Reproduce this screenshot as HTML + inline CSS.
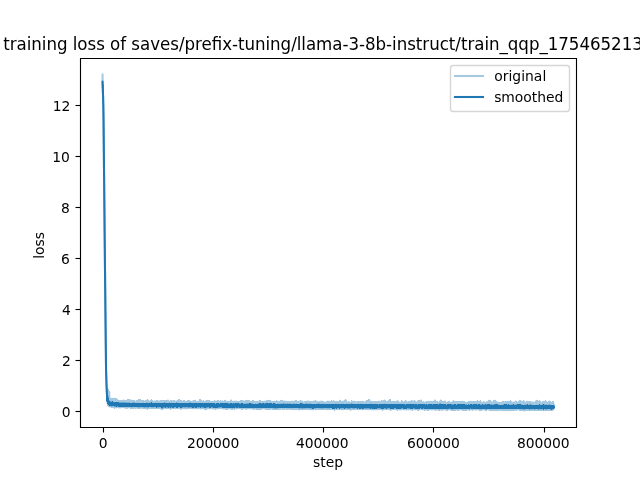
<!DOCTYPE html>
<html lang="en">
<head>
<meta charset="utf-8">
<title>training loss</title>
<style>
html,body{margin:0;padding:0;background:#fff;overflow:hidden}
svg{display:block;will-change:transform}
text{font-family:"DejaVu Sans", "Liberation Sans", sans-serif;fill:#000}
.t{font-size:13.889px}
.h{font-size:16.667px}
.sp{stroke:#000;stroke-width:1.111;fill:none;stroke-linecap:square}
.ln{fill:none;stroke:#1f77b4;stroke-width:2.083;stroke-linejoin:round;stroke-linecap:square}
.cr{shape-rendering:crispEdges;stroke-width:2.200}
</style>
</head>
<body>
<svg width="640" height="480" viewBox="0 0 640 480">
<rect width="640" height="480" fill="#fff"/>
<defs><clipPath id="ax"><rect x="80" y="58" width="496" height="369.5"/></clipPath></defs>
<g class="sp" style="stroke-linecap:butt">
<path d="M103.5 427.5v5"/><path d="M213.5 427.5v5"/><path d="M323.5 427.5v5"/><path d="M433.5 427.5v5"/><path d="M544.5 427.5v5"/><path d="M80.5 411.5h-5"/><path d="M80.5 360.5h-5"/><path d="M80.5 309.5h-5"/><path d="M80.5 258.5h-5"/><path d="M80.5 207.5h-5"/><path d="M80.5 156.5h-5"/><path d="M80.5 105.5h-5"/>
</g>
<g class="t" text-anchor="middle">
<text x="103.17" y="448.48">0</text><text x="213.17" textLength="52.50" lengthAdjust="spacing" y="448.48">200000</text><text x="322.29" textLength="52.50" lengthAdjust="spacing" y="448.48">400000</text><text x="433.41" textLength="52.62" lengthAdjust="spacing" y="448.48">600000</text><text x="543.28" textLength="52.62" lengthAdjust="spacing" y="448.48">800000</text>
<text x="328.00" textLength="30.00" lengthAdjust="spacing" y="467.47">step</text>
<text transform="translate(44.16 245.40) rotate(-90)" textLength="26.62" lengthAdjust="spacing">loss</text>
</g>
<g class="t" text-anchor="end">
<text x="70.66" y="416.78">0</text><text x="70.78" y="365.77">2</text><text x="70.78" y="314.77">4</text><text x="69.78" y="263.77">6</text><text x="69.78" y="212.77">8</text><text x="69.78" textLength="17.62" lengthAdjust="spacing" y="161.77">10</text><text x="70.28" textLength="17.62" lengthAdjust="spacing" y="110.77">12</text>
</g>
<defs><path id="po" d="M107.29 397.07L107.29 394.69L107.53 400.88L107.54 400.27L107.54 399.11L107.65 403.43L107.73 389.6L107.79 400.25L107.79 401.83L107.87 392.11L108.03 404.76L108.04 402.43L108.04 401.34L108.06 396.07L108.27 404.83L108.29 401.4L108.29 401.75L108.34 391.95L108.49 405.55L108.54 403.38L108.54 402.93L108.75 392.54L108.76 405.66L108.79 404.25L108.79 405.12L108.92 393.29L108.93 405.74L109.04 398.36L109.04 402.97L109.09 393.63L109.18 405.78L109.29 404.98L109.29 403.38L109.32 392.47L109.35 406.03L109.54 403.64L109.54 403.54L109.61 406.39L109.65 399.3L109.79 403.6L109.79 403.74L109.95 405.63L109.96 399.27L110.04 403.15L110.04 401.95L110.23 406.21L110.26 399.06L110.29 403.83L110.29 403.54L110.31 398.77L110.45 406.12L110.54 404.15L110.54 403.74L110.63 406.3L110.75 399.46L110.79 402.62L110.79 401.92L110.86 401.02L111.01 406.21L111.04 405.12L111.04 404.25L111.19 406.19L111.25 400.63L111.29 402.78L111.29 402.91L111.34 398.74L111.53 405.6L111.53 403.59L111.54 403.5L111.55 400.4L111.61 406.76L111.79 402.98L111.79 402.56L111.97 406.1L112.03 398.79L112.04 404.57L112.04 404.16L112.07 399.68L112.26 406.77L112.29 404.28L112.29 405.59L112.32 406.13L112.52 399.21L112.54 401.69L112.54 405.84L112.59 406.23L112.78 400.59L112.79 403.65L112.79 405.17L112.93 399.43L112.96 406.69L113.04 403.64L113.04 404.39L113.1 406.53L113.17 399.71L113.29 404.2L113.29 402.88L113.38 406.35L113.52 400.06L113.54 404.23L113.54 402.75L113.63 399.92L113.75 406.22L113.79 402.94L113.79 403.87L113.82 406.19L113.97 400.92L114.04 404.5L114.04 404.08L114.06 406.47L114.16 399.41L114.29 403.53L114.29 403.17L114.35 398.68L114.37 406.86L114.54 403.79L114.54 403.56L114.58 407.52L114.76 399.98L114.79 400.99L114.79 403.6L114.95 401.71L114.98 406.9L115.04 405.24L115.04 405.32L115.06 399.77L115.14 406.75L115.29 406.29L115.29 405.17L115.39 406.77L115.45 399.24L115.54 403.6L115.54 403.59L115.61 398.93L115.78 406.78L115.78 404.82L115.79 405.43L115.86 406.54L115.99 401.7L116.04 405.25L116.04 403.64L116.18 400.27L116.26 406.82L116.29 404.54L116.29 404.34L116.31 407.29L116.39 399.58L116.54 403.7L116.54 404.7L116.56 401.91L116.69 407.27L116.79 404.09L116.79 403.91L116.87 400.09L117.02 406.55L117.04 404.75L117.04 405.18L117.05 406.52L117.15 400.87L117.29 404.43L117.29 404.77L117.33 406.51L117.4 400.69L117.54 402.32L117.54 404.78L117.62 401.96L117.69 406.8L117.79 404.59L117.79 403.42L117.9 407.05L118.03 401.97L118.04 402.99L118.04 403.07L118.23 406.74L118.26 401.12L118.29 404.43L118.29 401.19L118.4 406.48L118.54 404.2L118.54 405.44L118.75 406.97L118.77 402.73L118.79 404.87L118.79 405.91L118.91 406.36L118.94 401.44L119.04 403.5L119.04 403.61L119.22 402.33L119.22 407.44L119.29 403.38L119.29 404.83L119.44 406.18L119.52 401.27L119.54 403.77L119.54 404.36L119.77 406.92L119.77 401.56L119.79 406.08L119.79 405.28L119.84 401.77L120.02 407.13L120.03 404.28L120.04 406.12L120.05 406.92L120.26 401.26L120.29 405.33L120.29 404.19L120.36 401.97L120.42 406.94L120.54 402.46L120.54 404.76L120.63 406.96L120.68 401.44L120.79 403.92L120.79 405.12L120.9 401.3L120.99 406.92L121.04 403.71L121.04 404.21L121.05 401.4L121.23 407.24L121.29 405.17L121.29 404.24L121.3 401.98L121.3 406.63L121.54 404.72L121.54 406.1L121.62 402.32L121.7 407.12L121.79 403.52L121.79 405.4L121.87 401.89L121.98 406.97L122.04 405.67L122.04 403.65L122.14 407.13L122.24 401.12L122.29 404.97L122.29 403.94L122.47 401.91L122.53 406.96L122.54 405.48L122.54 405.66L122.64 406.48L122.71 400.78L122.79 404.57L122.79 403.24L122.86 401.73L122.89 406.97L123.04 404.01L123.04 403.78L123.04 406.84L123.17 401.82L123.29 404.76L123.29 403.62L123.31 406.52L123.36 401.74L123.54 404.73L123.54 403.6L123.64 401.26L123.77 406.49L123.79 405.9L123.79 405.09L123.99 406.54L124.01 400.45L124.04 405.94L124.04 406.06L124.13 406.49L124.14 402.31L124.29 405.06L124.29 406.12L124.31 407.22L124.41 401.3L124.54 404.26L124.54 404.68L124.7 406.86L124.75 401.85L124.79 404.19L124.79 406.41L124.81 406.94L124.9 402.44L125.04 406.14L125.04 404.83L125.09 402.35L125.18 406.84L125.29 405.03L125.29 404.44L125.37 406.5L125.53 401.57L125.54 405.24L125.54 404.26L125.57 407.68L125.73 401.71L125.79 405.08L125.79 406.36L125.91 407.17L125.98 402.32L126.04 403.92L126.04 405.55L126.12 406.74L126.17 401.14L126.29 405.65L126.29 404.83L126.3 406.67L126.41 402.22L126.54 404.71L126.54 404.29L126.67 401.53L126.67 406.87L126.79 403.09L126.79 402.14L126.81 407.43L127.01 401.8L127.04 403.09L127.04 404.56L127.1 402.48L127.16 406.89L127.29 405.25L127.29 405.19L127.44 402.14L127.47 407.24L127.54 404.57L127.54 404.55L127.54 400.9L127.57 407.72L127.79 406.25L127.79 406.1L127.87 400.06L128.03 407.36L128.04 405.56L128.04 404.73L128.1 407.15L128.23 402.39L128.29 404.89L128.29 404.59L128.45 399.96L128.5 406.37L128.54 404.34L128.54 404.27L128.6 406.71L128.64 401.76L128.79 404.24L128.79 403.83L128.83 401.47L128.93 406.95L129.04 404.95L129.04 405.22L129.08 407.29L129.21 401.59L129.29 405.48L129.29 405.42L129.35 406.86L129.4 400.58L129.54 405.4L129.54 405L129.59 401.52L129.76 407.33L129.79 404.17L129.79 404.33L129.85 402.28L129.98 406.88L130.04 404.91L130.04 404.58L130.15 406.55L130.2 402L130.29 404.28L130.29 404.9L130.42 407.2L130.5 402.02L130.54 406.42L130.54 404.64L130.57 407.54L130.74 402.88L130.79 404.42L130.79 404.61L130.93 407.77L131 400.66L131.04 403.63L131.04 405.4L131.08 407.52L131.22 401.57L131.29 405.55L131.29 406.17L131.35 407.34L131.51 402.16L131.54 403.58L131.54 404.61L131.62 407.19L131.63 402.28L131.79 404.49L131.79 404.26L131.79 401.46L131.86 407.85L132.04 404.95L132.04 404.65L132.08 407.49L132.1 403.03L132.29 404.88L132.29 407.35L132.4 401.4L132.54 406.81L132.54 406L132.59 401.69L132.69 407.22L132.79 404.89L132.79 406.03L132.88 401.2L133 406.89L133.04 403.1L133.04 404.73L133.04 407.3L133.26 402.04L133.29 405.14L133.29 402.36L133.38 406.82L133.54 403.23L133.54 404.97L133.58 402.47L133.69 407.65L133.78 405.41L133.79 405.58L133.94 406.7L133.99 400.89L134.04 404.93L134.04 403.99L134.1 401.17L134.2 407.44L134.29 405L134.29 404.18L134.44 402.15L134.53 407.04L134.54 404.76L134.54 404.5L134.77 407.07L134.78 401.6L134.79 405.01L134.79 404.64L134.84 401.73L134.91 406.74L135.04 405.97L135.04 404.35L135.23 407.61L135.25 402.4L135.29 405.05L135.29 404.88L135.3 402L135.48 407.43L135.54 404.82L135.54 405.75L135.74 407.09L135.77 401.78L135.79 404.85L135.79 405.08L135.87 407.24L135.96 401.93L136.04 405.41L136.04 404.23L136.05 406.88L136.07 402.16L136.29 404.64L136.29 405.38L136.43 407.22L136.46 402.18L136.54 404.96L136.54 405.37L136.54 407.36L136.73 402.51L136.79 404.78L136.79 404.5L136.89 403.15L136.95 407.48L137.04 405.54L137.04 403.68L137.05 401.29L137.17 407.43L137.29 403.63L137.29 404.11L137.34 407.33L137.36 401.86L137.54 404.46L137.54 404.69L137.59 407.75L137.65 402.63L137.79 403.22L137.79 405.49L137.84 407.3L138 401.94L138.03 405.9L138.04 404.37L138.19 407.14L138.2 402.68L138.29 404.38L138.29 404.26L138.51 407.51L138.52 402.36L138.54 405.65L138.54 404.75L138.59 400.44L138.65 406.63L138.79 404.82L138.79 404.92L138.81 402.42L138.91 407.55L139.04 404.77L139.04 405.12L139.05 402.22L139.25 407.42L139.29 404.7L139.29 405.57L139.46 402.66L139.53 407.42L139.54 404.94L139.54 404.79L139.62 407.39L139.71 400.2L139.79 403.43L139.79 404.98L139.92 402.26L140 408.08L140.04 404.08L140.04 405.09L140.16 402.3L140.2 407.55L140.29 404.2L140.29 405.31L140.3 407.47L140.41 400.83L140.54 405.89L140.54 405.21L140.58 407.33L140.78 402.19L140.79 404.94L140.79 403.67L140.84 402.43L140.98 406.81L141.04 406.59L141.04 405.76L141.13 407.52L141.25 402.44L141.29 404.68L141.29 404.86L141.44 402.26L141.49 407.01L141.54 404.01L141.54 405.62L141.66 402.71L141.73 407.18L141.79 406.52L141.79 405.41L141.79 407.11L141.93 401.57L142.04 404.49L142.04 405.04L142.1 401.38L142.18 407.05L142.28 404.42L142.29 406.47L142.39 407.78L142.42 401.95L142.54 407.41L142.54 405.94L142.66 407.53L142.68 402.37L142.79 404.54L142.79 403.25L142.96 407.03L143.02 401.89L143.04 406.15L143.04 404.67L143.16 401.97L143.2 407.53L143.29 404.11L143.29 403.75L143.4 402.51L143.5 407.2L143.54 405.75L143.54 404.63L143.69 407.29L143.74 401.53L143.79 406.49L143.79 403.16L143.81 407.74L143.89 402.18L144.04 405.25L144.04 406.34L144.06 402.35L144.11 407.18L144.29 405.75L144.29 405.2L144.33 401.57L144.36 407.49L144.54 402.87L144.54 404.41L144.58 401.78L144.69 407.53L144.79 405.6L144.79 405.25L144.81 407.28L144.88 402.02L145.04 405.56L145.04 406.09L145.12 408.2L145.13 402.24L145.29 405.2L145.29 406.12L145.42 402.35L145.44 407.23L145.54 404.81L145.54 405.63L145.72 401.77L145.79 407.05L145.79 405.64L145.91 407.55L146.02 401.01L146.04 404.26L146.04 403.93L146.18 407.63L146.26 401.58L146.29 404.42L146.29 406.78L146.33 407.75L146.48 403.11L146.53 403.29L146.54 405.73L146.57 401.83L146.7 407.88L146.79 404.61L146.79 406.38L146.8 402.28L147.03 407.39L147.04 406.05L147.04 405.33L147.11 408.55L147.19 401.2L147.29 405.65L147.29 404.54L147.32 406.52L147.45 400.86L147.54 402.83L147.54 404.76L147.57 400.33L147.78 407.36L147.79 405.41L147.79 405.3L147.85 402.12L147.94 407.68L148.04 405.02L148.04 405.5L148.12 402.4L148.29 407.76L148.29 406.16L148.46 407.3L148.52 402.14L148.54 405.74L148.54 405.32L148.56 401.14L148.77 406.83L148.79 404.76L148.79 403.46L148.8 407.32L148.87 401.79L149.04 405.49L149.04 406.57L149.16 407.5L149.29 402.6L149.29 402.94L149.35 401.7L149.41 407.08L149.54 404.76L149.54 406.44L149.62 407.44L149.73 402.61L149.79 405.68L149.79 403.83L149.83 407.15L149.99 401.8L150.04 404.49L150.04 404.76L150.19 402.03L150.27 407.6L150.29 406.43L150.29 406.01L150.31 406.98L150.43 401.87L150.54 406.36L150.54 407.07L150.66 402.5L150.78 407.32L150.79 403.53L150.79 405.12L150.96 407.3L150.97 401.08L151.04 405.41L151.04 405.54L151.2 401.28L151.27 407.21L151.29 405.49L151.29 406.63L151.42 407.7L151.52 400.47L151.54 402.62L151.54 405.18L151.62 402.31L151.78 407.48L151.79 406.15L151.79 406.07L151.95 407.26L151.99 402.77L152.04 404.64L152.04 403.15L152.08 407.52L152.21 402.23L152.29 406.62L152.29 402.8L152.39 407.6L152.44 402.01L152.54 404.5L152.54 403.77L152.65 401.85L152.75 407.76L152.79 405.41L152.79 406.05L152.94 403.06L153.01 408.02L153.04 405.88L153.04 404.06L153.06 402.65L153.12 407.4L153.29 404.69L153.29 406.2L153.32 407.7L153.47 402.01L153.54 405.54L153.54 405.47L153.57 402.36L153.64 407.34L153.79 404.81L153.79 404.43L153.97 402.61L154 407.5L154.04 405.62L154.04 406.05L154.12 407.07L154.26 401.64L154.29 406.6L154.29 405.53L154.31 407.81L154.34 401.97L154.54 404.06L154.54 403.49L154.62 407.43L154.67 402.52L154.79 405.06L154.79 405.74L154.96 402.19L154.98 407.08L155.04 406.16L155.04 406.26L155.04 407.45L155.17 402.35L155.29 406.35L155.29 404.53L155.44 402.35L155.52 407.48L155.54 405.84L155.54 405L155.58 401.62L155.74 407.47L155.79 404.39L155.79 404.23L155.93 407.49L155.97 402.15L156.04 404.17L156.04 405.98L156.05 402L156.23 407.39L156.29 405.73L156.29 405.6L156.34 402.35L156.39 407.32L156.54 404.68L156.54 403.98L156.66 407.54L156.72 401.44L156.79 405.16L156.79 405.75L156.82 408.33L157.02 401.83L157.04 404.45L157.04 405.23L157.19 401.76L157.25 407.31L157.29 404.13L157.29 405.08L157.38 406.96L157.49 401.53L157.54 404.26L157.54 404.37L157.59 401.29L157.62 406.98L157.79 405.53L157.79 404.71L157.95 407.16L157.99 402.47L158.04 404.4L158.04 405L158.16 407.5L158.23 402.51L158.29 404.03L158.29 405.51L158.38 401.66L158.47 407.53L158.54 403.19L158.54 404.18L158.56 402.14L158.78 407.68L158.79 403L158.79 406.44L158.8 407.41L158.99 402.28L159.04 405.36L159.04 405.02L159.19 407.69L159.22 401.81L159.29 403.59L159.29 406.27L159.35 401.83L159.48 407.75L159.54 405.47L159.54 405.13L159.55 407.68L159.55 402.06L159.79 406.77L159.79 405.03L159.84 407.87L159.96 402.73L160.04 405.47L160.04 406.41L160.1 407.74L160.28 402.05L160.28 404.55L160.29 403.52L160.36 407.51L160.48 401.53L160.54 406.55L160.54 404.68L160.67 402.64L160.73 407.35L160.79 405.25L160.79 406.38L160.81 407.55L160.94 402.95L161.04 405.62L161.04 405.23L161.14 407.47L161.19 402.59L161.29 407.08L161.29 404.76L161.45 402.05L161.53 408.88L161.54 404.45L161.54 406.03L161.54 407.82L161.78 402.46L161.79 404.79L161.79 403.7L161.89 407.68L161.95 402.4L162.04 405.82L162.04 404.97L162.18 407.06L162.27 401.32L162.29 405.49L162.29 405.41L162.35 409.07L162.44 401.98L162.54 407.36L162.54 406.21L162.66 407.79L162.74 402.19L162.79 404.97L162.79 405.23L162.82 401.72L162.94 407.5L163.04 404.68L163.04 405.27L163.14 407.32L163.14 402.52L163.29 404.84L163.29 405.16L163.31 407.37L163.37 401.09L163.54 404.53L163.54 404.63L163.69 407.75L163.76 402.3L163.79 404.95L163.79 405.67L163.96 402L164.01 407.55L164.04 406.45L164.04 404.19L164.04 402.62L164.15 407.87L164.29 404.31L164.29 404.07L164.29 402.38L164.4 407.96L164.53 405.65L164.54 404.95L164.65 401.44L164.75 407.26L164.79 406.77L164.79 406.76L164.94 407.39L165.02 402.89L165.04 405.1L165.04 404.34L165.25 402.75L165.29 407.67L165.29 405.2L165.46 407.59L165.53 401.23L165.54 405L165.54 404.8L165.7 401.67L165.71 407.39L165.79 404.7L165.79 403.77L165.89 401.77L166.01 407L166.04 406.38L166.04 403.03L166.15 407.87L166.19 402.55L166.29 404.42L166.29 407.1L166.3 407.28L166.32 402.4L166.54 405.97L166.54 406.97L166.57 401.08L166.76 407.61L166.79 406.08L166.79 406.35L166.86 402.65L166.94 408.18L167.04 405.87L167.04 405.83L167.17 402.8L167.2 408L167.29 406.5L167.29 405.17L167.43 401.88L167.48 407.35L167.54 406.22L167.54 406.72L167.54 402.18L167.64 407.78L167.79 404.69L167.79 405.24L167.93 407.31L167.93 400.53L168.04 405.78L168.04 403.66L168.04 407.8L168.11 401.97L168.29 406.33L168.29 405.19L168.36 402.74L168.44 407.57L168.54 403.65L168.54 405.1L168.69 402.28L168.71 407.01L168.78 405.82L168.79 404.8L168.93 407.69L169.03 402.67L169.04 405.66L169.04 405.56L169.06 402.48L169.1 407.83L169.29 404.59L169.29 404.29L169.36 408.04L169.52 402.54L169.54 404.99L169.54 403.75L169.56 407.64L169.76 401.91L169.79 404.81L169.79 405.84L169.81 402.37L170.03 407.62L170.04 405.31L170.04 404.91L170.09 402.02L170.18 407.89L170.29 404.66L170.29 406.46L170.42 407.42L170.51 402.13L170.54 404.9L170.54 404.28L170.6 401.16L170.73 408.48L170.79 404.72L170.79 406.58L170.83 402.6L171.01 407.75L171.04 405.98L171.04 405.61L171.13 408.09L171.19 401.57L171.29 405.29L171.29 405.93L171.38 406.94L171.48 401.1L171.54 402.24L171.54 404.49L171.54 401.65L171.66 407.32L171.79 405.04L171.79 405.78L171.84 407.48L171.87 401.55L172.04 404.81L172.04 404L172.1 403.15L172.17 407.39L172.29 405.58L172.29 404.88L172.37 407.64L172.43 401.87L172.54 405.35L172.54 404.57L172.57 407.2L172.68 402.22L172.79 405.44L172.79 406.19L172.97 402.45L172.99 407.88L173.04 406.31L173.04 405.34L173.08 408.03L173.27 402.6L173.29 404.93L173.29 402.79L173.32 401.38L173.42 407.77L173.54 403.83L173.54 407.1L173.66 401.75L173.79 405.2L173.79 404.75L173.95 402.5L173.96 407.87L174.04 407.34L174.04 405.67L174.07 403.16L174.11 407.12L174.29 406.36L174.29 404.68L174.38 401.35L174.46 407.78L174.54 407.46L174.54 407.24L174.76 402.78L174.77 407.54L174.79 406.05L174.79 405.06L174.86 402.83L174.9 407.86L175.04 407.18L175.04 406.01L175.15 401.94L175.25 407.69L175.29 404.5L175.29 404.39L175.31 407.77L175.46 402.27L175.54 405.25L175.54 405.67L175.63 407.79L175.78 402.41L175.79 406.3L175.79 405.91L175.9 401.78L175.94 407.21L176.04 404.45L176.04 406.03L176.12 402.49L176.22 407.62L176.29 404.59L176.29 405.01L176.29 407.64L176.48 402.57L176.54 404.56L176.54 405.52L176.72 406.83L176.75 401.88L176.79 405.2L176.79 403.74L176.8 401.56L177 408.04L177.04 404.62L177.04 404.54L177.08 407.42L177.22 402.35L177.29 404.33L177.29 404.82L177.29 402.91L177.48 408.2L177.54 405.71L177.54 406.21L177.59 402.33L177.73 407.84L177.79 406.5L177.79 406.31L177.79 406.6L177.95 401.01L178.04 404.02L178.04 403.05L178.21 402.33L178.28 407.72L178.29 405.57L178.29 406.38L178.37 407.76L178.38 402.78L178.54 404.73L178.54 406.4L178.68 407.83L178.77 402.21L178.79 405.97L178.79 406.54L178.88 400.29L178.99 407.49L179.04 405.72L179.04 405.69L179.11 407.65L179.13 401.73L179.29 403.48L179.29 405.77L179.44 402.45L179.51 407.59L179.54 404.78L179.54 403.99L179.6 407.53L179.65 402.05L179.79 404.95L179.79 404.37L179.9 407.7L179.97 402.22L180.04 406.93L180.04 404.98L180.05 407.85L180.23 402.45L180.29 406.2L180.29 405.9L180.39 408.09L180.43 402.81L180.54 405.05L180.54 405.92L180.57 402.26L180.61 408.6L180.79 406.47L180.79 404.83L180.79 407.44L180.93 401.81L181.04 403.25L181.04 405.58L181.18 401.39L181.27 406.83L181.29 404.1L181.29 405.26L181.31 403.14L181.46 408.21L181.54 404.72L181.54 405.23L181.65 407.76L181.7 402.35L181.79 405.68L181.79 405.82L181.85 407.62L181.91 402.6L182.04 405.02L182.04 403.48L182.13 407.78L182.21 401.79L182.29 405L182.29 403.15L182.35 402.57L182.48 407.59L182.53 405.38L182.54 405.72L182.6 407.33L182.74 402.62L182.79 405.89L182.79 403.76L182.86 402.49L182.97 408.27L183.04 404.95L183.04 405.02L183.16 402.68L183.23 407.3L183.29 404.14L183.29 403.72L183.33 401.93L183.49 407.53L183.54 406.23L183.54 405.86L183.63 407.98L183.76 401.89L183.79 406.34L183.79 405.55L183.8 401.32L183.96 407.7L184.04 405.39L184.04 406.95L184.07 407.43L184.17 402.57L184.29 405.23L184.29 406.74L184.31 407.9L184.52 402.42L184.54 406L184.54 403.58L184.6 402.39L184.75 407.19L184.79 405.43L184.79 404.98L184.85 402.85L184.94 408.04L185.04 404.63L185.04 405.54L185.17 407.71L185.23 401.95L185.29 406.51L185.29 404.44L185.36 407.91L185.51 402.63L185.54 403.9L185.54 404.53L185.67 408.41L185.72 402.05L185.79 405.1L185.79 405.95L185.8 401.79L185.82 407.55L186.04 406.26L186.04 405.78L186.15 407.89L186.25 402.76L186.29 404.9L186.29 402.9L186.3 407.47L186.33 402.11L186.54 405.67L186.54 404.54L186.72 402.27L186.73 407.66L186.78 406.66L186.79 407.01L186.8 402.8L186.88 407.55L187.04 404.9L187.04 405.27L187.07 407.41L187.27 401.94L187.29 405.59L187.29 403.11L187.42 402.02L187.53 408.14L187.54 407.43L187.54 407.03L187.67 408.07L187.76 402.56L187.79 404.53L187.79 404.76L187.98 402.83L188.02 407.27L188.04 405.83L188.04 404.9L188.07 407.71L188.16 401.39L188.29 405.72L188.29 407.07L188.3 402.09L188.53 407.84L188.54 405.55L188.54 404.33L188.55 407.8L188.7 401.88L188.79 404.91L188.79 403.66L188.85 407.17L188.96 402.81L189.04 403.97L189.04 404.85L189.14 407.61L189.27 402.06L189.29 405.07L189.29 404.6L189.34 402.34L189.45 407.74L189.54 405.62L189.54 404.98L189.71 401.38L189.74 407.53L189.79 406.5L189.79 406.89L189.95 407.55L189.97 402.31L190.04 404.97L190.04 405.42L190.09 401.73L190.18 407.25L190.29 405.99L190.29 404.65L190.31 407.4L190.42 402.14L190.54 404.55L190.54 405.64L190.61 402.02L190.75 407.35L190.79 404.89L190.79 403.32L190.82 402.26L190.86 407.51L191.03 404.66L191.04 406.62L191.1 407.69L191.14 402.68L191.29 405.19L191.29 405.61L191.3 407.63L191.42 402.33L191.54 404.2L191.54 405.7L191.64 402.96L191.75 407.84L191.79 407.79L191.79 407.09L191.92 402.69L191.97 407.91L192.04 404.99L192.04 405.4L192.11 408.04L192.25 401.78L192.29 405.35L192.29 405.18L192.39 402.45L192.46 407.91L192.54 404.25L192.54 405.83L192.57 402.51L192.6 408.27L192.79 405.16L192.79 403.98L193.01 402.77L193.02 407.33L193.04 406.38L193.04 407.07L193.11 401.61L193.19 408.24L193.29 406.56L193.29 406.63L193.37 408.21L193.43 401.78L193.54 406.33L193.54 406.19L193.58 408.11L193.59 402.99L193.79 404.67L193.79 405.83L193.84 407.85L193.94 402.82L194.04 406.61L194.04 406.24L194.11 407.57L194.28 401L194.29 404.81L194.29 404.85L194.29 402.62L194.42 407.96L194.54 405.2L194.54 404.62L194.68 402L194.76 407.73L194.79 405.29L194.79 405.92L194.82 407.04L194.91 402.47L195.04 404.39L195.04 405.66L195.11 400.68L195.17 407.41L195.28 405.89L195.29 406.1L195.36 407.66L195.43 402.69L195.54 404.9L195.54 406.08L195.62 408.04L195.76 402.51L195.79 406.14L195.79 405.46L195.91 402.23L195.95 407.98L196.04 407.21L196.04 405.99L196.07 402.93L196.24 407.74L196.29 404.85L196.29 404.32L196.33 402.45L196.48 408.33L196.54 405.59L196.54 406.34L196.61 402.94L196.63 407.87L196.79 404.64L196.79 405.04L196.91 402.37L196.99 407.52L197.04 406.47L197.04 407.13L197.04 407.98L197.21 402.29L197.29 404.76L197.29 404.95L197.29 407.41L197.31 401.91L197.54 404.77L197.54 404.95L197.6 402.73L197.63 407.7L197.79 404.27L197.79 405.38L197.82 407.86L198.03 402.75L198.04 402.79L198.04 404.48L198.25 408.08L198.28 403.03L198.29 403.88L198.29 406.26L198.37 408.26L198.53 402.56L198.54 404.2L198.54 404.44L198.58 402.99L198.72 407.41L198.79 406.54L198.79 404.62L198.87 407.76L199.03 402.36L199.04 405.76L199.04 404.5L199.1 407.25L199.12 401.43L199.29 405.14L199.29 404.94L199.5 407.71L199.53 402.99L199.54 404.13L199.54 401.98L199.57 401.85L199.68 407.8L199.79 405.55L199.79 405.96L199.82 402.39L199.98 407.52L200.04 402.52L200.04 404.66L200.14 400.34L200.21 407.23L200.29 404.91L200.29 404.26L200.31 402.3L200.36 407.53L200.54 405.16L200.54 405.96L200.7 402.45L200.78 407.56L200.79 406.35L200.79 403.84L200.84 402.9L200.89 408.47L201.04 405.15L201.04 403.62L201.11 401.94L201.2 407.61L201.29 404.92L201.29 404.33L201.39 401.33L201.51 407.68L201.54 406.18L201.54 403.9L201.66 408.06L201.71 401.83L201.79 404.01L201.79 406.54L201.81 407.41L202.03 401.52L202.04 406.76L202.04 405.75L202.18 407.35L202.18 401.86L202.29 405.68L202.29 405.15L202.34 407.53L202.38 402.17L202.54 405.26L202.54 407.3L202.6 402.54L202.75 407.76L202.79 406.72L202.79 405.76L202.98 403.4L203.02 408.02L203.04 404.46L203.04 404.82L203.15 407.44L203.22 402.4L203.29 404.51L203.29 404.59L203.39 401.54L203.53 407.18L203.54 406.39L203.54 404.35L203.66 403.24L203.73 407.89L203.79 406.14L203.79 406.18L203.83 402.08L203.94 407.46L204.04 406.38L204.04 405.06L204.17 408.07L204.22 402.29L204.29 405.18L204.29 406.46L204.33 402.17L204.4 408.35L204.54 404.44L204.54 405.61L204.71 408.48L204.71 402.97L204.79 406.51L204.79 407.27L204.85 407.87L204.95 401.93L205.04 404.4L205.04 403.2L205.08 402.84L205.24 407.85L205.29 406.07L205.29 405.94L205.32 402.2L205.53 407.26L205.54 406.76L205.54 404.87L205.57 403.09L205.74 408.05L205.79 406.92L205.79 405.2L205.89 401.78L205.98 408.59L206.04 405.98L206.04 405.98L206.14 407.62L206.25 401.37L206.29 404.91L206.29 401.94L206.47 407.16L206.54 404.94L206.54 404.52L206.67 407.75L206.7 402.11L206.79 405.55L206.79 405.16L206.92 401.87L207.02 407.44L207.04 404.25L207.04 406.89L207.05 407.68L207.1 402.26L207.29 405.39L207.29 406.72L207.4 402.84L207.42 408.13L207.54 404.23L207.54 402.58L207.76 407.45L207.76 401.33L207.79 404.11L207.79 405.6L207.98 407.22L208.03 402.83L208.04 404.94L208.04 405.39L208.1 407.51L208.26 402.41L208.29 406.12L208.29 402.85L208.29 402.72L208.47 407.79L208.54 405.88L208.54 405.72L208.64 402.33L208.75 407.6L208.79 405.11L208.79 405.24L208.82 402.33L208.87 408.01L209.03 403.92L209.04 406.09L209.06 407.99L209.26 400.97L209.29 402.18L209.29 405.07L209.29 403.04L209.4 407.84L209.54 405.56L209.54 407.04L209.56 402.05L209.57 407.97L209.79 407.65L209.79 405.92L209.79 408.42L209.94 402.4L210.04 405.74L210.04 405.66L210.05 408.02L210.19 402.23L210.29 407.09L210.29 406.37L210.37 408.22L210.45 402.61L210.54 407.14L210.54 406.46L210.54 407.66L210.64 402.59L210.79 406.52L210.79 405.69L210.83 407.19L210.89 402.28L211.04 406.92L211.04 405.05L211.04 407.61L211.15 402.11L211.29 404.87L211.29 405.87L211.33 402.42L211.51 407.8L211.54 406.5L211.54 406.3L211.59 407.67L211.66 402.24L211.79 406.12L211.79 404.52L211.88 407.94L212 402.44L212.04 405.46L212.04 403.28L212.21 407.85L212.23 402.69L212.29 404.57L212.29 405.12L212.36 407.48L212.46 402.36L212.54 405.91L212.54 405.69L212.71 402.24L212.78 407.45L212.79 406.06L212.79 405.66L212.93 408.41L212.94 402.91L213.04 403.56L213.04 405.66L213.04 402.95L213.15 407.51L213.28 403.59L213.29 405.24L213.31 402.39L213.45 408.19L213.54 406.24L213.54 405.86L213.66 408.15L213.78 401.93L213.79 404.96L213.79 405.49L213.87 402.92L213.99 407.77L214.04 407.15L214.04 406.39L214.15 408.34L214.23 403.39L214.29 404.8L214.29 404.31L214.29 402.56L214.47 407.97L214.54 404.97L214.54 405.53L214.55 407.03L214.7 401.49L214.79 405.69L214.79 404.28L214.8 402.49L215.02 408.32L215.04 407.68L215.04 405.73L215.24 402.99L215.28 408.04L215.29 407.96L215.29 406.23L215.42 402.54L215.5 408.05L215.54 405.13L215.54 404.93L215.61 403.01L215.72 408.38L215.79 405.99L215.79 406.5L215.81 408.52L216.03 401.48L216.04 407.19L216.04 404.07L216.04 402.68L216.06 407.64L216.29 405.41L216.29 404.64L216.36 403.41L216.41 407.67L216.54 406.02L216.54 404.65L216.72 402.9L216.73 407.15L216.79 405.4L216.79 403.74L216.88 402.06L216.94 408.05L217.04 407.17L217.04 406.78L217.18 408.33L217.28 402.02L217.29 406.13L217.29 404.44L217.45 407.75L217.53 401.92L217.53 405.14L217.54 404.03L217.6 402.5L217.71 407.92L217.79 406.45L217.79 404.83L217.8 407.6L217.98 401.1L218.04 404.63L218.04 404.68L218.08 402.87L218.24 407.89L218.29 405.56L218.29 405.81L218.36 407.68L218.41 402.2L218.54 405.6L218.54 406.26L218.64 408.22L218.73 402.89L218.79 405.69L218.79 404.78L218.81 407.92L218.89 402.35L219.04 405.31L219.04 404.91L219.09 402.72L219.18 408.25L219.29 405.79L219.29 404.45L219.3 407.92L219.36 402.66L219.54 406.24L219.54 405.3L219.66 401.71L219.73 408L219.79 405.13L219.79 406.07L219.87 402.89L219.97 408.01L220.04 405.79L220.04 405.13L220.12 401.92L220.24 407.81L220.29 406.18L220.29 403.46L220.3 401.55L220.47 407.77L220.54 405.66L220.54 403.77L220.6 401.52L220.73 407.91L220.79 404.35L220.79 404.11L220.93 402.71L221.02 407.83L221.04 405.33L221.04 405.4L221.19 407.8L221.23 401.94L221.29 405.53L221.29 404.66L221.38 402.77L221.49 407.59L221.54 407.09L221.54 405.85L221.55 402.56L221.77 407.55L221.79 404.66L221.79 406.91L221.93 402.74L222.02 407L222.04 404.89L222.04 403.93L222.18 407.79L222.23 401.65L222.29 403.46L222.29 405.38L222.33 402.56L222.44 407.66L222.54 405.08L222.54 403.59L222.63 407.61L222.72 402.63L222.79 405.17L222.79 405.9L222.94 402.44L223.03 408.11L223.04 406.21L223.04 405.7L223.09 401.71L223.28 407.76L223.29 406.35L223.29 404L223.48 408.39L223.5 403.06L223.54 406.31L223.54 407.68L223.58 408.22L223.64 402.83L223.79 407.01L223.79 405.99L223.81 403.13L223.96 408.14L224.04 405.89L224.04 404.06L224.04 407.59L224.13 401.79L224.29 404.3L224.29 406.64L224.33 402.72L224.4 408.24L224.54 406.07L224.54 405.92L224.66 407.98L224.73 402.92L224.79 405.31L224.79 405.96L224.83 407.8L224.89 401.88L225.04 405.33L225.04 405.83L225.23 400.74L225.27 407.59L225.29 405.24L225.29 406.52L225.32 402.42L225.33 408.48L225.54 404.94L225.54 406.07L225.71 401.47L225.76 407.38L225.79 404.15L225.79 406.31L225.8 407.57L226 402.21L226.04 406.1L226.04 405.35L226.2 403.06L226.25 407.67L226.29 406.23L226.29 404.87L226.31 407.68L226.39 402L226.54 405.88L226.54 405.33L226.57 402.86L226.76 408.52L226.79 405.82L226.79 406.46L226.81 403.04L226.88 407.29L227.04 405.57L227.04 405.17L227.23 402.19L227.29 407.27L227.29 404.21L227.32 408.57L227.5 401.94L227.54 404.15L227.54 404.91L227.66 402.23L227.69 408.03L227.79 404.13L227.79 407.56L227.82 408.43L227.98 402.6L228.04 406.8L228.04 404.82L228.14 402.99L228.2 407.86L228.29 406.12L228.29 405.08L228.38 402.69L228.43 408.34L228.54 406.32L228.54 406.07L228.59 401.92L228.78 407.57L228.79 407.3L228.79 406.08L228.89 402.82L228.94 408.19L229.04 406.5L229.04 404.2L229.09 407.95L229.14 403.15L229.29 406.26L229.29 406.22L229.29 407.17L229.38 402.26L229.54 403.46L229.54 403.81L229.54 401.8L229.7 408.24L229.79 405.55L229.79 407.05L229.96 402.65L230 407.75L230.04 406.12L230.04 403.54L230.1 407.74L230.17 402.26L230.29 404.73L230.29 406.67L230.34 402.27L230.47 407.76L230.54 405.99L230.54 404.53L230.56 401.88L230.74 407.78L230.79 405.99L230.79 405.7L230.94 408.09L231 403.09L231.04 405.29L231.04 403.53L231.08 407.45L231.18 400.63L231.28 405.93L231.29 404.27L231.31 402.09L231.44 407.73L231.54 405.61L231.54 406L231.67 408.84L231.78 402.81L231.79 406.56L231.79 405.36L231.85 408.33L231.87 403.23L232.04 406.8L232.04 405.07L232.06 402.56L232.09 408.49L232.29 406.69L232.29 405.77L232.5 402.17L232.5 408.04L232.54 404.87L232.54 406.06L232.62 407.92L232.78 402.76L232.79 405.33L232.79 405.15L232.9 402.35L232.98 408.17L233.04 406.55L233.04 405.58L233.05 408.07L233.26 402.4L233.29 406.44L233.29 404.94L233.5 402.28L233.54 407.35L233.54 404.83L233.71 408.2L233.77 402.27L233.79 405.12L233.79 405.26L233.87 402.61L233.88 408.42L234.04 404.99L234.04 404.5L234.09 401.72L234.25 408.55L234.29 406.95L234.29 406.03L234.36 401.7L234.49 407.75L234.54 405.78L234.54 405.89L234.56 408.27L234.78 402.61L234.79 404.86L234.79 406.47L234.79 407.61L235.01 402.42L235.04 406.42L235.04 405.95L235.1 407.78L235.16 403.26L235.29 406.01L235.29 406.02L235.44 401.69L235.44 408L235.53 406.29L235.54 404.53L235.58 402.78L235.73 408.03L235.79 404.88L235.79 404.82L235.89 402.36L235.96 408.1L236.04 405.84L236.04 404.21L236.04 407.42L236.08 401.56L236.29 406.74L236.29 405.32L236.45 402.8L236.5 407.87L236.54 406.29L236.54 405.96L236.71 408.21L236.77 402.04L236.79 406.64L236.79 405.63L236.87 408.47L236.92 402.2L237.04 403.86L237.04 403.81L237.07 402.72L237.23 407.91L237.29 405.4L237.29 405.58L237.36 403.06L237.43 408.19L237.54 405.47L237.54 407.47L237.57 402.96L237.66 407.71L237.79 405.15L237.79 404.36L237.96 402.5L238.01 407.95L238.04 405.44L238.04 404.44L238.19 402.26L238.26 407.48L238.29 405.04L238.29 405.34L238.32 402.26L238.33 407.7L238.54 405.31L238.54 405.95L238.59 402.49L238.72 407.8L238.79 405.52L238.79 405.69L238.98 407.83L239.02 403.06L239.04 405.27L239.04 404.81L239.2 407.82L239.23 402.18L239.29 405.58L239.29 405.34L239.34 403.02L239.42 408.18L239.54 405.51L239.54 404.48L239.55 402.83L239.65 408.05L239.78 405.98L239.79 403.85L239.85 402.12L239.98 407.61L240.04 405.68L240.04 405.83L240.07 407.95L240.18 402.89L240.29 405.17L240.29 403.47L240.33 401.56L240.38 407.79L240.54 405.89L240.54 405.07L240.6 408.14L240.68 401.73L240.79 403.91L240.79 404.88L240.9 401.41L241.01 407.33L241.04 406.53L241.04 406.31L241.15 407.83L241.23 403.07L241.29 405.42L241.29 404.69L241.3 407.33L241.51 402.05L241.54 405.68L241.54 405.32L241.76 403.01L241.78 407.79L241.79 405.11L241.79 406.26L241.8 408L242.02 401.12L242.04 406.86L242.04 403.09L242.05 401.82L242.16 408.73L242.29 405.08L242.29 404.98L242.41 408.53L242.47 400.96L242.54 405.88L242.54 406.29L242.55 407.82L242.69 403.04L242.79 405.76L242.79 406.04L242.85 408.36L242.9 401.75L243.04 406.73L243.04 407.42L243.07 403.06L243.16 408.31L243.29 406.65L243.29 404.62L243.43 407.96L243.49 403.24L243.54 406.02L243.54 407.58L243.67 402.91L243.75 408.14L243.79 406.54L243.79 405.32L243.89 402.19L244.03 407.89L244.03 405.77L244.04 405.97L244.07 401.47L244.19 407.72L244.29 405.16L244.29 406.39L244.33 402.9L244.33 407.4L244.54 405.91L244.54 406.99L244.55 408.15L244.55 403.12L244.79 406.48L244.79 404.57L244.82 402.03L244.95 408.19L245.04 406.92L245.04 405.47L245.08 402.3L245.17 407.78L245.29 405.26L245.29 406.09L245.35 407.51L245.53 402.13L245.54 406.51L245.54 405.97L245.65 407.8L245.66 401.54L245.79 404.28L245.79 404.12L245.88 402.34L245.95 407.23L246.04 406.3L246.04 404.93L246.1 403.07L246.15 407.52L246.29 406.94L246.29 406.07L246.29 402.21L246.37 408.36L246.54 407.73L246.54 407.68L246.59 408.45L246.71 402.9L246.79 404.79L246.79 406.26L246.85 402.02L246.97 407.81L247.04 404.76L247.04 405.84L247.04 400.69L247.07 407.56L247.29 405.77L247.29 403.97L247.38 402.47L247.49 407.55L247.54 405.33L247.54 405.84L247.57 408.22L247.65 402.45L247.79 405.94L247.79 405.7L247.97 408.12L247.98 402.4L248.04 405.43L248.04 407.93L248.22 403.02L248.29 406.59L248.29 405.31L248.39 402.48L248.5 408.1L248.54 405.36L248.54 406.57L248.69 401.22L248.74 408.28L248.79 403.62L248.79 405.19L248.86 408.29L248.92 402.2L249.04 406.38L249.04 403.69L249.2 402.75L249.27 407.96L249.29 406.75L249.29 403.85L249.29 402.7L249.44 407.57L249.54 406.41L249.54 405.97L249.68 402.23L249.78 408.12L249.79 406.12L249.79 407.25L249.86 407.86L249.86 402.81L250.04 404.55L250.04 404.64L250.07 402.59L250.17 407.63L250.29 405.47L250.29 407.05L250.39 408.24L250.52 402.01L250.54 405.3L250.54 405.1L250.64 408.02L250.75 403.05L250.79 405.98L250.79 405.96L250.84 408L251.02 402.29L251.04 407.21L251.04 406.69L251.11 408.25L251.27 402.81L251.29 406.03L251.29 407.21L251.39 407.88L251.44 402.57L251.54 405.83L251.54 404.02L251.55 402.01L251.65 408.34L251.79 404.66L251.79 402.6L251.93 408.39L252.04 405.38L252.04 405.82L252.05 408.54L252.24 402.52L252.29 404.24L252.29 404.94L252.36 402.34L252.52 408.34L252.54 406.18L252.54 407.08L252.58 408.14L252.63 401.01L252.79 406.5L252.79 404.66L252.89 408.03L252.93 402.12L253.04 406.77L253.04 405.93L253.22 407.82L253.24 402.23L253.29 405.12L253.29 406.07L253.4 408.47L253.46 403L253.54 405.1L253.54 406.44L253.67 402.4L253.72 407.99L253.79 406.03L253.79 405.09L253.95 408.02L254.01 402.53L254.04 405.51L254.04 405.88L254.1 408.54L254.2 403.3L254.29 406.16L254.29 404.53L254.3 408.09L254.53 403.22L254.54 406.86L254.54 405.59L254.7 402.44L254.76 407.87L254.79 407.43L254.79 405.3L254.8 407.67L255.02 403.1L255.04 404.84L255.04 404.92L255.07 402.24L255.2 408.48L255.29 406.84L255.29 406.86L255.46 407.98L255.49 402.38L255.54 404.94L255.54 406.64L255.59 402.9L255.68 408.16L255.79 404.42L255.79 405.83L255.8 403.32L255.97 408.22L256.04 405.94L256.04 405.2L256.04 403.4L256.15 408.14L256.29 405.85L256.29 406.5L256.43 408L256.49 402.02L256.54 404.7L256.54 405.72L256.64 407.98L256.72 402.2L256.79 406.08L256.79 405.68L256.79 402.46L256.82 408.93L257.04 405.56L257.04 406.26L257.04 407.69L257.2 402.81L257.29 407.37L257.29 405.64L257.32 402.8L257.46 407.8L257.54 405.99L257.54 406.53L257.66 408L257.78 402.95L257.78 405.82L257.79 405.68L257.8 402.66L258.01 407.47L258.04 407.07L258.04 405.8L258.05 402.28L258.16 407.87L258.29 405.17L258.29 404.89L258.47 408.05L258.51 402.39L258.54 405.54L258.54 405.52L258.55 408.11L258.78 402.46L258.79 405.2L258.79 404.42L258.83 402.04L258.98 408.11L259.04 405.23L259.04 407.69L259.06 401.63L259.2 408.08L259.29 406.32L259.29 407.06L259.35 409.11L259.51 402.12L259.54 404.31L259.54 404.17L259.66 408.33L259.76 401.35L259.79 405.3L259.79 404.85L259.83 402.16L259.99 407.4L260.04 405.23L260.04 403.5L260.09 402.97L260.16 408.16L260.29 406.01L260.29 404.66L260.45 402.52L260.52 408.5L260.54 405.87L260.54 406.63L260.62 401.9L260.75 407.91L260.79 403.98L260.79 405.64L260.84 402.57L261.03 408.38L261.04 405.33L261.04 406.64L261.08 408.86L261.14 402.93L261.29 406.88L261.29 406.25L261.36 407.81L261.46 402.89L261.54 405.08L261.54 404.15L261.63 402.57L261.78 408.43L261.79 407.09L261.79 405.85L261.9 408.32L261.93 403.31L262.03 405.43L262.04 406.48L262.08 403.12L262.24 407.75L262.29 404.74L262.29 403.77L262.44 402.83L262.51 407.51L262.54 405.33L262.54 405.9L262.6 407.62L262.62 402.47L262.79 406.33L262.79 403.78L262.94 402.96L262.95 408.2L263.04 406.85L263.04 405.66L263.05 407.66L263.23 402.68L263.29 405.64L263.29 406.26L263.38 407.59L263.45 402.37L263.54 406.34L263.54 406.33L263.59 403.02L263.76 408.04L263.79 406.98L263.79 407.46L263.85 402.05L264.03 407.87L264.04 406.03L264.04 406.87L264.04 407.79L264.19 401.73L264.29 405.62L264.29 405.62L264.33 407.68L264.45 403.07L264.54 405.94L264.54 406.05L264.66 408.3L264.78 402.66L264.79 404.62L264.79 406.64L264.81 407.49L264.96 401.9L265.04 405.66L265.04 405.96L265.05 402.31L265.07 407.99L265.29 405.39L265.29 405.08L265.3 402.6L265.43 408.37L265.54 404.51L265.54 407.1L265.57 402.11L265.57 407.87L265.79 405.35L265.79 404.7L265.84 408.26L265.98 402.04L266.04 405.2L266.04 405.24L266.04 408.71L266.07 402.73L266.28 406.6L266.29 406.59L266.36 408.36L266.46 403.56L266.54 404.5L266.54 405.59L266.71 401.28L266.75 407.94L266.79 405.97L266.79 405.78L266.85 408.37L266.98 403.35L267.04 406.68L267.04 407.3L267.09 408.04L267.13 401.95L267.29 406.66L267.29 406.59L267.32 402.93L267.37 408.59L267.54 404.71L267.54 405.78L267.6 402.39L267.65 407.87L267.79 404.76L267.79 404.79L268 403.36L268.03 408.41L268.04 407.98L268.04 406.4L268.05 407.57L268.09 402.72L268.29 405.07L268.29 405.88L268.4 408.29L268.52 401.92L268.54 406.23L268.54 407.41L268.75 402.96L268.79 405.2L268.79 406.02L268.85 408.55L268.88 400.76L269.04 405.06L269.04 405.27L269.05 407.88L269.21 403.32L269.29 404.9L269.29 404.94L269.29 408.09L269.43 401.99L269.54 406.38L269.54 406.4L269.62 403.24L269.71 408.7L269.79 406.12L269.79 405.96L270 408.13L270 402.1L270.04 406.05L270.04 403.85L270.08 407.74L270.18 401.21L270.29 405.56L270.29 406.99L270.32 407.76L270.38 401.33L270.53 404.83L270.54 404.1L270.55 401.88L270.63 408.09L270.79 404.74L270.79 404.78L270.82 402.76L270.92 408L271.04 406.96L271.04 406.44L271.07 408.48L271.14 402.36L271.29 405.3L271.29 406.28L271.39 402.33L271.49 408.3L271.54 404.44L271.54 405.1L271.59 402.62L271.78 407.88L271.79 405.32L271.79 405.63L271.81 403.18L271.87 408.49L272.04 406.33L272.04 405.52L272.08 402.53L272.26 407.81L272.29 405.65L272.29 406.11L272.34 402.24L272.37 408.11L272.54 406.06L272.54 405.59L272.72 408.41L272.76 402.22L272.79 405.48L272.79 405.66L272.9 407.85L273.01 402.4L273.04 406.13L273.04 404.61L273.1 407.81L273.13 402.06L273.29 405.28L273.29 405.8L273.3 408.8L273.38 403.31L273.54 406.4L273.54 407.23L273.58 408.69L273.71 403.23L273.79 405.59L273.79 405.36L273.9 402.23L273.96 407.89L274.04 406.34L274.04 405.01L274.05 401.77L274.14 407.85L274.29 406.79L274.29 405.15L274.35 402.29L274.54 408.54L274.54 408L274.77 403.31L274.79 406.25L274.79 406.7L274.87 402.71L275 408.81L275.04 406.27L275.04 407.3L275.17 402.87L275.24 408.77L275.29 406.79L275.29 405.31L275.39 402.18L275.46 407.99L275.54 405.19L275.54 405.39L275.61 408.88L275.66 402.46L275.79 406.37L275.79 405.35L275.89 402.9L275.92 408.36L276.04 405.23L276.04 405.28L276.08 403.31L276.24 408.12L276.29 406.88L276.29 407.32L276.37 408.18L276.42 402.63L276.54 406.27L276.54 405.11L276.54 402.4L276.68 408.19L276.79 404.93L276.79 406.1L276.8 401.52L276.93 408.44L277.04 407.14L277.04 406.36L277.07 408.78L277.16 403.45L277.29 406.64L277.29 407.17L277.29 408.77L277.52 402.23L277.54 406.01L277.54 405.45L277.57 403.04L277.71 408.14L277.79 406.92L277.79 407.14L277.82 402.96L277.9 408.11L278.04 404.36L278.04 405.8L278.05 401.93L278.26 408.55L278.29 405.31L278.29 404.88L278.29 408.08L278.49 403.29L278.54 405.44L278.54 405.76L278.58 403.39L278.76 408.46L278.79 405.54L278.79 407.29L278.86 408.7L278.99 402.74L279.04 405.89L279.04 406.14L279.11 401.94L279.26 408.12L279.29 404.77L279.29 404.65L279.36 403.09L279.49 408.24L279.54 405.9L279.54 406.96L279.7 408.04L279.71 402.27L279.79 406.71L279.79 406.14L279.8 403.07L279.99 408.2L280.04 404.42L280.04 405.43L280.17 408.58L280.24 402.52L280.29 405.61L280.29 406.41L280.36 408.38L280.45 403.38L280.54 407.14L280.54 405.26L280.57 402.84L280.62 407.71L280.79 405.54L280.79 404.19L280.89 407.86L281.01 403.05L281.04 406.25L281.04 406.12L281.12 408.54L281.23 401.27L281.29 407.15L281.29 405.02L281.41 400.89L281.48 408.17L281.54 405.93L281.54 405.07L281.57 408.33L281.68 402.28L281.79 404.68L281.79 406.96L281.87 408.2L282.03 401.15L282.04 406.25L282.04 404.77L282.12 403.22L282.18 408.23L282.29 406.55L282.29 406.66L282.4 408.33L282.44 402.35L282.54 408.06L282.54 407.21L282.7 408.31L282.72 403.44L282.79 406.08L282.79 403.21L282.98 408.73L283.04 406.33L283.04 406.07L283.16 408.01L283.24 402.36L283.29 406.6L283.29 405.27L283.34 402.88L283.52 408.14L283.54 407.06L283.54 406.6L283.65 401.78L283.69 408.44L283.79 405.96L283.79 406.78L283.87 402.64L284 408.02L284.04 404.26L284.04 406.74L284.08 401.86L284.26 407.87L284.28 405.24L284.29 403.39L284.45 403.12L284.48 408.93L284.54 407.82L284.54 405.8L284.63 401.87L284.71 408.2L284.79 404.44L284.79 405.66L284.86 408.09L284.87 401.64L285.04 405.03L285.04 403.65L285.12 408.28L285.29 404.88L285.29 404.26L285.34 403.35L285.41 408.04L285.54 405.7L285.54 405.49L285.54 403L285.56 408.31L285.79 405.31L285.79 405.33L285.8 402.66L285.94 407.68L286.04 405.44L286.04 403.76L286.16 403.26L286.19 408.09L286.29 406.81L286.29 404.57L286.45 408.34L286.53 402.75L286.54 406.09L286.54 405.96L286.54 402.04L286.66 408.5L286.79 405.64L286.79 406.35L286.85 403.3L286.91 408.13L287.04 404.89L287.04 406.38L287.16 403.07L287.26 408.86L287.29 405.45L287.29 407.55L287.31 408.43L287.35 402.56L287.54 405.75L287.54 404.92L287.54 408.32L287.61 403.52L287.79 405.08L287.79 406.54L287.9 403.02L287.96 408.18L288.04 406.13L288.04 405.16L288.17 402.1L288.17 408.18L288.29 405.77L288.29 404.89L288.35 402.36L288.37 407.79L288.53 405.99L288.54 405.89L288.57 403.13L288.64 408.37L288.79 406L288.79 406.01L288.86 402.81L288.94 408.16L289.04 406.02L289.04 403.3L289.18 408.53L289.29 407.06L289.29 405.41L289.31 403.15L289.32 408.2L289.54 406.11L289.54 404.85L289.55 403.26L289.67 407.99L289.79 405.96L289.79 405.51L289.95 402.03L290.02 407.95L290.04 406.43L290.04 405.87L290.12 408.33L290.17 403.14L290.29 405.39L290.29 406.87L290.3 408.09L290.41 403.33L290.54 405.84L290.54 406.2L290.58 408.56L290.6 403.25L290.79 407.25L290.79 406.77L290.79 403.09L290.98 408.45L291.04 406.54L291.04 405.41L291.05 408.19L291.26 402.37L291.29 407.91L291.29 405.79L291.29 408.65L291.29 403.38L291.54 406.78L291.54 405.2L291.6 403.25L291.64 407.97L291.79 406.85L291.79 406.4L291.83 403.14L292.03 408.31L292.04 407.24L292.04 406.27L292.15 408.59L292.22 401.62L292.29 405.67L292.29 404.16L292.29 402.6L292.38 408.2L292.54 405.81L292.54 405.16L292.55 403.05L292.75 408.43L292.78 403.47L292.79 406.75L292.88 408.21L292.96 402.98L293.04 406.98L293.04 404.99L293.18 402.63L293.22 407.78L293.29 405.13L293.29 405.51L293.46 403.18L293.5 407.98L293.54 407.3L293.54 405.82L293.55 407.49L293.7 402.82L293.79 405.85L293.79 404.96L293.87 407.67L293.9 402.14L294.04 405.88L294.04 407.21L294.12 408.7L294.27 403.13L294.29 407.23L294.29 406.44L294.36 408.26L294.52 402.97L294.54 408.04L294.54 407.54L294.69 401.86L294.75 408.29L294.79 404.05L294.79 405.06L294.91 401.64L294.98 408.23L295.04 406.82L295.04 405.68L295.09 402.93L295.24 408.19L295.29 405.61L295.29 407.61L295.35 407.76L295.36 402.59L295.54 407.27L295.54 405.29L295.55 403.26L295.61 408.73L295.79 405.07L295.79 405L295.87 408.88L296.03 401.44L296.04 405.58L296.04 404.67L296.05 408.52L296.11 403.12L296.29 406.86L296.29 405.05L296.31 407.86L296.46 403.25L296.54 404.95L296.54 405.49L296.59 402.49L296.69 408.34L296.79 405.65L296.79 406.28L296.97 403.07L297.02 408.14L297.04 406.47L297.04 406.44L297.04 408.31L297.19 403L297.29 405.99L297.29 405.97L297.35 403.18L297.51 408L297.54 406.91L297.54 406.1L297.6 402.6L297.75 408.18L297.79 404.69L297.79 406.47L297.89 403.59L297.93 408.6L298.04 405.76L298.04 406.91L298.08 402.43L298.25 408.44L298.29 405.68L298.29 404.57L298.29 402.29L298.4 408.38L298.54 404.63L298.54 405.89L298.61 402.76L298.77 408.26L298.79 403.85L298.79 407L298.86 403.73L299.01 408.23L299.04 407.38L299.04 405.16L299.06 403.05L299.2 409.39L299.29 407.06L299.29 406.83L299.46 401.91L299.49 408.32L299.54 406.92L299.54 406.12L299.56 407.85L299.75 402.63L299.79 406.92L299.79 406.66L299.84 403.25L299.88 408.65L300.04 405.79L300.04 405.34L300.04 408.11L300.14 402.45L300.29 406.44L300.29 405.02L300.42 408.03L300.53 402.99L300.54 404.14L300.54 404.48L300.55 401.27L300.74 408.73L300.79 406.55L300.79 407.36L300.83 408.53L300.91 402.28L301.04 406.71L301.04 406.24L301.12 401.96L301.25 408.12L301.29 406.55L301.29 406.17L301.32 403.44L301.37 408.89L301.54 405.46L301.54 406.46L301.55 408.21L301.56 402.13L301.79 405.51L301.79 405.87L301.84 408.09L301.96 401.63L302.04 406.46L302.04 406.71L302.14 402.85L302.25 408.28L302.29 404.88L302.29 405.34L302.45 409.21L302.53 403.9L302.54 405.75L302.54 407.16L302.63 403.16L302.71 408.19L302.79 405.1L302.79 404.27L302.87 408.95L302.97 402.81L303.04 406.9L303.04 407.63L303.13 408.24L303.21 402.57L303.29 406.33L303.29 406.04L303.32 408.17L303.4 403.14L303.54 405.51L303.54 406.61L303.59 403.62L303.67 408.47L303.79 405.5L303.79 406.49L303.88 408.68L303.92 403.02L304.04 406.11L304.04 406.88L304.15 408.89L304.22 403.06L304.29 405.94L304.29 406.15L304.39 408.46L304.41 403.43L304.54 406.58L304.54 406.09L304.55 408.6L304.66 403.13L304.79 405.68L304.79 405.95L304.79 408.69L304.97 403.33L305.04 405.74L305.04 405.8L305.09 402.16L305.26 408.3L305.29 405.89L305.29 405.71L305.35 402.08L305.5 408.85L305.54 405.72L305.54 406.52L305.61 403.37L305.78 408.31L305.79 404.67L305.79 406.65L305.8 403.68L305.96 408.77L306.04 407.15L306.04 405.79L306.06 407.73L306.24 402.19L306.29 405.96L306.29 405.66L306.38 401.72L306.51 407.98L306.53 407.28L306.54 407.05L306.56 408.45L306.75 403.51L306.79 407.38L306.79 405.9L306.89 401.84L307.01 408.13L307.04 406.02L307.04 405.75L307.22 408.68L307.24 403.61L307.29 405.25L307.29 406.53L307.42 402.37L307.49 407.93L307.54 405.58L307.54 405.13L307.59 408.71L307.71 403.33L307.79 405.77L307.79 405.71L307.94 401.56L308.02 408.67L308.04 405.35L308.04 407.22L308.12 409.18L308.23 404.12L308.29 405.82L308.29 406.46L308.36 402.66L308.48 408.63L308.54 407.13L308.54 407.12L308.67 407.88L308.69 403L308.79 406.18L308.79 405.38L308.98 408.49L308.99 403.11L309.04 406.42L309.04 405.66L309.14 408.69L309.22 402.43L309.29 404.23L309.29 404.58L309.39 401.69L309.44 408.28L309.54 406.46L309.54 405.07L309.58 402.51L309.75 408.42L309.79 407.13L309.79 406.87L309.82 408.57L310 402.65L310.04 406.5L310.04 405.34L310.15 402.7L310.28 408.91L310.29 405.88L310.29 403.97L310.31 408.18L310.44 401.99L310.54 404.88L310.54 406.42L310.6 408.45L310.62 403.43L310.78 404.44L310.79 407.49L310.81 408.35L310.89 402.56L311.04 404.72L311.04 403.5L311.04 402.85L311.19 409.12L311.29 405.66L311.29 406.88L311.41 402.56L311.51 408.33L311.54 406.98L311.54 406.18L311.54 408.84L311.57 403.37L311.79 406.3L311.79 404.04L311.83 408.42L311.83 403.24L312.04 405.3L312.04 406.33L312.17 403.42L312.21 408.36L312.29 405.46L312.29 406.42L312.3 402.43L312.45 408.18L312.54 406.22L312.54 405.78L312.58 409.23L312.72 403.83L312.79 406.53L312.79 404.33L312.85 402.77L312.9 408.08L313.04 404.06L313.04 406.25L313.13 402.83L313.26 408.65L313.29 406.34L313.29 405.89L313.32 409.15L313.5 402.84L313.54 408.15L313.54 407.99L313.6 409.01L313.76 403.85L313.79 405.03L313.79 405.72L313.92 401.51L314.02 407.64L314.04 406.75L314.04 406.39L314.11 408.63L314.25 401.77L314.29 404.61L314.29 405.49L314.34 403.51L314.43 408.67L314.54 406.89L314.54 405.7L314.77 401.76L314.78 407.98L314.79 406.82L314.79 405.8L314.82 402.94L315.03 408.42L315.03 405.79L315.04 407.78L315.08 402.83L315.25 408.55L315.29 407.15L315.29 406.58L315.29 407.96L315.41 401.26L315.54 405.51L315.54 406.13L315.7 402.42L315.78 409.13L315.79 406.3L315.79 407.08L315.83 403.47L315.96 408.86L316.04 407.31L316.04 402.78L316.07 402.69L316.2 408.43L316.29 405.99L316.29 407.37L316.36 408.3L316.46 403.11L316.54 405.34L316.54 407.04L316.58 408.38L316.73 402.79L316.79 407.44L316.79 406.8L316.8 402.54L316.92 408.47L317.04 405.69L317.04 405.14L317.09 402.2L317.16 408.68L317.29 404.18L317.29 405.83L317.3 408.26L317.48 402.26L317.54 405.89L317.54 407.37L317.6 408.87L317.65 402.74L317.79 405.45L317.79 407.66L317.79 402.88L317.84 408.51L318.04 406.11L318.04 407.31L318.2 403.23L318.24 408.45L318.29 404.16L318.29 404.13L318.41 408.56L318.52 402.68L318.54 406.11L318.54 404.56L318.64 408.78L318.73 402.67L318.79 406.08L318.79 407.33L318.9 408.71L318.93 403.28L319.04 405.11L319.04 405.38L319.14 408.27L319.16 402.73L319.28 407.12L319.29 405.84L319.29 403.07L319.52 408.84L319.54 406.2L319.54 406.3L319.63 409.06L319.71 402.82L319.79 408.26L319.79 407.03L319.96 408.55L319.96 402.41L320.04 405.34L320.04 406.36L320.07 402.61L320.15 408.29L320.29 405.53L320.29 406.09L320.32 408.44L320.45 403.49L320.54 407.7L320.54 407.21L320.68 403.4L320.77 408.83L320.79 408.01L320.79 405.17L320.9 408.42L320.99 403.53L321.04 406.67L321.04 406.48L321.14 403.62L321.25 408.71L321.29 406.43L321.29 406.14L321.3 401.61L321.38 407.76L321.54 407.35L321.54 405.84L321.68 408.88L321.78 402.48L321.79 404.8L321.79 404.6L321.95 407.85L321.98 402.22L322.04 405.68L322.04 406.41L322.04 403.34L322.19 408.32L322.29 405.31L322.29 406.77L322.41 402.69L322.46 408.55L322.54 405.24L322.54 405.12L322.54 403.38L322.68 408.78L322.79 406.78L322.79 406.64L322.85 402.05L323.03 408.76L323.04 407.34L323.04 406.22L323.19 402.22L323.26 408.54L323.29 406.17L323.29 405.96L323.37 408.22L323.46 402.73L323.54 407.61L323.54 407.11L323.67 408.36L323.69 402.98L323.79 405.49L323.79 407.44L323.81 408.82L323.88 403.13L324.04 404.03L324.04 404.79L324.13 402.79L324.18 408.28L324.29 404.89L324.29 405.82L324.34 403.15L324.53 408.54L324.54 406.43L324.54 406.8L324.59 408.09L324.73 402.84L324.79 406.48L324.79 406.43L324.99 408.52L325.02 403.2L325.04 407.7L325.04 406.58L325.17 408.38L325.29 403.37L325.29 406.6L325.32 403.13L325.47 408.51L325.54 407.77L325.54 407.76L325.65 408.18L325.69 403.08L325.79 405.79L325.79 405.23L325.95 403.08L325.99 408.32L326.04 406.31L326.04 404.12L326.12 403.42L326.27 408.31L326.29 407.26L326.29 405.1L326.41 402.86L326.49 408.71L326.54 405.73L326.54 406.8L326.56 402.52L326.69 408.25L326.79 405.68L326.79 406.35L326.93 408.67L327.02 402.18L327.04 404.89L327.04 405.23L327.23 408.32L327.27 402.97L327.29 405.14L327.29 405L327.42 409.25L327.52 403.41L327.54 406.78L327.54 406.63L327.61 403.13L327.71 408.62L327.79 406.93L327.79 404.58L327.82 408.5L328.03 401.65L328.04 405.26L328.04 406.03L328.04 402.83L328.27 408.56L328.29 406.76L328.29 408.13L328.33 408.37L328.47 402.01L328.54 404.16L328.54 406.87L328.65 401.88L328.72 407.98L328.79 405.94L328.79 404.85L328.84 402.53L328.86 408.64L329.04 406.95L329.04 407.06L329.1 407.94L329.2 402.42L329.29 403.65L329.29 406.39L329.37 408.68L329.49 403.47L329.54 406.84L329.54 406.98L329.72 403.8L329.75 408.98L329.79 405.67L329.79 405.51L329.85 403.2L329.97 408.87L330.04 404.5L330.04 407.43L330.11 408.9L330.22 402.19L330.29 405.75L330.29 405.72L330.34 402.64L330.49 408.52L330.54 404.97L330.54 405.96L330.56 402.43L330.6 408.37L330.79 406.9L330.79 407.05L330.94 402.45L331 408.68L331.04 408.07L331.04 405.98L331.12 408.79L331.21 402.25L331.29 406.06L331.29 404.06L331.44 408.51L331.45 401.47L331.54 406.82L331.54 405.55L331.69 408.34L331.73 402.53L331.79 407.04L331.79 405.65L331.88 408.78L331.92 401.79L332.04 406.16L332.04 405.42L332.08 401.94L332.27 407.86L332.29 404.64L332.29 404.57L332.32 403.63L332.52 408.94L332.54 406.69L332.54 406.63L332.55 408.67L332.67 402.24L332.79 405.89L332.79 406.36L332.99 402.68L333.02 408.42L333.03 405.64L333.04 406.13L333.08 408.41L333.17 402.69L333.29 406.03L333.29 406.38L333.51 408.36L333.53 403.35L333.54 407.43L333.54 406.89L333.6 401.56L333.73 408.51L333.79 405.12L333.79 406.87L333.81 402.88L334 409.3L334.04 405.45L334.04 406.94L334.08 403.57L334.2 408.66L334.29 405.42L334.29 406.77L334.36 409.5L334.51 402.19L334.54 405.96L334.54 405.5L334.68 408.51L334.72 402.84L334.79 407.02L334.79 405.78L334.94 408.86L335.01 402.12L335.04 402.23L335.04 405.38L335.04 402.28L335.26 408.88L335.29 407.53L335.29 405.19L335.34 402.36L335.45 408.71L335.54 407.65L335.54 406.44L335.65 402.4L335.78 408.76L335.79 407.46L335.79 406.97L335.81 403.39L336.01 408.6L336.04 406.23L336.04 405.92L336.14 408.86L336.2 401.84L336.29 405.53L336.29 405.79L336.45 403.86L336.47 408.91L336.54 406.13L336.54 406.83L336.66 403.51L336.69 408.48L336.79 404.12L336.79 405.52L336.81 402.94L337.03 408.53L337.04 407.44L337.04 407.57L337.15 402.09L337.17 408.37L337.28 405.59L337.29 407.53L337.31 408.65L337.35 402.01L337.54 404.69L337.54 407.5L337.63 408.26L337.72 401.95L337.79 404.48L337.79 405.57L337.91 402.79L337.99 408.65L338.04 405.35L338.04 404.27L338.05 402.3L338.26 408L338.29 405.9L338.29 405.55L338.37 408.61L338.47 402.45L338.54 406L338.54 406.09L338.58 407.91L338.63 402.49L338.79 406.11L338.79 406.36L338.81 402.91L339.02 408.26L339.04 406.77L339.04 406.43L339.23 403.14L339.26 408.68L339.29 407.77L339.29 407.05L339.29 409.28L339.47 403.05L339.54 406.03L339.54 405L339.75 408.78L339.78 403.15L339.79 406.01L339.79 405.91L339.79 408.42L339.98 400.83L340.04 405.87L340.04 407.09L340.11 403.29L340.28 408.02L340.29 406.86L340.29 405.33L340.3 408.31L340.39 402.66L340.54 406.73L340.54 407.5L340.57 403.49L340.75 409.05L340.79 405.06L340.79 407.85L340.79 402.14L340.9 408.64L341.04 406.93L341.04 407.7L341.22 402.19L341.24 408.32L341.29 404.25L341.29 405.49L341.3 408.47L341.48 402.87L341.53 407.4L341.54 405.15L341.61 403.4L341.67 408.85L341.79 407.88L341.79 407.95L341.99 409.28L342.03 403.25L342.04 406.8L342.04 405.38L342.21 408.44L342.22 402.86L342.29 406.31L342.29 407.05L342.38 408.87L342.43 402.42L342.54 406.9L342.54 406.3L342.71 401.9L342.78 408.21L342.79 407.44L342.79 406.91L342.95 408.63L343 402.2L343.04 406.41L343.04 406.54L343.04 409.14L343.18 401.54L343.29 408.05L343.29 405.05L343.29 408.64L343.38 403.32L343.54 406.92L343.54 405.39L343.56 402.73L343.62 408.28L343.79 405.59L343.79 405.86L343.88 401.82L343.94 408.85L344.04 406.96L344.04 407.1L344.06 402.23L344.24 408.53L344.29 405.84L344.29 407.1L344.51 403.11L344.52 408.75L344.54 407.73L344.54 406.84L344.55 408.88L344.69 403.04L344.79 406.35L344.79 405.29L344.84 402.93L344.86 408.15L345.04 405.1L345.04 405.81L345.08 408.76L345.22 402.47L345.29 407.27L345.29 406.63L345.34 408.97L345.52 400.36L345.54 406.29L345.54 405.46L345.61 403.48L345.67 408.47L345.79 406.38L345.79 408.05L345.82 408.82L345.91 402.82L346.04 405.69L346.04 406.9L346.07 403.43L346.24 408.52L346.29 406.57L346.29 405.06L346.36 408.5L346.51 402.53L346.54 407.17L346.54 406.07L346.62 408.44L346.69 402.77L346.79 404.7L346.79 405.51L346.89 408.4L347 402.78L347.04 406.5L347.04 408.69L347.24 403L347.28 408.76L347.29 406.15L347.29 406.07L347.3 408.92L347.3 402.76L347.54 404.97L347.54 405.45L347.55 403.57L347.74 409.01L347.79 407.35L347.79 406.72L347.82 408.13L347.83 402.71L348.04 406.24L348.04 404.28L348.19 408.69L348.28 402.51L348.29 408.49L348.29 407.89L348.46 408.51L348.46 403.67L348.54 404.61L348.54 407.15L348.57 408.24L348.67 402.54L348.79 407.09L348.79 407.67L348.87 403.17L349.03 408.37L349.04 406.64L349.04 407.55L349.13 403.2L349.29 408.24L349.29 406.81L349.51 408.68L349.52 403.24L349.54 406.22L349.54 403.05L349.54 402.61L349.67 408.92L349.79 405.87L349.79 404.77L349.88 403.2L349.95 408.97L350.04 406.42L350.04 405.78L350.13 409.38L350.27 403.67L350.29 406.04L350.29 406.22L350.33 403.15L350.43 408.35L350.54 405.65L350.54 406.07L350.57 403.46L350.69 408.57L350.79 405.23L350.79 404.43L350.84 408.84L350.96 402.89L351.04 407.04L351.04 405.99L351.05 408.27L351.23 403.44L351.29 405.46L351.29 407.39L351.31 402.59L351.39 408.57L351.54 406.22L351.54 405.43L351.64 409.43L351.72 402.69L351.79 406L351.79 404.59L351.82 401.44L352.04 408.27L352.04 405.93L352.1 403.38L352.2 408.83L352.29 405.44L352.29 406.66L352.5 408.64L352.52 403.47L352.54 407.52L352.54 406.85L352.57 403.08L352.78 408.68L352.79 406.98L352.79 406.15L352.82 403.59L352.89 408.8L353.04 406.51L353.04 406.66L353.19 408.51L353.28 403.23L353.29 407.83L353.29 407.61L353.34 408.42L353.35 401.87L353.54 406.3L353.54 406.27L353.6 402.2L353.68 408.64L353.79 406.73L353.79 406.64L353.88 404.06L353.9 408.99L354.04 407.1L354.04 407.25L354.19 403.53L354.25 408.71L354.29 406.96L354.29 406.7L354.38 403.67L354.4 409.23L354.54 406.02L354.54 406.77L354.6 408.55L354.7 401.83L354.79 407.96L354.79 405.57L354.84 407.93L355.01 402.67L355.04 407L355.04 405.15L355.07 408.25L355.17 402.26L355.28 404.46L355.29 403.69L355.35 402.91L355.45 408.91L355.54 406.19L355.54 406.65L355.73 403.16L355.75 408.4L355.79 404.43L355.79 407.08L355.91 403.39L355.97 408.31L356.04 407.68L356.04 407.89L356.11 402.62L356.19 408.44L356.29 406.51L356.29 408.9L356.33 402.79L356.54 405.81L356.54 408.26L356.61 403.44L356.69 408.64L356.79 404.55L356.79 405.53L356.79 402.75L356.93 408.48L357.04 406.36L357.04 405.34L357.19 402.86L357.28 408.34L357.29 406.75L357.29 405.61L357.41 409.05L357.45 403.22L357.54 408.01L357.54 406.73L357.54 402.29L357.74 408.58L357.79 405.14L357.79 406.74L357.82 409.32L357.91 403.41L358.04 407.82L358.04 406.36L358.11 408.51L358.18 403.68L358.29 407.04L358.29 406.51L358.37 403.16L358.53 408.07L358.54 405.51L358.54 405.88L358.66 402.61L358.74 408.1L358.79 407.33L358.79 407.78L358.85 408.05L358.91 402.51L359.04 405.08L359.04 406.17L359.16 402.13L359.26 408.54L359.29 405.54L359.29 407.55L359.3 408.67L359.44 403.64L359.53 408.14L359.54 407.94L359.7 403.27L359.75 409.1L359.79 405.78L359.79 406.25L359.88 404.13L359.98 408.76L360.04 406.82L360.04 407.39L360.11 408.51L360.14 402.41L360.29 404.75L360.29 405.63L360.39 402.44L360.43 408.51L360.54 404.55L360.54 406.64L360.64 402.51L360.72 408.23L360.79 405.73L360.79 407.37L360.82 408.84L360.89 402.55L361.04 406.16L361.04 406.06L361.17 403L361.25 408.88L361.29 406.01L361.29 407.74L361.33 408.77L361.43 403.37L361.54 405.81L361.54 406.48L361.57 408.39L361.7 401.85L361.79 405.2L361.79 406.33L361.86 408.29L361.97 402.56L362.04 407.21L362.04 405.83L362.15 408.48L362.24 403.66L362.29 407.41L362.29 406.31L362.36 403.4L362.42 408.37L362.54 406.46L362.54 404.22L362.56 403.31L362.74 409.36L362.79 405.32L362.79 407.2L362.98 403.67L363.01 408.45L363.04 405.46L363.04 407.34L363.08 408.59L363.24 403.57L363.29 407.54L363.29 407.27L363.37 402.59L363.5 408.45L363.54 407.83L363.54 406.18L363.55 409.02L363.6 402.42L363.78 407.76L363.79 406.3L363.82 404.01L363.96 408.41L364.04 406.81L364.04 407.17L364.12 402.81L364.22 408.12L364.29 407.21L364.29 406L364.37 408.58L364.42 402.94L364.54 408.15L364.54 405.87L364.66 408.16L364.72 403.94L364.79 406.17L364.79 407.13L364.85 402.59L364.98 408.3L365.04 406.24L365.04 404.81L365.19 408.39L365.23 403.53L365.29 406.26L365.29 407.28L365.34 408.5L365.4 402.87L365.54 407.42L365.54 406.09L365.72 408.88L365.77 402.37L365.79 405.08L365.79 406.36L366.01 402.96L366.02 408.52L366.04 406.11L366.04 406.52L366.08 409.03L366.22 402.79L366.29 406.69L366.29 406.19L366.44 408.5L366.53 403.8L366.54 405.58L366.54 406.24L366.56 408.85L366.66 402.87L366.79 404.57L366.79 406.71L366.9 408.06L366.92 401.27L367.04 406.36L367.04 407.42L367.12 408.72L367.18 402.39L367.29 406.85L367.29 406.7L367.32 404.05L367.44 408.78L367.54 406.94L367.54 407.57L367.62 408.68L367.65 403.67L367.79 407.39L367.79 406.79L367.84 408.92L367.87 402.99L368.03 406.47L368.04 407.94L368.08 408.46L368.15 402.58L368.29 404.8L368.29 405.5L368.41 409.25L368.49 402.62L368.54 406.48L368.54 403.71L368.56 408.06L368.62 401.68L368.79 404.27L368.79 406.41L368.9 402.93L368.99 408.77L369.04 407.68L369.04 406.21L369.06 400.36L369.26 408.73L369.29 406.52L369.29 406.54L369.42 408.15L369.45 402.39L369.54 405.71L369.54 403.89L369.56 403.04L369.57 408.99L369.79 405.32L369.79 405.87L369.81 402.53L369.85 408.74L370.04 406.05L370.04 406.03L370.13 403.24L370.27 408.75L370.29 407.76L370.29 407.83L370.29 402.43L370.4 408.81L370.54 407.71L370.54 408.9L370.62 401.66L370.79 405.06L370.79 408.79L370.86 408.96L371.02 403.03L371.04 405.36L371.04 407.36L371.23 408.52L371.28 401.99L371.29 406.09L371.29 406.88L371.42 409.21L371.53 403.83L371.54 406.97L371.54 406.41L371.56 403.41L371.66 408.77L371.79 406.53L371.79 406.6L371.85 408.03L371.99 402.77L372.04 406.53L372.04 405.06L372.12 402.39L372.28 408.08L372.29 404.89L372.29 406.22L372.3 408.84L372.46 403.47L372.54 407.86L372.54 407.19L372.61 409.13L372.72 403.57L372.79 406.45L372.79 406.73L372.84 402.84L373.03 408.67L373.04 406.8L373.04 406.41L373.16 403.06L373.25 408.65L373.29 407.37L373.29 405.82L373.33 408.77L373.42 402.79L373.54 405.39L373.54 406L373.68 409.17L373.75 403.36L373.79 406.68L373.79 405.71L373.82 402.1L373.89 408.35L374.04 405.25L374.04 405.99L374.15 408.79L374.21 402.83L374.29 406.62L374.29 407.52L374.3 402.21L374.39 408.47L374.54 406.09L374.54 406.26L374.55 409.09L374.7 403.34L374.79 405.97L374.79 406.24L374.88 409.35L374.97 404.38L375.04 404.39L375.04 406.55L375.14 408.53L375.15 402.82L375.29 405.78L375.29 406.48L375.31 408.89L375.4 402.91L375.54 405.61L375.54 407.38L375.61 408.21L375.65 402.6L375.79 404.5L375.79 406.19L375.83 402.19L376.02 408.82L376.04 405.9L376.04 406.82L376.04 408.72L376.06 403.27L376.29 405.34L376.29 405.94L376.4 402.77L376.46 409.25L376.54 406.77L376.54 407.73L376.57 408.46L376.74 403.62L376.79 407.4L376.79 407.04L376.84 408.36L376.99 402.45L377.04 406.9L377.04 407.23L377.13 402.14L377.25 408.55L377.29 404.76L377.29 405.04L377.36 402.79L377.52 408.59L377.54 407.6L377.54 407.95L377.69 402.58L377.77 408.57L377.79 407.33L377.79 405.57L377.87 402.99L377.93 408.89L378.04 405.53L378.04 403.09L378.08 408.44L378.24 403.09L378.29 407.62L378.29 406.19L378.32 409.12L378.4 401.9L378.54 406.74L378.54 406.54L378.56 408.79L378.71 402.63L378.79 405.59L378.79 405.64L378.83 403.16L379.03 408.6L379.04 407.02L379.04 405.94L379.06 408.66L379.16 403.59L379.29 405.91L379.29 406.39L379.31 408.37L379.5 401.88L379.54 406.76L379.54 407.72L379.55 408.25L379.58 402.69L379.79 404.98L379.79 406.98L379.88 408.47L379.94 403.21L380.04 407.2L380.04 406.1L380.06 408.44L380.18 402.83L380.29 406.35L380.29 408.43L380.33 403.99L380.53 408.93L380.54 408.37L380.54 406.31L380.58 408.77L380.64 403.81L380.79 406.51L380.79 405.92L380.87 408.84L381.02 404L381.04 406.49L381.04 406.81L381.19 403.38L381.23 408.41L381.29 406.93L381.29 406.81L381.29 403.42L381.42 409L381.54 407.35L381.54 407.93L381.63 401.16L381.76 408.66L381.78 406.63L381.79 406.82L381.84 408.66L381.93 403.04L382.04 405.91L382.04 405.84L382.06 401.52L382.25 409.54L382.29 408.06L382.29 407.97L382.36 402.54L382.5 409.06L382.54 406.04L382.54 408.12L382.71 401.86L382.76 408.7L382.79 408.48L382.79 407.68L382.89 408.63L382.96 403.14L383.04 405.51L383.04 405.37L383.14 408.82L383.2 402.93L383.29 403.72L383.29 407.73L383.37 408.96L383.53 401.68L383.54 406.48L383.54 405.63L383.55 402.89L383.63 409.2L383.79 407L383.79 406.53L383.93 401.71L384.02 408.43L384.04 403.77L384.04 406.45L384.17 408.29L384.21 402.94L384.29 404.62L384.29 403.99L384.31 408.21L384.51 403.6L384.54 406.73L384.54 406.03L384.55 400.61L384.63 408.43L384.79 407.07L384.79 405.44L384.86 407.94L384.91 402.29L385.04 407.17L385.04 407.27L385.13 403.5L385.24 409.08L385.29 406.23L385.29 404.93L385.36 408.49L385.41 402.61L385.54 405.22L385.54 404.68L385.65 402.66L385.76 408.35L385.79 407.33L385.79 405.87L385.79 408.63L385.92 403.47L386.03 405.21L386.04 404.95L386.07 402.98L386.18 409.05L386.29 405.7L386.29 405.11L386.38 408.65L386.42 402.39L386.54 407.1L386.54 407.82L386.66 403.73L386.77 408.9L386.79 407.72L386.79 405.68L386.91 402.45L387.02 408.88L387.04 407.94L387.04 407.73L387.12 402.11L387.17 408.63L387.29 403.41L387.29 405.36L387.31 402.99L387.4 408.67L387.54 406.82L387.54 407.16L387.55 402.07L387.77 408.51L387.79 406.45L387.79 404.88L387.85 408.4L387.92 402.73L388.04 406.9L388.04 405.58L388.14 403.41L388.16 408.03L388.29 407.78L388.29 405.26L388.43 408.62L388.48 403.65L388.54 406.4L388.54 404.04L388.55 402.85L388.66 408.07L388.79 405.93L388.79 405.75L388.87 401.45L389.03 408.52L389.04 407.82L389.04 406.63L389.09 402.98L389.15 408.79L389.29 407.61L389.29 405.31L389.33 408.31L389.53 402.54L389.54 405.82L389.54 407.19L389.61 402.1L389.63 408.73L389.79 405.75L389.79 405.27L389.85 400.29L390.04 408.37L390.04 407.15L390.13 408.22L390.15 402.53L390.28 406.72L390.29 405.82L390.32 403.53L390.53 409.55L390.54 408.19L390.54 407.2L390.6 409.66L390.72 404.28L390.79 406.57L390.79 405.4L390.8 402.09L390.91 409.13L391.04 406.97L391.04 407.21L391.21 409.41L391.27 402.47L391.29 404.77L391.29 405.7L391.51 402.88L391.52 408.62L391.54 406.35L391.54 406.19L391.62 408.39L391.67 403L391.79 406L391.79 407.47L391.87 408.47L391.98 402.62L392.04 404.87L392.04 404.91L392.19 402.28L392.23 408.66L392.29 407.72L392.29 406.25L392.44 408.86L392.52 403.3L392.54 406.79L392.54 406.88L392.57 408.54L392.73 402.51L392.79 406.98L392.79 406.83L392.91 408.13L392.93 403.38L393.04 406.37L393.04 405.29L393.07 402.59L393.12 408.65L393.29 405.92L393.29 405.62L393.35 403.11L393.5 408.97L393.54 406.02L393.54 406.85L393.57 403.53L393.59 408.52L393.79 407.34L393.79 405.59L393.96 402.25L394.01 408.83L394.04 407.52L394.04 405.63L394.28 408.13L394.28 402.96L394.29 406.69L394.29 406.86L394.38 408.59L394.41 402.97L394.53 406.85L394.54 406.48L394.65 403.42L394.66 408.57L394.79 405.87L394.79 405.43L394.93 408.59L395.01 402.08L395.04 405.67L395.04 406.61L395.12 402.55L395.24 408.65L395.29 406.83L395.29 406.09L395.44 408.89L395.53 402.66L395.54 405.83L395.54 406.96L395.57 403.02L395.71 408.9L395.79 406.11L395.79 406.06L395.81 402.56L395.99 408.39L396.04 405.72L396.04 404.28L396.11 403.83L396.25 409.2L396.29 406.09L396.29 403.59L396.35 402.14L396.52 408.78L396.54 405.64L396.54 405.53L396.61 403.24L396.74 408.69L396.79 406.82L396.79 407.26L396.8 403.27L397.01 408.78L397.04 406.47L397.04 406.82L397.15 408.6L397.21 402.7L397.29 405.74L397.29 407.94L397.33 409.57L397.44 403.36L397.54 406.06L397.54 404.92L397.61 401.22L397.7 408.06L397.79 407.61L397.79 406.4L397.8 408.35L398.01 402.82L398.04 407.42L398.04 405.49L398.12 408.57L398.13 403.66L398.29 406.84L398.29 407.14L398.29 408.92L398.38 403.59L398.54 408.67L398.54 407.89L398.55 409.02L398.58 402.35L398.79 407.5L398.79 405.68L398.79 402.94L398.99 408.81L399.04 405.64L399.04 407.09L399.18 403.54L399.26 409.13L399.29 405.19L399.29 407.99L399.37 409.39L399.5 402.92L399.54 408.28L399.54 406.28L399.58 408.56L399.72 403.55L399.79 406.02L399.79 407.47L399.9 408.32L399.94 402.75L400.04 404.03L400.04 404.64L400.09 403.05L400.19 408.93L400.29 406.63L400.29 406.75L400.36 409.21L400.42 403.74L400.54 407.54L400.54 406.82L400.57 408.78L400.57 403.74L400.79 404.96L400.79 406.42L400.8 402.77L400.88 408.82L401.04 404.47L401.04 407.33L401.08 403.17L401.24 409.47L401.29 406.05L401.29 406.19L401.34 403.41L401.43 408.66L401.54 406.12L401.54 407.29L401.65 408.32L401.69 401.32L401.79 405.37L401.79 407.01L401.82 408.79L401.99 401.55L402.04 405.74L402.04 404.9L402.12 408.69L402.19 403.27L402.29 407.65L402.29 406.6L402.33 408.6L402.46 402.16L402.54 406.23L402.54 406.74L402.71 408.64L402.72 403.22L402.79 406.84L402.79 404.87L402.89 408.65L402.9 403L403.04 404.36L403.04 406.62L403.04 403.25L403.11 408.4L403.29 405.79L403.29 407.15L403.42 402.64L403.48 409.2L403.54 408.05L403.54 406.78L403.54 402.67L403.77 408.96L403.79 407.79L403.79 406.8L403.8 409.21L403.86 403L404.04 407.31L404.04 408.44L404.12 409.01L404.23 403.14L404.29 407.98L404.29 405.54L404.42 408.76L404.45 403.55L404.54 406.33L404.54 407.03L404.65 408.54L404.76 403.13L404.79 407.21L404.79 407.86L404.83 403.43L405 409.12L405.04 406.62L405.04 408.26L405.05 402.25L405.21 409.14L405.29 407.11L405.29 407.93L405.32 408.55L405.37 403.48L405.54 405.12L405.54 407.33L405.58 401.38L405.7 408.89L405.79 405.54L405.79 406.51L405.87 409.21L405.97 403.45L406.04 407.45L406.04 404.24L406.08 409.46L406.17 402.42L406.29 406.5L406.29 406.56L406.31 409.07L406.38 401.75L406.54 406.7L406.54 404.87L406.7 408.74L406.78 403.69L406.79 404.83L406.79 405.91L406.85 408.97L407.02 404.31L407.04 407.21L407.04 407.35L407.06 408.73L407.23 404.02L407.29 406.05L407.29 406.13L407.34 403.7L407.42 409.23L407.54 405.95L407.54 407.94L407.59 408.29L407.79 402.67L407.79 405.65L407.84 408.51L408.01 403.04L408.04 408.25L408.04 407.62L408.1 408.81L408.27 402.47L408.28 406.76L408.29 405.96L408.42 403.47L408.54 408.9L408.54 406.25L408.61 403.04L408.72 408.75L408.79 406.78L408.79 407.18L408.87 404.16L408.95 409.34L409.04 405.81L409.04 405.45L409.04 408.72L409.13 403.84L409.29 406.21L409.29 404.76L409.46 408.72L409.52 402.62L409.54 406.66L409.54 407.26L409.72 408.59L409.76 402.04L409.79 406.43L409.79 403.98L409.86 403.14L409.96 408.82L410.04 406.95L410.04 407.1L410.16 403.37L410.26 409.15L410.29 406.06L410.29 406.72L410.47 408.92L410.53 402.64L410.54 403.8L410.54 405.68L410.63 408.79L410.76 402.57L410.79 407.03L410.79 406.37L410.88 408.84L410.95 402.27L411.04 405.91L411.04 405.32L411.09 403.59L411.2 409.19L411.29 405.62L411.29 406.71L411.31 402.03L411.48 409.34L411.54 407.04L411.54 401.17L411.56 409.28L411.79 406.38L411.79 406.24L411.9 403.94L411.97 409.07L412.04 406.31L412.04 407.63L412.04 408.81L412.24 403.01L412.29 406.39L412.29 406.89L412.32 408.93L412.36 403.77L412.53 408.77L412.54 405.47L412.62 409.47L412.71 403.59L412.79 405.26L412.79 406.87L412.96 409.13L412.99 402.59L413.04 405.46L413.04 405.32L413.07 401.6L413.18 408.64L413.29 405.17L413.29 405.11L413.44 403.32L413.52 408.57L413.54 406.94L413.54 407.49L413.56 408.5L413.63 401.97L413.79 406.53L413.79 405.42L413.93 402.71L413.99 408.37L414.04 405.1L414.04 406.3L414.1 402.82L414.14 408.99L414.29 407.78L414.29 405.98L414.33 403.13L414.38 408.69L414.54 407.68L414.54 405.02L414.56 408.88L414.64 401.47L414.79 406.67L414.79 407.67L414.81 408.6L414.86 403.34L415.04 405.27L415.04 406.43L415.24 409.34L415.26 402.51L415.29 407.23L415.29 408.18L415.31 408.8L415.4 403.78L415.54 407.87L415.54 406.68L415.74 403.35L415.78 408.95L415.79 406.14L415.79 406.75L415.92 408.94L415.93 403.3L416.04 407.61L416.04 406.85L416.2 403.15L416.22 408.23L416.29 407.44L416.29 406.58L416.3 408.56L416.35 402.81L416.54 405.61L416.54 408.34L416.57 408.75L416.74 403.67L416.78 406.57L416.79 408.28L416.88 409.02L416.91 403.94L417.04 405.32L417.04 406.85L417.05 402.59L417.25 408.73L417.29 406.92L417.29 406.81L417.35 403.99L417.36 409.04L417.54 405.59L417.54 406.81L417.68 401.56L417.76 409.75L417.79 405.86L417.79 407.53L417.82 403.72L417.93 409.31L418.04 407.68L418.04 405.63L418.19 401.48L418.26 408.91L418.29 407.04L418.29 408.89L418.38 403.52L418.54 407.72L418.54 407.6L418.74 403.08L418.76 409.16L418.79 405.27L418.79 407.49L418.83 409.4L419.03 402.76L419.04 406.55L419.04 406.33L419.19 402.44L419.25 408.63L419.29 405.7L419.29 406.28L419.37 408.95L419.49 401.58L419.54 406.83L419.54 408.4L419.55 402.54L419.72 408.54L419.79 406.93L419.79 405.47L419.86 408.97L419.99 403.79L420.04 407.72L420.04 408.05L420.04 409.19L420.11 402.66L420.29 406.75L420.29 404.89L420.35 403.05L420.41 408.7L420.54 407.69L420.54 408.07L420.66 409.05L420.72 403.72L420.79 405.67L420.79 406.85L420.9 408.71L420.91 400.63L421.04 407.57L421.04 408L421.07 402.95L421.1 408.63L421.29 407.59L421.29 405.66L421.32 403.14L421.34 408.68L421.54 406.08L421.54 405.36L421.68 403.13L421.78 409.01L421.79 407.94L421.79 407.37L421.82 402.95L421.94 409.09L422.04 406.18L422.04 407.8L422.14 403.36L422.24 408.82L422.29 407.5L422.29 406.62L422.4 402.65L422.44 408.46L422.54 405.21L422.54 405.99L422.62 408.74L422.74 402.99L422.79 406.07L422.79 406.55L422.84 403.6L422.96 409.2L423.04 406.7L423.04 404.77L423.17 403.66L423.22 409.22L423.29 406.29L423.29 406.22L423.39 404.08L423.5 408.88L423.54 406.76L423.54 406.65L423.61 402.5L423.71 408.69L423.79 406.94L423.79 407.12L423.79 403.61L423.94 408.6L424.04 406.71L424.04 407.68L424.23 409.07L424.25 403.58L424.29 407.33L424.29 407.03L424.39 409.2L424.41 403.64L424.54 405.23L424.54 404.55L424.57 403.43L424.77 409.52L424.79 408.26L424.79 407.21L424.8 409.11L425.01 403.13L425.04 404.4L425.04 403.81L425.04 402.82L425.22 408.99L425.29 407.98L425.29 405.5L425.51 408.76L425.52 402.67L425.54 406.37L425.54 406.38L425.65 408.71L425.78 402.68L425.79 405.09L425.79 407.13L425.94 403.75L426.01 409.52L426.04 406.58L426.04 408.46L426.06 409.15L426.21 403.34L426.29 406.64L426.29 405.18L426.36 403.25L426.45 408.86L426.54 407.54L426.54 406.78L426.56 409.13L426.56 403.9L426.79 404.43L426.79 406.21L426.89 403.33L426.92 409.43L427.04 407.23L427.04 405.28L427.1 402.97L427.26 409.26L427.29 407.99L427.29 406.03L427.29 408.56L427.32 402.06L427.54 406.94L427.54 406.75L427.58 409.07L427.61 403.35L427.79 404.28L427.79 408.2L427.85 403.83L427.93 409.65L428.04 405.72L428.04 406.21L428.04 404.08L428.19 409.33L428.29 406.7L428.29 406.7L428.35 402.93L428.48 408.55L428.54 408.43L428.54 405.44L428.64 402.1L428.75 408.51L428.79 404.22L428.79 408.13L428.84 401.87L429.02 408.52L429.04 407.34L429.04 407.71L429.16 403.55L429.23 409.37L429.29 406L429.29 408.65L429.35 409.07L429.4 403.01L429.54 406.17L429.54 405.6L429.59 408.9L429.63 403.53L429.79 405.1L429.79 406.16L429.93 404.08L430.01 409L430.04 407.4L430.04 405.81L430.09 408.46L430.12 402.31L430.29 405.9L430.29 406.32L430.36 401.83L430.41 409.07L430.53 407.49L430.54 407.57L430.61 408.91L430.68 403.2L430.79 407.44L430.79 408.37L430.89 409.1L430.9 403.23L431.04 405.57L431.04 405.63L431.21 402.11L431.24 409.05L431.29 406.74L431.29 405.83L431.31 408.64L431.32 403.1L431.54 405.99L431.54 407.12L431.6 402.56L431.66 408.03L431.79 407.58L431.79 405.49L431.8 402.8L431.91 409.52L432.04 406.05L432.04 404.23L432.16 402.81L432.18 409.08L432.29 407.1L432.29 406.97L432.32 403.04L432.45 409.3L432.54 405.56L432.54 404.75L432.7 402.09L432.72 408.45L432.79 406.85L432.79 407.24L432.94 403.11L433.03 408.95L433.04 406.93L433.04 406.74L433.21 409.08L433.25 402.83L433.29 405.64L433.29 405.9L433.31 402.64L433.53 409.2L433.54 408.59L433.54 407.14L433.56 409.17L433.76 401.91L433.79 406.77L433.79 407.18L433.79 408.76L434.02 402.89L434.04 405.33L434.04 407.69L434.16 401.85L434.28 408.4L434.29 405.11L434.29 406.12L434.43 408.91L434.49 401.72L434.54 405.9L434.54 406.03L434.66 408.52L434.77 400.58L434.78 407.59L434.79 405.67L434.94 408.42L435 402.63L435.04 405.22L435.04 403.38L435.09 409.6L435.29 406.99L435.29 406.39L435.42 403.1L435.52 408.52L435.54 406.02L435.54 408.54L435.68 401.89L435.72 408.56L435.79 406.2L435.79 405.77L435.83 402.82L435.96 408.79L436.04 406.01L436.04 407.22L436.13 409.15L436.2 403.58L436.29 407.6L436.29 406.73L436.31 408.54L436.33 403.14L436.54 406.95L436.54 406.63L436.64 403.94L436.72 409.39L436.79 406.98L436.79 407.13L436.97 409.07L437.01 401.91L437.04 408.8L437.04 408.61L437.21 402.35L437.29 408.59L437.29 407.44L437.34 403.32L437.39 408.6L437.54 407.87L437.54 404.91L437.57 403.19L437.74 409L437.79 406.1L437.79 405.24L437.88 403.2L437.93 409.13L438.04 404.95L438.04 405.46L438.12 403.5L438.17 408.53L438.29 405.69L438.29 406.89L438.37 404.12L438.38 408.52L438.54 405.18L438.54 406.15L438.63 403.81L438.73 408.83L438.79 406.55L438.79 405.82L438.86 403.56L439.03 408.86L439.03 407.48L439.04 406.14L439.05 408.52L439.1 402.8L439.29 407.63L439.29 405.86L439.31 409.78L439.54 403.1L439.54 407.77L439.56 402.98L439.69 408.88L439.79 406.36L439.79 407.06L439.92 408.96L440 403.08L440.04 405.98L440.04 407L440.17 402.18L440.23 408.38L440.29 406.5L440.29 405.34L440.38 408.83L440.43 403.67L440.54 407.4L440.54 406.97L440.54 409L440.64 400.66L440.79 404.53L440.79 403.15L440.83 408.56L440.94 401.34L441.04 407.39L441.04 405.98L441.1 402.93L441.18 408.69L441.29 406.47L441.29 405.5L441.29 403.35L441.38 409.67L441.54 405.65L441.54 406.51L441.61 402.61L441.71 408.89L441.79 408.56L441.79 404.3L441.79 408.87L441.8 403.15L442.04 408.14L442.04 407.63L442.05 408.89L442.07 403.32L442.29 407.51L442.29 405.79L442.4 403.59L442.53 408.58L442.54 407.15L442.54 408.43L442.65 404.3L442.68 409.44L442.79 405.03L442.79 406.82L442.87 403.94L442.99 409.5L443.04 409.26L443.04 406.09L443.08 402.12L443.2 408.91L443.28 407.05L443.29 406.77L443.3 408.81L443.51 402.62L443.54 407.01L443.54 406.61L443.71 402.69L443.74 409.23L443.79 406.89L443.79 407.23L443.87 408.91L444.03 402.62L444.04 404.59L444.04 407.65L444.05 403.42L444.21 408.92L444.29 406.75L444.29 406.42L444.44 402.96L444.49 408.6L444.54 405.04L444.54 407.03L444.61 403.21L444.73 409.19L444.79 407.86L444.79 407.02L444.89 409.09L444.94 402.49L445.04 407.9L445.04 407.59L445.04 408.63L445.11 401.61L445.29 406.86L445.29 405.6L445.42 403.06L445.44 409.17L445.54 406.78L445.54 408.2L445.55 409.04L445.59 403.45L445.79 406.5L445.79 405.75L445.81 402.8L445.9 409.39L446.04 406.76L446.04 407.36L446.16 403.5L446.19 409.5L446.29 407.03L446.29 407.8L446.3 409.5L446.5 403.93L446.54 407.63L446.54 405.31L446.55 402.96L446.78 409.2L446.79 407.43L446.79 406.9L446.84 409.03L446.89 403.08L447.04 403.5L447.04 405.84L447.11 408.68L447.27 403.33L447.29 406.79L447.29 405.83L447.32 403.07L447.38 409.68L447.54 408.46L447.54 405.51L447.64 408.97L447.67 402.6L447.79 405.4L447.79 407.56L447.97 408.93L448.01 403.09L448.04 407.45L448.04 408.33L448.09 402.52L448.28 408.88L448.29 407.95L448.29 407.73L448.37 408.81L448.45 403.52L448.54 408.05L448.54 406.03L448.68 408.95L448.69 401.86L448.79 406.72L448.79 406.12L448.8 409.09L448.82 404.08L449.04 407.02L449.04 405.09L449.18 402.14L449.25 408.81L449.29 407.14L449.29 405.16L449.32 409.15L449.36 403.25L449.54 407.09L449.54 407.68L449.56 403.5L449.75 408.73L449.79 407.2L449.79 406.11L449.96 409.39L449.97 403.26L450.04 405.88L450.04 407.21L450.07 403.24L450.08 408.73L450.29 406.92L450.29 406.58L450.34 403.47L450.42 408.83L450.54 406.54L450.54 405.79L450.63 403.3L450.73 408.78L450.79 405.45L450.79 404.45L450.87 409.12L451.02 403.72L451.04 405.73L451.04 404.53L451.16 408.61L451.2 402.86L451.29 406.1L451.29 406.47L451.37 409.3L451.53 403.75L451.54 406.39L451.54 407.09L451.56 403.57L451.77 409.29L451.79 407.77L451.79 406.84L451.79 403.87L451.86 409.89L452.04 405.16L452.04 406.39L452.17 403.49L452.21 409.15L452.29 407.89L452.29 405.54L452.39 409.3L452.53 403.42L452.54 405.16L452.54 406.84L452.69 409.39L452.78 402.23L452.79 406.88L452.79 406.04L452.89 401.85L452.95 408.41L453.04 405.15L453.04 406.09L453.06 403.89L453.11 409.97L453.29 407.49L453.29 406.99L453.42 403.18L453.5 409.15L453.54 406.5L453.54 406.8L453.6 401.52L453.64 408.72L453.79 406.37L453.79 407.96L453.8 408.78L453.86 402.6L454.04 406.48L454.04 405.01L454.13 409.72L454.21 403.77L454.29 406.78L454.29 405.59L454.46 403L454.5 409.17L454.54 408.21L454.54 407.01L454.62 409.3L454.77 403.11L454.79 406.53L454.79 404.19L454.95 408.58L455.02 402.27L455.04 407.06L455.04 405.68L455.06 403.15L455.12 408.23L455.29 407.53L455.29 405.64L455.29 403.22L455.39 408.31L455.54 404.81L455.54 406.91L455.57 403.73L455.63 409.49L455.79 407L455.79 405.28L455.82 403.75L455.9 408.93L456.04 406.97L456.04 407.04L456.12 402.21L456.2 409.48L456.29 407.13L456.29 407.04L456.44 403.43L456.49 409.09L456.54 406.99L456.54 406.02L456.58 402.6L456.77 409.19L456.79 407.17L456.79 407.75L456.89 409.22L456.95 403.53L457.03 406.66L457.04 406.59L457.15 402.42L457.2 409L457.29 407.13L457.29 407.84L457.34 402.76L457.36 408.82L457.54 405.94L457.54 406.85L457.55 402.14L457.71 408.93L457.79 407.61L457.79 406.59L457.87 402.22L457.89 409.61L458.04 405.74L458.04 406.13L458.13 408.24L458.19 402.98L458.29 406.02L458.29 405.79L458.38 403.28L458.44 408.64L458.54 407.58L458.54 406.39L458.65 408.77L458.68 402.89L458.79 407.93L458.79 405.44L458.84 409.58L458.94 403.53L459.04 406.36L459.04 407.43L459.11 409.05L459.27 403.4L459.29 407.05L459.29 405.74L459.38 402.68L459.5 409.24L459.54 407.54L459.54 405.97L459.6 408.42L459.76 402.93L459.79 404.24L459.79 405.09L459.89 401.96L460 408.65L460.04 405.17L460.04 408.5L460.11 408.99L460.26 402.87L460.29 406.61L460.29 407.36L460.3 408.77L460.47 403.13L460.54 405.46L460.54 406.41L460.63 408.74L460.7 402.49L460.79 407.4L460.79 407.35L460.91 403.25L461.01 409.48L461.04 407.67L461.04 404.86L461.05 409.4L461.07 402.55L461.28 406.9L461.29 404.4L461.38 402.34L461.46 409.11L461.54 405.59L461.54 405.43L461.57 408.27L461.59 402.58L461.79 406.03L461.79 404.09L461.95 409.27L462.04 403.29L462.04 405.42L462.15 401.9L462.19 408.15L462.29 405.33L462.29 405.66L462.36 403L462.4 408.7L462.54 406.85L462.54 407.73L462.6 408.82L462.65 403.84L462.79 405.85L462.79 406.23L462.83 408.95L463.02 402.46L463.04 405.72L463.04 407.86L463.07 409.62L463.13 402.93L463.29 405.66L463.29 406.92L463.39 402.74L463.51 409.16L463.54 404.62L463.54 406.05L463.62 403.32L463.67 409.16L463.79 407.98L463.79 408.26L463.89 409.43L464.03 402.27L464.04 406.29L464.04 407.03L464.18 408.75L464.18 403.67L464.29 406.71L464.29 405.95L464.29 403.98L464.44 409.25L464.54 406.01L464.54 405.7L464.69 403.1L464.76 409.36L464.79 405.59L464.79 406.66L464.85 408.68L464.89 403.02L465.04 407.59L465.04 408.72L465.08 409.6L465.14 403.98L465.29 405.15L465.29 406.29L465.34 404.39L465.42 409.11L465.53 405.4L465.54 407.95L465.66 403.21L465.66 409.13L465.79 405.06L465.79 405.7L465.94 403.39L466.02 409.07L466.04 405.44L466.04 407.82L466.15 409.32L466.23 403.75L466.29 405.29L466.29 408.57L466.31 408.92L466.34 402.78L466.54 408.22L466.54 408.74L466.75 409.01L466.76 403.12L466.79 407.14L466.79 406.66L466.87 403.26L466.95 409.58L467.04 407.47L467.04 405.24L467.19 409.35L467.22 403.28L467.29 406.16L467.29 405.75L467.31 403.63L467.38 408.84L467.54 406.21L467.54 407.68L467.68 408.98L467.73 403.64L467.79 405.93L467.79 406.69L467.81 408.83L467.94 403.79L468.04 408.61L468.04 407.27L468.08 409.16L468.23 403.35L468.29 405.97L468.29 405.92L468.34 402.52L468.48 409.2L468.54 407.05L468.54 405.03L468.57 409.14L468.71 403.26L468.79 407.41L468.79 405.27L469 402.48L469.02 409.23L469.04 406.64L469.04 406.39L469.14 409.55L469.26 404.34L469.29 406.49L469.29 406.96L469.42 409.73L469.43 404.27L469.54 408.18L469.54 406.07L469.57 409.38L469.62 402.87L469.79 407.15L469.79 406.79L469.87 402.77L469.99 409.26L470.04 406.66L470.04 404.65L470.12 408.94L470.25 402.92L470.29 407.22L470.29 407.28L470.29 402.28L470.51 408.73L470.54 406.68L470.54 405.41L470.62 403.6L470.68 408.93L470.79 408.27L470.79 406.63L470.9 401.73L470.99 408.16L471.04 406.52L471.04 406.11L471.07 402.77L471.14 409.16L471.29 405.82L471.29 406.57L471.3 409.25L471.36 404.11L471.54 404.31L471.54 405.57L471.55 403.42L471.69 408.93L471.79 404.87L471.79 405.57L471.88 408.87L472.03 403.97L472.04 406.88L472.04 407.27L472.11 409.11L472.22 404.2L472.29 407.82L472.29 407.13L472.38 409.59L472.47 402.65L472.54 406.85L472.54 407.42L472.66 401.97L472.77 409L472.79 404.11L472.79 405.11L472.91 402.17L473.01 408.8L473.04 406.59L473.04 407.05L473.24 401.92L473.28 409.09L473.29 405.42L473.29 406.99L473.44 408.98L473.48 402.56L473.54 405.61L473.54 405.7L473.72 402.34L473.74 408.38L473.79 406.44L473.79 407.45L473.83 403.46L473.96 409.02L474.04 407.68L474.04 406.54L474.17 403.69L474.22 409.2L474.29 407.18L474.29 406.46L474.29 409.16L474.51 403.8L474.54 405.39L474.54 405.58L474.55 402.46L474.71 408.56L474.79 406.68L474.79 405.8L474.97 408.72L474.99 402.7L475.04 406.54L475.04 406.46L475.12 404.18L475.18 409.41L475.29 405.44L475.29 405.21L475.4 409.22L475.4 403.52L475.54 405.45L475.54 406.19L475.7 408.85L475.72 402.46L475.79 406.92L475.79 404.72L475.96 403.37L475.99 408.51L476.04 407.7L476.04 406.28L476.08 403.5L476.21 409.43L476.29 405.84L476.29 408.55L476.31 409.32L476.53 403.87L476.54 406.1L476.54 407.31L476.57 408.78L476.74 402.17L476.79 408.69L476.79 408.58L476.79 408.88L476.89 401.74L477.04 407.06L477.04 404.79L477.07 403.83L477.28 409.21L477.29 406.17L477.29 406.57L477.44 401.33L477.47 409.34L477.54 407.08L477.54 406.84L477.6 408.97L477.78 402.71L477.79 406.17L477.79 407.04L477.82 409.28L478 402.96L478.04 407.09L478.04 406.84L478.06 403.09L478.18 409.12L478.29 406.11L478.29 404.2L478.35 409.1L478.53 402.4L478.54 406.62L478.54 406.78L478.57 403.52L478.77 409.06L478.79 407.88L478.79 408.65L478.82 409.18L478.9 403.13L479.04 406.05L479.04 404.9L479.2 408.42L479.28 403.96L479.28 405.55L479.29 405.87L479.33 408.88L479.49 403.43L479.54 405.08L479.54 407.81L479.7 403.55L479.77 409.41L479.79 406.38L479.79 407.84L479.81 410.09L479.99 403.47L480.04 407.89L480.04 407.82L480.19 408.58L480.25 401.46L480.29 407.62L480.29 405.25L480.41 408.92L480.54 403.58L480.54 406.12L480.62 408.93L480.76 403.47L480.79 406.64L480.79 407.89L480.79 409.18L480.94 403.32L481.04 407.41L481.04 407.48L481.08 403.91L481.14 409.07L481.29 407.38L481.29 405.83L481.35 409.7L481.52 403.81L481.54 407.18L481.54 406.89L481.62 409.36L481.65 402.63L481.79 406.09L481.79 405.49L481.93 408.87L481.98 403.11L482.04 406.01L482.04 407.27L482.16 408.89L482.18 403.39L482.29 405.89L482.29 407.01L482.35 402.73L482.53 408.68L482.54 406.58L482.54 406.73L482.58 403.69L482.61 409.33L482.79 407.47L482.79 406.33L482.83 403.62L482.88 409.25L483.04 408.1L483.04 407.64L483.14 409.19L483.21 403.55L483.29 406.14L483.29 406.14L483.36 409.07L483.43 403.53L483.53 404.87L483.54 405.85L483.54 409.35L483.65 402.57L483.79 407.71L483.79 407.88L483.87 402.4L483.93 409.07L484.04 407.91L484.04 407.47L484.08 403.97L484.23 408.97L484.29 406.23L484.29 406.54L484.43 409L484.53 403.74L484.54 407.2L484.54 405.28L484.67 402.76L484.72 409.39L484.79 408.02L484.79 407.5L484.8 409.1L484.95 404.03L485.04 406.6L485.04 407.84L485.11 409.16L485.24 403.05L485.29 405.82L485.29 405.61L485.43 402.88L485.48 409.19L485.54 406.64L485.54 403.86L485.54 402.68L485.69 408.87L485.79 406.36L485.79 407.87L485.81 402.99L485.94 409.54L486.04 407.31L486.04 407.52L486.14 410.12L486.25 402.6L486.29 405.87L486.29 406.97L486.35 408.88L486.37 403.9L486.54 406.21L486.54 407.67L486.65 403.33L486.69 408.93L486.79 404.51L486.79 406.85L486.85 403.09L487.01 409.07L487.04 406.02L487.04 406.82L487.09 403.22L487.23 409.24L487.29 407.95L487.29 407.7L487.31 408.98L487.42 402.94L487.54 406.84L487.54 407.32L487.58 402.27L487.64 408.34L487.78 405.57L487.79 405.75L487.81 408.81L487.9 403.58L488.04 405.5L488.04 407.29L488.04 408.87L488.17 403.12L488.29 406.52L488.29 406.99L488.34 403.16L488.4 408.79L488.54 406.9L488.54 406.28L488.59 403.05L488.69 408.93L488.79 407.16L488.79 407.65L488.93 409.51L489 403.33L489.04 407.68L489.04 407.33L489.1 401.11L489.2 409.39L489.29 406.25L489.29 404.85L489.36 409.35L489.4 403.75L489.54 406.61L489.54 407.83L489.71 400.87L489.75 408.98L489.79 408.55L489.79 407.87L489.96 404.25L489.99 409.66L490.04 407.94L490.04 406.83L490.14 401.79L490.19 409.04L490.29 407.99L490.29 407.96L490.49 409.6L490.52 403.88L490.54 408.07L490.54 407.2L490.56 409.28L490.58 404.07L490.79 408.11L490.79 408.82L490.9 404.21L491.01 409.53L491.04 407.47L491.04 406.38L491.06 408.99L491.26 402.24L491.29 404.62L491.29 407.5L491.42 408.9L491.51 402.98L491.54 406.85L491.54 405.03L491.58 402.34L491.76 409.55L491.79 408.19L491.79 404.81L491.82 409.58L491.91 402.99L492.03 406.52L492.04 408.15L492.05 409.12L492.12 403.65L492.29 407.41L492.29 407.86L492.3 408.77L492.52 403.6L492.54 407.43L492.54 406.6L492.66 403.48L492.75 409.17L492.79 406.74L492.79 405.07L492.82 403.85L492.91 409.48L493.04 407.26L493.04 406.13L493.1 403.93L493.13 409.37L493.29 408.26L493.29 406.86L493.36 409.84L493.53 402.9L493.54 407.64L493.54 405.67L493.54 402.21L493.56 408.92L493.79 404.92L493.79 407.85L493.82 401.39L493.96 408.69L494.04 405.68L494.04 406.92L494.1 403.43L494.19 408.67L494.29 407.25L494.29 405.26L494.33 402.77L494.51 408.42L494.54 406.69L494.54 405.54L494.71 403.68L494.74 409.47L494.79 407.97L494.79 407.41L494.82 409.66L494.91 403.92L495.04 406.5L495.04 407.97L495.11 400.79L495.16 408.6L495.29 405.69L495.29 404.54L495.29 401.47L495.37 409.08L495.54 406.63L495.54 407.56L495.57 409.06L495.61 403.32L495.79 406.59L495.79 406.65L495.84 403.45L496.03 408.84L496.04 406.75L496.04 408.87L496.08 409.37L496.14 403.08L496.29 407.97L496.29 406.26L496.29 402.07L496.36 409.59L496.54 407.09L496.54 407.64L496.56 403.67L496.76 409.52L496.79 406.92L496.79 406.4L496.82 409.53L497.01 402.61L497.04 406.9L497.04 407.56L497.15 404.23L497.21 408.9L497.29 407.27L497.29 405.16L497.3 402.97L497.49 409.08L497.54 406.32L497.54 407.05L497.56 403.17L497.73 409.88L497.79 407.7L497.79 406.83L497.79 403.61L497.99 409.03L498.04 406.9L498.04 406.39L498.17 403.47L498.19 409.36L498.29 408.38L498.29 408.27L498.3 403.24L498.47 409.21L498.54 408.09L498.54 405.71L498.58 402.89L498.63 409.42L498.79 406.88L498.79 407.75L498.92 409.29L498.94 403.3L499.04 407.82L499.04 407.46L499.18 409.58L499.26 402.99L499.29 407.14L499.29 407.97L499.39 409.11L499.48 403.11L499.54 406.46L499.54 404.56L499.55 403.04L499.77 409.32L499.79 408.39L499.79 407.74L499.88 404.17L499.96 409.34L500.04 408.55L500.04 408.22L500.06 403.41L500.17 409.02L500.29 408.13L500.29 408.17L500.29 403.14L500.3 409.15L500.54 405.44L500.54 407.57L500.59 403.19L500.74 409.22L500.79 408.13L500.79 407.74L500.82 408.5L500.86 404.25L501.04 405.74L501.04 406.85L501.08 409.42L501.13 403.46L501.29 405.65L501.29 405.92L501.32 403.48L501.5 409.97L501.54 407.67L501.54 407.18L501.61 403.49L501.75 408.74L501.79 406.91L501.79 408.11L501.8 403.36L501.82 409.46L502.04 408.12L502.04 405.8L502.09 402.44L502.25 408.72L502.29 407.08L502.29 406.46L502.41 409.78L502.46 404.21L502.54 407.45L502.54 408.09L502.57 409.44L502.74 403.62L502.79 407.1L502.79 406.63L502.88 409.26L502.88 403.54L503.04 405.3L503.04 406.26L503.07 404.17L503.16 409.6L503.29 405.88L503.29 407.4L503.37 403.47L503.39 409.2L503.54 405.07L503.54 407.01L503.6 402.28L503.76 408.7L503.79 407.45L503.79 406.3L503.83 408.81L503.85 403.87L504.04 404.13L504.04 408.43L504.07 409.12L504.13 403.55L504.29 406.1L504.29 407.56L504.34 409.51L504.37 402.97L504.54 407.95L504.54 407.38L504.62 402.91L504.74 409.23L504.79 407.6L504.79 408.04L504.94 408.8L505 403.44L505.04 406.32L505.04 405.96L505.19 409.13L505.25 403.62L505.29 408.11L505.29 406.64L505.35 403.39L505.49 409.22L505.54 407.19L505.54 406.36L505.64 402.01L505.67 409.17L505.78 407.47L505.79 407.61L505.9 409.08L505.97 402.62L506.04 407.02L506.04 404.91L506.19 410.02L506.25 403.96L506.29 407.47L506.29 407.43L506.29 409.24L506.52 403.7L506.54 407.43L506.54 407.7L506.54 402.84L506.56 408.71L506.79 408.13L506.79 406.82L506.85 403.15L506.96 410.24L507.04 408.12L507.04 407.35L507.13 403.34L507.27 409.12L507.29 407.65L507.29 405.71L507.38 408.75L507.53 402.71L507.54 408L507.54 407.53L507.62 403.4L507.69 409.35L507.79 405.79L507.79 407.68L507.82 402.24L508 408.96L508.04 407.66L508.04 407.38L508.05 403.72L508.2 409.29L508.29 406.95L508.29 407.52L508.3 402.02L508.51 409.01L508.54 407.22L508.54 407.09L508.61 403.83L508.7 409.58L508.79 407.07L508.79 405.98L508.86 409.34L508.9 401.95L509.04 405.13L509.04 406.05L509.12 408.9L509.24 403.65L509.29 406.08L509.29 405.94L509.37 403.5L509.45 409.49L509.54 406.46L509.54 406.85L509.57 403.5L509.75 408.84L509.79 407.73L509.79 407.33L509.82 409.18L509.89 403.4L510.03 405.63L510.04 405.84L510.12 402.29L510.17 409.04L510.29 407.43L510.29 408.28L510.36 409.01L510.5 401.53L510.54 404.16L510.54 406.04L510.62 403.61L510.7 409.16L510.79 406.86L510.79 408.19L510.83 410.11L510.92 402.68L511.04 406.1L511.04 406.95L511.04 409.09L511.14 403.66L511.29 408.13L511.29 407.61L511.33 409.6L511.46 403.28L511.54 406.64L511.54 406.47L511.56 409.59L511.57 404.09L511.79 407.36L511.79 407.96L511.87 409.32L511.99 403.24L512.04 404.71L512.04 407.7L512.13 402.88L512.17 408.82L512.29 407.69L512.29 406.94L512.48 408.98L512.48 404.19L512.54 407.29L512.54 405.86L512.63 402.8L512.69 408.99L512.79 406.57L512.79 406.09L512.87 409.6L512.96 403.49L513.04 406.18L513.04 406.92L513.08 403.41L513.12 409.62L513.29 406.85L513.29 406.27L513.33 408.79L513.39 403.45L513.54 408.18L513.54 405.4L513.55 404.01L513.64 409.24L513.79 404.6L513.79 404.87L513.93 402.58L514.01 409.38L514.04 406.54L514.04 408.19L514.04 409.65L514.19 403.64L514.28 406.8L514.29 407.91L514.47 409.04L514.48 403.8L514.54 407.81L514.54 406.64L514.76 408.99L514.77 402.74L514.79 407.09L514.79 406.87L514.99 408.8L515 403.31L515.04 407.39L515.04 405L515.24 409.18L515.26 402.85L515.29 406.7L515.29 407.91L515.46 409.35L515.53 403.17L515.54 408.45L515.54 407.94L515.57 409.36L515.66 402.84L515.79 406.55L515.79 407.44L515.83 408.67L515.92 401.54L516.04 404.69L516.04 407.17L516.21 409.14L516.28 403.34L516.29 405.43L516.29 403.65L516.39 403.22L516.53 409.2L516.54 407.45L516.54 408.56L516.54 409.7L516.77 403.3L516.79 408.88L516.79 408.34L516.85 409.36L517.03 403.16L517.04 407.28L517.04 405.42L517.1 409.14L517.17 403.03L517.29 407.48L517.29 405.61L517.36 409.1L517.49 402.86L517.54 407.13L517.54 406.71L517.62 403.29L517.77 409.32L517.79 406.81L517.79 405.16L517.83 409.07L517.85 403.97L518.04 405.6L518.04 406.35L518.04 409.22L518.2 402.68L518.29 408.14L518.29 406.39L518.32 409.24L518.48 404.34L518.53 407.18L518.54 407.64L518.59 409.01L518.74 404.09L518.79 404.12L518.79 404.2L518.82 403.03L518.87 408.89L519.04 406.91L519.04 406.39L519.11 402.27L519.28 408.85L519.29 405.07L519.29 407.16L519.49 403.32L519.5 409.3L519.54 408.06L519.54 406.49L519.75 408.81L519.77 400.73L519.79 405.89L519.79 405.47L519.81 402.67L519.94 409.47L520.04 406.4L520.04 406.98L520.15 402.22L520.27 409.82L520.29 407.71L520.29 406.89L520.38 403.64L520.5 409.21L520.54 404.36L520.54 406.74L520.71 403.46L520.73 409.62L520.79 408.34L520.79 405.29L520.82 409.81L521.03 403.01L521.04 406.22L521.04 406.18L521.09 402.49L521.25 408.99L521.29 408.07L521.29 409.07L521.34 403.39L521.54 407.29L521.54 407.2L521.75 409.22L521.77 402.43L521.79 407.97L521.79 407.26L521.83 401.85L521.97 408.67L522.04 405.96L522.04 406.93L522.1 409.89L522.13 403.09L522.29 409.18L522.29 407.49L522.41 409.2L522.46 403.41L522.54 405.02L522.54 404.79L522.62 409.55L522.76 403.49L522.79 406.09L522.79 407.99L523.03 409.21L523.03 404.29L523.04 405.97L523.04 408.53L523.06 409.22L523.24 402.31L523.29 406.19L523.29 406.62L523.47 409.09L523.48 401.51L523.54 407.45L523.54 405.23L523.58 402.83L523.72 409.4L523.79 406.75L523.79 408.23L523.81 409.66L523.94 403.97L524.04 407.05L524.04 408.51L524.21 410.4L524.27 403.54L524.29 407.94L524.29 404.25L524.31 403.88L524.32 409.42L524.54 409.13L524.54 406.72L524.68 403.41L524.69 408.92L524.79 407.08L524.79 407.94L524.8 408.98L524.91 403.27L525.04 407.31L525.04 405.87L525.13 403.14L525.2 410.33L525.29 407.84L525.29 407.93L525.33 409.69L525.38 404.17L525.54 407.92L525.54 406.97L525.6 408.89L525.77 403.44L525.79 404.76L525.79 406.24L525.86 409.77L525.9 403.84L526.04 407.5L526.04 406.17L526.06 409.02L526.17 403.87L526.29 409L526.29 407.46L526.41 402.27L526.5 408.82L526.54 407.88L526.54 404.96L526.65 404.04L526.72 410L526.79 405.72L526.79 408.65L527 409.12L527.03 403.35L527.04 405.36L527.04 406.78L527.06 409.15L527.26 401.89L527.29 407.49L527.29 406.82L527.35 403.63L527.5 409.36L527.54 407.66L527.54 405.64L527.61 403.48L527.7 409.55L527.79 406.11L527.79 407.37L527.79 403.08L528 408.83L528.04 408.31L528.04 406.13L528.05 402.46L528.25 409.32L528.29 408.64L528.29 407.17L528.35 402.97L528.51 409.84L528.54 406.14L528.54 407.25L528.63 409.49L528.74 403.14L528.79 408.4L528.79 407.52L528.83 409.26L529.02 402.74L529.04 406.82L529.04 407.14L529.04 402.67L529.26 409.3L529.29 405.44L529.29 408.54L529.35 402.2L529.46 409.56L529.54 408.58L529.54 405.77L529.62 410.08L529.72 403.83L529.79 406.97L529.79 408.6L529.79 402.66L529.91 408.85L530.04 406.21L530.04 407.48L530.13 409.57L530.25 403.26L530.29 406.43L530.29 408.91L530.4 409.89L530.49 404.01L530.54 407.14L530.54 403.84L530.64 402.54L530.72 408.79L530.79 405.61L530.79 408.9L531.01 403.46L531.04 407.25L531.04 405.97L531.05 409.16L531.2 403.37L531.29 405.31L531.29 407.04L531.4 409.37L531.44 402.73L531.54 407.32L531.54 406.15L531.54 403.42L531.77 409.84L531.79 407.09L531.79 406.79L531.82 403.56L531.88 409.36L532.04 407.68L532.04 409.16L532.06 409.43L532.16 403.18L532.28 408.13L532.29 405.67L532.52 409.65L532.54 402.62L532.54 403.85L532.67 409.39L532.78 403.8L532.79 405.61L532.79 407.32L532.81 403.51L532.84 409.25L533.04 404.7L533.04 406.45L533.1 404.14L533.16 409.56L533.29 407.64L533.29 407.66L533.39 409.3L533.49 403.17L533.54 407.34L533.54 406.68L533.59 409.51L533.61 402.69L533.79 405.95L533.79 406.95L533.85 409.53L533.96 402.65L534.04 406.13L534.04 405.88L534.08 403.33L534.25 409.85L534.29 407.4L534.29 408.13L534.29 409.71L534.43 403.38L534.54 407.31L534.54 407.48L534.62 403.87L534.73 409.58L534.79 408.17L534.79 408.58L534.79 409.77L534.97 403.87L535.04 407.14L535.04 406.21L535.2 403.81L535.23 408.9L535.29 406.46L535.29 407.07L535.3 409.55L535.38 404.03L535.54 407.22L535.54 407.49L535.54 403.61L535.66 409.47L535.79 407.26L535.79 407.16L535.84 409.4L536.01 403.57L536.04 407.85L536.04 407.39L536.1 401.88L536.12 409.11L536.29 405.15L536.29 408.33L536.49 403.54L536.52 409.35L536.53 406.22L536.54 407.41L536.54 409.65L536.58 400.8L536.79 407.87L536.79 407.88L536.87 404.15L536.93 408.77L537.04 408.36L537.04 406.03L537.24 409.04L537.28 402.12L537.29 407.42L537.29 406.75L537.32 408.88L537.4 403.31L537.54 406.83L537.54 406.91L537.54 408.91L537.75 403.9L537.79 406.96L537.79 405.59L537.9 404.2L537.99 409.35L538.04 407.77L538.04 404.54L538.05 404.28L538.16 409.6L538.29 408.15L538.29 408.42L538.31 409.96L538.46 403.7L538.54 407.53L538.54 407.63L538.67 409.68L538.77 403.66L538.79 407.77L538.79 406.98L538.93 409.73L539 404.44L539.04 408.01L539.04 407.54L539.09 409.48L539.18 403.81L539.29 406.54L539.29 407.6L539.36 409.54L539.43 401.39L539.54 407L539.54 408.67L539.56 409.32L539.61 403.08L539.79 406.09L539.79 406.27L539.92 409.36L539.99 404.16L540.04 406.99L540.04 406.63L540.09 403.37L540.13 409.61L540.29 408.19L540.29 406.08L540.35 409.09L540.43 403.74L540.54 405.65L540.54 405.34L540.62 409.82L540.67 403.17L540.78 405.04L540.79 407.14L540.89 403.52L540.95 409.27L541.04 407.73L541.04 406.19L541.07 409.29L541.27 403.68L541.29 406.12L541.29 405.83L541.32 403.39L541.45 409.65L541.54 405.12L541.54 406.6L541.62 403.47L541.78 409.31L541.79 407.88L541.79 406.25L542.01 409.78L542.03 404.44L542.04 407.56L542.04 407.61L542.11 403.31L542.17 409.51L542.29 406.9L542.29 403.98L542.4 403.34L542.51 409.5L542.54 406.39L542.54 408.02L542.56 409.12L542.77 402.78L542.79 406.63L542.79 407.19L542.9 402.32L542.91 408.97L543.04 406.6L543.04 407.32L543.16 409.21L543.24 403.96L543.29 406.96L543.29 404.07L543.33 402.13L543.5 409.51L543.54 407.81L543.54 406.75L543.54 410.24L543.66 402.15L543.79 408.26L543.79 408.35L543.79 409.88L543.91 403.36L544.04 405.83L544.04 407.86L544.14 403.3L544.14 408.95L544.29 406.87L544.29 405.24L544.31 403.9L544.44 409L544.54 406.71L544.54 408.75L544.57 408.93L544.69 402.74L544.79 407.28L544.79 407.18L544.79 409.63L544.93 404.26L545.04 407.93L545.04 406.41L545.18 409.1L545.23 404.04L545.29 406.29L545.29 407.86L545.37 409.58L545.51 401.55L545.54 403.82L545.54 406.41L545.68 403.42L545.75 410.21L545.79 407.75L545.79 407.47L545.83 409.93L545.94 404.29L546.04 406.8L546.04 406.83L546.12 402.9L546.25 408.91L546.29 406.28L546.29 408.14L546.41 403.4L546.51 409.23L546.54 406.83L546.54 407.12L546.6 409.9L546.71 404.27L546.79 406.02L546.79 407.67L546.92 409.4L546.97 403.39L547.04 404.57L547.04 406.22L547.14 409.06L547.16 403.22L547.29 408.05L547.29 407.18L547.5 403.09L547.52 409.58L547.54 408.25L547.54 408.98L547.73 403.5L547.75 409.18L547.79 406.69L547.79 407.26L547.79 403.82L547.89 409L548.04 405.86L548.04 405.91L548.04 409.39L548.25 403.01L548.29 407.12L548.29 404.87L548.32 409.52L548.39 403.52L548.54 406.25L548.54 407.79L548.57 403.87L548.69 409.53L548.79 406.07L548.79 406.89L548.89 409.22L548.91 402.27L549.04 405.08L549.04 406.01L549.16 409.94L549.23 402.75L549.29 406.05L549.29 407.03L549.32 401.66L549.51 409.42L549.54 409.05L549.54 406.92L549.54 409.57L549.65 403.35L549.79 406.55L549.79 408.66L549.83 409.33L549.9 402.82L550.04 406.37L550.04 407.17L550.13 409.41L550.27 404.14L550.29 405.82L550.29 407.28L550.3 402.13L550.36 409.99L550.54 407.31L550.54 407.01L550.71 403.26L550.75 409.67L550.79 407.44L550.79 408.89L550.92 403.36L551 409.41L551.04 406.69L551.04 405.83L551.04 403.67L551.27 409.06L551.29 405.6L551.29 408.53L551.43 403.3L551.51 409.28L551.54 406.56L551.54 407.89L551.6 410.18L551.73 402.96L551.79 408.16L551.79 406.99L551.8 409.45L552.02 404.04L552.04 407.01L552.04 405.81L552.22 409.54L552.27 404.08L552.29 406.15L552.29 405.72L552.42 404.39L552.49 409.4L552.54 407.2L552.54 407.41L552.57 408.95L552.65 402.17L552.79 407.22L552.79 407.81L552.8 403.19L552.9 409.33L553.04 407.03L553.04 405.8L553.12 409.52L553.16 404.32L553.29 407.77L553.29 407.16L553.45 403.88L553.45 408.96L553.45 406.05"/>
<path id="ps" d="M107.29 397.02L107.3 396.56L107.53 399.34L107.54 399.34L107.54 399.32L107.55 399.22L107.65 401.52L107.79 400.59L107.79 400.71L107.9 400.06L108.03 403.06L108.04 402.74L108.04 402.6L108.17 401.25L108.28 402.85L108.29 402.35L108.29 402.29L108.4 400.83L108.5 403.38L108.54 403.07L108.54 403.06L108.58 401.95L108.68 403.75L108.79 403.24L108.79 403.43L108.8 402.02L108.94 404.07L109.04 402.24L109.04 402.32L109.1 401.85L109.19 404.14L109.29 403.64L109.29 403.62L109.32 401.67L109.35 404.32L109.54 403.53L109.54 403.53L109.61 405.01L109.74 402.87L109.79 403.32L109.79 403.36L109.88 402.7L109.96 403.98L110.04 403.48L110.04 403.32L110.04 403.05L110.22 405.18L110.29 403.88L110.29 403.85L110.31 403.48L110.36 404.86L110.54 404.26L110.54 404.21L110.55 404.51L110.73 402.57L110.79 403.71L110.79 403.53L110.79 403.38L111.03 404.67L111.04 404.62L111.04 404.58L111.13 403.24L111.19 404.73L111.29 403.55L111.29 403.48L111.34 402.91L111.38 404.13L111.53 403.97L111.54 403.92L111.61 405.3L111.77 403.53L111.79 403.77L111.79 403.65L111.93 404.81L112.03 402.53L112.04 402.91L112.04 403.04L112.04 403.03L112.22 405L112.29 404.57L112.29 404.67L112.29 404.71L112.38 402.47L112.54 403.51L112.54 403.74L112.62 405.08L112.7 403.24L112.79 404.08L112.79 404.19L112.82 403.35L112.96 405.07L113.04 404.81L113.04 404.77L113.08 403.38L113.29 404.12L113.29 403.99L113.39 404.99L113.53 403.39L113.54 403.71L113.54 403.61L113.57 403.04L113.76 404.7L113.79 403.73L113.79 403.75L113.83 404.7L113.87 403.51L114.04 404.26L114.04 404.25L114.06 403.63L114.1 404.67L114.29 403.82L114.29 403.75L114.29 403.63L114.39 405.43L114.54 404.26L114.54 404.19L114.6 404.98L114.68 403.65L114.79 404.25L114.79 404.18L114.84 405.22L115.01 403.97L115.04 404.5L115.04 404.58L115.06 403.46L115.2 405.35L115.29 404.83L115.29 404.87L115.39 405.18L115.53 403.76L115.54 404.04L115.54 403.99L115.64 405.02L115.74 403.46L115.78 404.75L115.79 404.82L115.8 405.18L115.99 403.63L116.04 404.23L116.04 404.17L116.1 403.08L116.2 404.79L116.29 404.19L116.29 404.2L116.33 405.39L116.42 403.34L116.54 404.2L116.54 404.25L116.7 405.66L116.77 403.95L116.79 404.61L116.79 404.54L116.93 403.46L117.02 405.07L117.04 404.77L117.04 404.81L117.04 405L117.27 403.57L117.29 404.2L117.29 404.25L117.39 405.1L117.52 403.54L117.54 403.55L117.54 403.68L117.54 403.66L117.7 405.05L117.79 404.52L117.79 404.41L117.85 403.77L117.91 405.12L118.04 403.98L118.04 403.89L118.07 403.29L118.17 405.02L118.29 404.02L118.29 403.74L118.38 404.9L118.54 404.48L118.54 404.58L118.61 405.43L118.77 404.37L118.79 404.7L118.79 404.82L118.87 405.29L118.94 403.63L119.04 404.06L119.04 404.01L119.04 404.01L119.27 405.56L119.29 404.68L119.29 404.69L119.31 405.17L119.49 403.78L119.54 404.18L119.54 404.2L119.54 404.08L119.68 405.51L119.79 404.92L119.79 404.95L119.94 404.25L120.03 405.63L120.03 405.41L120.04 405.48L120.04 405.81L120.26 403.57L120.29 404.52L120.29 404.49L120.36 403.81L120.48 405.34L120.54 404.47L120.54 404.5L120.74 404.02L120.78 405.44L120.79 405.29L120.79 405.27L120.8 405.28L120.85 403.74L121.04 404.42L121.04 404.4L121.06 404.01L121.23 405.86L121.29 404.54L121.29 404.51L121.36 403.77L121.42 405.22L121.54 404.03L121.54 404.24L121.63 403.86L121.67 405.28L121.79 404.32L121.79 404.43L121.83 403.74L122 405.31L122.04 404.5L122.04 404.41L122.19 405.42L122.25 403.75L122.29 404.47L122.29 404.42L122.32 403.89L122.53 405.68L122.54 405.54L122.54 405.56L122.54 405.6L122.62 403.87L122.79 404.79L122.79 404.63L122.86 403.53L122.93 405.67L123.04 404.89L123.04 404.78L123.04 405.07L123.17 403.79L123.29 404.44L123.29 404.36L123.4 404.98L123.45 403.8L123.54 404.5L123.54 404.41L123.64 403.75L123.76 405.11L123.79 404.75L123.79 404.78L123.86 405.26L124.03 403.77L124.04 404.57L124.04 404.72L124.13 405.22L124.21 404.22L124.29 404.86L124.29 404.98L124.35 405.55L124.42 403.88L124.54 403.93L124.54 404.01L124.55 403.81L124.7 405.53L124.79 404.96L124.79 405.11L124.87 403.9L124.99 405.36L125.04 404.98L125.04 404.97L125.09 404.29L125.13 405.7L125.29 405.06L125.29 405L125.53 403.84L125.54 404.17L125.54 404.18L125.54 403.97L125.58 405.93L125.79 405.35L125.79 405.46L125.87 404.53L125.93 405.92L126.04 404.81L126.04 404.88L126.13 405.22L126.25 404.06L126.29 404.74L126.29 404.75L126.31 405.34L126.45 403.95L126.54 404.65L126.54 404.61L126.59 404.31L126.61 405.39L126.79 404.42L126.79 404.19L126.83 405.55L127 403.65L127.04 403.96L127.04 404.02L127.04 403.91L127.14 405.21L127.29 404.62L127.29 404.68L127.3 404.19L127.49 405.36L127.54 405.05L127.54 405L127.57 405.95L127.76 404.2L127.79 404.63L127.79 404.78L127.92 403.96L128.03 405.86L128.04 405.63L128.04 405.54L128.04 405.58L128.23 404.29L128.29 404.98L128.29 404.95L128.36 404.95L128.53 403.7L128.54 403.78L128.54 403.83L128.54 403.82L128.63 405.33L128.79 404.61L128.79 404.53L128.82 404.07L128.96 405.14L129.04 404.22L129.04 404.32L129.09 405.58L129.21 403.71L129.29 404.57L129.29 404.65L129.35 405.57L129.46 403.82L129.54 405.19L129.54 405.17L129.64 404.16L129.72 405.42L129.79 404.84L129.79 404.79L129.85 404.09L129.91 405.22L130.04 404.87L130.04 404.84L130.13 405.38L130.24 404.25L130.29 404.71L130.29 404.73L130.42 405.69L130.49 404.22L130.54 405.26L130.54 405.2L130.57 405.85L130.75 404.36L130.79 404.99L130.79 404.95L130.93 405.87L131.01 404.47L131.04 404.58L131.04 404.66L131.16 405.7L131.24 404.36L131.29 405.62L131.29 405.67L131.33 406.13L131.51 404.03L131.54 404.39L131.54 404.41L131.58 404.23L131.78 405.47L131.79 405.12L131.79 405.03L131.86 406.25L132.02 404.3L132.04 404.96L132.04 404.93L132.1 404.71L132.26 405.89L132.29 405.39L132.29 405.59L132.4 403.82L132.54 404.69L132.54 404.82L132.6 403.79L132.69 405.7L132.79 405.23L132.79 405.31L132.79 405.48L132.98 403.95L133.04 404.77L133.04 404.76L133.08 405.85L133.23 404.68L133.29 405.31L133.29 405.01L133.36 404.07L133.46 405.33L133.54 404.96L133.54 404.96L133.58 404.38L133.67 405.95L133.78 405.24L133.79 405.27L133.94 405.45L133.99 403.94L134.04 404.46L134.04 404.41L134.1 403.64L134.28 405.7L134.29 405.36L134.29 405.24L134.4 405.78L134.5 404.4L134.54 405.02L134.54 404.97L134.61 404.23L134.73 405.72L134.79 404.76L134.79 404.75L134.88 405.28L135.01 404.17L135.04 404.83L135.04 404.78L135.24 405.84L135.28 404.04L135.29 404.2L135.29 404.27L135.3 404.24L135.46 405.88L135.54 404.75L135.54 404.85L135.65 404.07L135.74 405.77L135.79 404.66L135.79 404.7L135.87 405.5L135.97 404.13L136.04 404.82L136.04 404.76L136.09 404.29L136.22 405.64L136.29 404.96L136.29 405L136.38 405.63L136.49 404.74L136.54 405.41L136.54 405.4L136.68 405.66L136.74 404.52L136.79 405.23L136.79 405.16L136.93 405.87L137.02 404.83L137.04 405.51L137.04 405.32L137.1 403.88L137.23 405.63L137.29 404.83L137.29 404.76L137.35 405.79L137.53 404.3L137.54 404.31L137.54 404.35L137.54 404.23L137.58 406.09L137.79 404.96L137.79 405.02L137.82 404.25L137.93 405.98L138.03 405.17L138.04 405.09L138.06 404.51L138.15 405.8L138.29 404.89L138.29 404.82L138.35 405.87L138.42 404.73L138.54 405.24L138.54 405.19L138.61 404.03L138.7 405.33L138.79 404.58L138.79 404.61L138.79 404.37L138.95 406.13L139.04 405.02L139.04 405.03L139.07 404.37L139.23 405.97L139.29 405.61L139.29 405.6L139.31 404.53L139.48 406.15L139.54 405.31L139.54 405.26L139.66 405.59L139.71 404.15L139.79 404.39L139.79 404.45L139.8 404.27L140.01 406.13L140.04 405.55L140.04 405.5L140.04 405.95L140.17 404.65L140.29 405.03L140.29 405.06L140.35 406.13L140.42 404.57L140.54 404.88L140.54 404.91L140.58 405.85L140.61 404.52L140.79 404.88L140.79 404.76L140.8 404.24L140.88 405.59L141.04 404.93L141.04 405.01L141.15 405.84L141.26 404.17L141.29 404.89L141.29 404.89L141.41 404.15L141.5 405.63L141.54 404.54L141.54 404.65L141.55 404.23L141.74 405.69L141.79 405.48L141.79 405.47L141.93 404.34L142.01 406.07L142.04 405.12L142.04 405.12L142.11 403.97L142.18 405.62L142.28 404.55L142.29 404.74L142.3 404.43L142.38 405.71L142.54 405.25L142.54 405.32L142.66 405.61L142.75 404.14L142.79 404.66L142.79 404.51L142.8 403.99L142.97 405.31L143.04 404.87L143.04 404.85L143.2 406.32L143.28 403.95L143.29 404.05L143.29 404.02L143.29 403.89L143.44 405.69L143.54 405.54L143.54 405.45L143.63 404.27L143.68 405.49L143.79 404.93L143.79 404.75L143.89 404.61L143.98 406.08L144.04 405.46L144.04 405.55L144.04 405.64L144.17 404.35L144.29 404.99L144.29 405.01L144.35 403.95L144.47 406.16L144.54 405.06L144.54 405L144.58 404.24L144.7 406.42L144.79 405.42L144.79 405.41L144.86 405.58L145.03 403.93L145.04 404.1L145.04 404.3L145.04 404.26L145.09 406L145.29 404.61L145.29 404.77L145.32 404.26L145.42 405.76L145.54 404.56L145.54 404.67L145.6 404.19L145.64 405.81L145.79 405.75L145.79 405.74L145.84 404.61L145.9 406.23L146.04 404.84L146.04 404.75L146.18 406.12L146.28 404.26L146.29 404.39L146.29 404.63L146.39 406.03L146.48 404.51L146.53 404.78L146.54 404.87L146.57 403.9L146.73 405.74L146.79 404.93L146.79 405.07L146.8 404.61L147.02 405.9L147.04 405.78L147.04 405.73L147.12 406.28L147.2 404.51L147.29 404.75L147.29 404.73L147.33 405.3L147.51 403.9L147.54 404.57L147.54 404.59L147.54 404.36L147.66 406.02L147.79 405.58L147.79 405.55L147.84 404.6L147.99 406.21L148.04 405.64L148.04 405.63L148.12 404.17L148.28 406.35L148.29 406.21L148.29 406.21L148.52 404.32L148.54 404.88L148.54 404.92L148.57 404.05L148.77 405.5L148.79 404.96L148.79 404.81L148.83 405.87L148.9 404.21L149.04 405.24L149.04 405.37L149.18 405.98L149.29 404.39L149.29 404.24L149.33 403.97L149.46 405.62L149.54 404.9L149.54 405.05L149.59 404.28L149.72 405.71L149.79 405L149.79 404.88L149.92 404.25L149.98 405.71L150.04 404.92L150.04 404.91L150.14 404.48L150.26 405.81L150.29 405.58L150.29 405.63L150.38 404.2L150.54 405.76L150.54 405.89L150.57 405.96L150.66 404.17L150.79 405.15L150.79 405.14L150.97 405.79L151.03 404.34L151.04 404.45L151.04 404.56L151.19 403.51L151.28 405.56L151.29 405.14L151.29 405.29L151.35 406.29L151.52 404.31L151.54 404.38L151.54 404.46L151.63 404.03L151.78 406.16L151.79 406.12L151.79 406.12L152.01 404.6L152.04 404.9L152.04 404.72L152.07 406.09L152.21 404.62L152.29 405.37L152.29 405.11L152.39 406.13L152.45 404.63L152.54 405.11L152.54 404.97L152.68 404.4L152.75 405.88L152.79 405.44L152.79 405.5L152.95 404.95L153.02 406.15L153.04 405.52L153.04 405.38L153.14 405.89L153.27 404.78L153.29 404.89L153.29 405.02L153.39 404.81L153.51 406.03L153.54 405.38L153.54 405.39L153.66 406.1L153.76 404.53L153.79 404.97L153.79 404.92L153.81 404.44L154 405.95L154.04 405.62L154.04 405.66L154.05 405.85L154.24 403.94L154.29 404.82L154.29 404.89L154.31 406.06L154.36 404.04L154.54 405.06L154.54 404.9L154.63 406.01L154.77 404.36L154.79 404.68L154.79 404.78L154.91 404.1L154.99 405.43L155.04 405.41L155.04 405.49L155.04 405.96L155.25 404.44L155.29 405.51L155.29 405.42L155.35 404.78L155.52 405.82L155.54 405.4L155.54 405.36L155.59 404.33L155.73 405.77L155.79 404.8L155.79 404.74L155.84 403.84L155.94 405.51L156.04 404.64L156.04 404.78L156.05 404.44L156.24 406.14L156.29 405.76L156.29 405.74L156.39 405.89L156.52 404.49L156.54 404.57L156.54 404.51L156.56 404.36L156.78 405.9L156.79 405.63L156.79 405.65L156.83 406.55L156.98 404.02L157.04 404.87L157.04 404.9L157.1 404.25L157.27 405.4L157.29 405.16L157.29 405.15L157.38 405.54L157.51 404.19L157.54 404.48L157.54 404.47L157.59 404.21L157.62 405.25L157.79 404.73L157.79 404.72L157.83 405.64L157.99 404.29L158.04 404.94L158.04 404.94L158.06 404.62L158.1 405.89L158.29 404.98L158.29 405.04L158.36 406.11L158.53 404.47L158.54 404.67L158.54 404.62L158.58 404.22L158.78 406.3L158.79 405.56L158.79 405.65L158.8 406.23L158.95 404.44L159.04 405.11L159.04 405.1L159.2 405.93L159.29 404.51L159.29 404.68L159.36 404.12L159.49 405.64L159.54 405.39L159.54 405.37L159.55 405.79L159.64 404.39L159.79 405.09L159.79 405.09L159.82 406.26L159.97 404.66L160.04 405.52L160.04 405.6L160.11 406.13L160.21 404.33L160.28 404.9L160.29 404.77L160.36 406.06L160.5 404.35L160.54 405.1L160.54 405.06L160.64 404.59L160.73 405.83L160.79 405.22L160.79 405.34L160.84 406.13L160.98 404.44L161.04 405.44L161.04 405.42L161.15 405.89L161.23 405L161.29 405.64L161.29 405.55L161.4 404.77L161.53 406.51L161.54 406.3L161.54 406.27L161.55 406.53L161.65 404.11L161.79 404.52L161.79 404.43L161.8 404.13L161.89 406.11L162.04 405.15L162.04 405.13L162.19 405.82L162.27 404.32L162.29 404.79L162.29 404.86L162.36 407.4L162.54 405.74L162.54 405.79L162.63 406.23L162.78 404.88L162.79 404.92L162.79 404.95L162.82 404L163.02 405.69L163.04 405.12L163.04 405.13L163.19 404.5L163.28 405.98L163.29 405.81L163.29 405.75L163.3 406.15L163.4 404.43L163.54 405.05L163.54 405.01L163.61 404.91L163.69 406.05L163.79 405.24L163.79 405.28L163.87 404.63L163.9 405.61L164.04 405.24L164.04 405.13L164.16 405.87L164.28 404.46L164.29 404.58L164.29 404.53L164.3 403.96L164.4 406.34L164.53 405.28L164.54 405.25L164.62 403.64L164.77 405.82L164.79 405.61L164.79 405.73L164.85 406.01L164.88 404.94L165.04 405.14L165.04 405.06L165.09 405.9L165.26 404.88L165.29 405.64L165.29 405.59L165.39 404.53L165.46 406.43L165.54 405.06L165.54 405.04L165.71 404.41L165.74 405.73L165.79 404.89L165.79 404.78L165.95 404.28L166.02 405.38L166.04 404.99L166.04 404.8L166.16 406.23L166.25 404.54L166.29 405.25L166.29 405.44L166.33 404.07L166.42 405.75L166.54 405.18L166.54 405.36L166.72 404.27L166.78 406.14L166.79 406.06L166.79 406.09L166.89 404.51L166.99 406.3L167.04 405.96L167.04 405.94L167.11 406.38L167.16 404.66L167.29 406L167.29 405.91L167.29 405.95L167.43 404.34L167.54 405.33L167.54 405.47L167.71 406.15L167.77 404.76L167.79 405.22L167.79 405.22L167.83 404.65L167.98 405.71L168.04 405.18L168.04 405.03L168.06 405.62L168.16 404.23L168.29 404.98L168.29 405L168.38 404.34L168.47 406.27L168.54 404.63L168.54 404.68L168.6 404.59L168.71 405.52L168.78 404.96L168.79 404.95L168.84 406.63L169.03 404.35L169.04 404.67L169.04 404.76L169.12 405.97L169.24 403.94L169.29 404.62L169.29 404.59L169.37 405.98L169.48 404.4L169.54 404.79L169.54 404.69L169.57 405.69L169.76 403.91L169.79 405.01L169.79 405.1L169.83 404.33L170.03 405.96L170.04 405.8L170.04 405.71L170.1 404.38L170.28 406.06L170.29 405.79L170.29 405.86L170.37 405.88L170.51 404.08L170.54 404.61L170.54 404.58L170.58 404.3L170.73 406.54L170.79 405.69L170.79 405.78L170.94 404.74L171.02 406.14L171.04 405.72L171.04 405.71L171.13 406.2L171.21 404.15L171.29 405.13L171.29 405.21L171.31 405.58L171.43 403.89L171.54 404.24L171.54 404.27L171.55 404.05L171.74 406.3L171.79 405.6L171.79 405.62L171.84 406.04L171.88 404.81L172.04 405.19L172.04 405.07L172.15 405.98L172.25 404.73L172.29 405.19L172.29 405.16L172.29 404.97L172.38 406.13L172.54 405.35L172.54 405.27L172.57 406.21L172.75 404.4L172.79 405L172.79 405.12L172.88 404.49L172.99 406.04L173.04 405.92L173.04 405.86L173.08 406.77L173.27 404.95L173.29 405.2L173.29 404.96L173.33 404.41L173.46 405.88L173.54 405.03L173.54 405.24L173.56 405.6L173.78 404.27L173.79 404.84L173.79 404.83L173.79 404.63L173.96 406.04L174.04 405.81L174.04 405.8L174.12 404.91L174.15 406.13L174.29 405.79L174.29 405.68L174.35 404.49L174.43 406.23L174.54 405.89L174.54 406.02L174.71 404.52L174.79 405.75L174.79 405.68L174.81 406.15L174.86 404.79L175.04 406.15L175.04 406.13L175.04 406.21L175.2 404.32L175.29 405.36L175.29 405.26L175.32 406.1L175.48 404.61L175.54 405.39L175.54 405.42L175.64 406.19L175.69 404.67L175.79 405.64L175.79 405.67L176.04 404.71L176.04 404.85L176.09 405.84L176.14 404.46L176.29 405.6L176.29 405.54L176.3 405.96L176.49 404.15L176.54 404.38L176.54 404.49L176.69 403.64L176.72 405.3L176.79 404.3L176.79 404.24L177 406.61L177.04 405.59L177.04 405.49L177.09 405.86L177.27 404.12L177.29 404.4L177.29 404.45L177.29 404.41L177.48 406.46L177.54 405.42L177.54 405.5L177.6 404.71L177.68 406.36L177.79 405.27L177.79 405.37L178 404.1L178.04 404.28L178.04 404.16L178.28 406.03L178.29 405.99L178.29 406.03L178.29 406.07L178.5 405.12L178.54 405.15L178.54 405.28L178.55 404.86L178.68 406.33L178.79 405.12L178.79 405.27L178.83 405.67L178.88 404.36L179.04 404.65L179.04 404.75L179.11 405.49L179.21 404.09L179.29 405.24L179.29 405.3L179.41 404.78L179.47 406.11L179.54 405.28L179.54 405.15L179.66 405.81L179.78 404.12L179.79 404.22L179.79 404.23L179.82 403.98L179.91 406.3L180.04 405.04L180.04 405.03L180.11 406.1L180.16 404.46L180.29 405.42L180.29 405.47L180.32 405.57L180.36 404.35L180.54 405.37L180.54 405.43L180.61 406.47L180.71 404.85L180.79 405.48L180.79 405.42L180.84 406.23L180.93 404.45L181.04 405.02L181.04 405.08L181.12 404.33L181.28 405.74L181.29 405.13L181.29 405.15L181.38 406.56L181.43 405.06L181.54 405.19L181.54 405.2L181.75 405.74L181.77 404.54L181.79 405.31L181.79 405.37L181.85 406.06L182.03 404.52L182.04 404.91L182.04 404.77L182.15 406.4L182.26 404.37L182.29 404.48L182.29 404.34L182.3 404.09L182.49 406.07L182.53 405.26L182.54 405.31L182.6 405.75L182.68 404.53L182.79 405.08L182.79 404.95L182.86 404.61L182.98 406.16L183.04 405.42L183.04 405.38L183.18 404.59L183.22 405.89L183.29 405.37L183.29 405.2L183.38 404.74L183.4 405.89L183.54 405.47L183.54 405.51L183.64 406.24L183.78 404.49L183.79 404.7L183.79 404.78L183.81 404.15L183.92 406.09L184.04 405.64L184.04 405.77L184.25 404.83L184.28 406.03L184.29 405.86L184.29 405.94L184.32 406.23L184.52 404.66L184.54 405.11L184.54 404.96L184.6 404.16L184.75 406.44L184.79 405.54L184.79 405.48L184.89 404.91L184.94 406.21L185.04 405.25L185.04 405.28L185.18 406.15L185.25 404.5L185.29 405.76L185.29 405.63L185.36 406L185.51 404.28L185.54 404.74L185.54 404.71L185.62 406.25L185.77 404.31L185.79 405.07L185.79 405.16L185.8 404.74L186.02 405.73L186.04 405.61L186.04 405.63L186.09 406.13L186.28 404.59L186.29 404.79L186.29 404.61L186.31 405.72L186.38 404.44L186.54 405.02L186.54 404.97L186.57 406.01L186.66 404.7L186.78 405.51L186.79 405.66L186.83 406.18L186.92 404.9L187.04 405.34L187.04 405.34L187.13 405.82L187.27 404.03L187.29 404.79L187.29 404.62L187.44 404.21L187.53 406.24L187.54 406.15L187.54 406.24L187.76 404.65L187.79 404.93L187.79 404.91L187.81 404.66L187.9 406.13L188.04 405.08L188.04 405.06L188.11 405.96L188.16 404.72L188.29 405.94L188.29 406.05L188.3 406.36L188.39 404.76L188.54 405.83L188.54 405.68L188.57 405.97L188.75 403.93L188.79 404.76L188.79 404.65L188.79 404.51L188.88 405.9L189.04 405.04L189.04 405.02L189.15 406.16L189.28 404.21L189.29 404.39L189.29 404.41L189.29 404.16L189.52 406.34L189.54 405.78L189.54 405.7L189.71 404.38L189.76 405.82L189.79 405.69L189.79 405.81L189.89 405.83L190.03 404.75L190.04 404.93L190.04 404.98L190.09 403.53L190.19 405.87L190.29 404.92L190.29 404.9L190.31 405.71L190.44 404.36L190.54 405.02L190.54 405.08L190.58 404.54L190.66 405.8L190.79 404.78L190.79 404.63L190.82 404.13L190.99 405.41L191.03 405.31L191.04 405.44L191.13 406.12L191.19 404.92L191.29 405.91L191.29 405.88L191.44 404.53L191.54 404.93L191.54 405.01L191.66 404.86L191.76 406.37L191.79 406.2L191.79 406.29L191.85 404.2L192.04 405.34L192.04 405.35L192.11 406.5L192.16 405.23L192.29 405.51L192.29 405.48L192.32 404.65L192.4 405.89L192.54 405.47L192.54 405.51L192.57 404.69L192.69 406.02L192.79 404.97L192.79 404.87L192.8 404.7L193.01 406.1L193.04 405.84L193.04 405.96L193.12 405.16L193.22 406.7L193.29 405.98L193.29 406.05L193.29 406.39L193.44 404.28L193.54 405.96L193.54 405.98L193.58 406.78L193.76 404.77L193.79 404.98L193.79 405.06L193.85 406.05L194.01 404.52L194.04 405.08L194.04 405.19L194.11 405.78L194.24 404.47L194.29 405.11L194.29 405.08L194.37 404.78L194.43 406.1L194.54 405.73L194.54 405.62L194.57 406.22L194.62 404.85L194.79 405.8L194.79 405.81L194.8 405.93L194.93 404.15L195.04 405L195.04 405.07L195.07 404.48L195.27 406.15L195.28 405.63L195.29 405.67L195.3 406.12L195.32 405.03L195.54 405.91L195.54 405.93L195.62 406.6L195.75 404.81L195.79 405.82L195.79 405.78L195.88 404.73L195.93 406.15L196.04 405.81L196.04 405.82L196.06 406.3L196.2 404.74L196.29 405.5L196.29 405.38L196.43 404.57L196.48 406.49L196.54 405.28L196.54 405.39L196.61 404.44L196.66 406.15L196.79 405.33L196.79 405.3L196.85 404.9L197 406.14L197.04 405.83L197.04 405.96L197.04 406.28L197.25 404.52L197.29 404.7L197.29 404.72L197.34 404.6L197.45 405.82L197.54 404.62L197.54 404.65L197.64 406.31L197.79 405.66L197.79 405.63L197.85 406.24L197.97 404.5L198.04 404.52L198.04 404.52L198.26 406.35L198.29 405.21L198.29 405.31L198.38 406.43L198.53 404.2L198.54 404.54L198.54 404.53L198.56 404.35L198.78 406.4L198.79 406.14L198.79 405.99L198.91 404.99L198.97 406L199.04 405.12L199.04 405.06L199.1 405.7L199.18 404.16L199.29 405.21L199.29 405.19L199.46 406.25L199.54 404.61L199.54 404.35L199.71 406.21L199.79 405.69L199.79 405.72L199.82 404.74L200 406.22L200.04 404.92L200.04 404.9L200.14 404.64L200.22 405.88L200.29 404.94L200.29 404.87L200.39 406.12L200.51 404.39L200.54 405.46L200.54 405.51L200.55 404.9L200.78 406.31L200.79 405.98L200.79 405.76L200.91 406.59L200.95 405.08L201.04 405.3L201.04 405.14L201.09 404.34L201.23 405.86L201.29 405.42L201.29 405.31L201.39 404.77L201.51 405.98L201.54 405.73L201.54 405.55L201.67 406.25L201.78 404.38L201.79 404.7L201.79 404.88L201.81 404.63L202 405.6L202.04 405.08L202.04 405.15L202.05 404.6L202.09 405.99L202.29 405.32L202.29 405.3L202.45 404.9L202.47 406.01L202.54 405.61L202.54 405.78L202.63 406.25L202.66 404.49L202.79 405.65L202.79 405.66L202.84 406.41L203.01 405.06L203.04 405.59L203.04 405.51L203.15 405.78L203.27 404.46L203.29 405.04L203.29 404.99L203.42 404.32L203.53 405.83L203.54 405.82L203.54 405.68L203.62 404.8L203.71 406.22L203.79 406.06L203.79 406.07L203.84 404.45L204.04 404.97L204.04 404.98L204.04 404.86L204.1 406.38L204.29 405.58L204.29 405.67L204.34 404.35L204.42 406.78L204.54 405.06L204.54 405.11L204.54 405.1L204.75 406.3L204.79 405.75L204.79 405.9L204.81 406.43L204.95 404.52L205.04 405.53L205.04 405.29L205.06 404.92L205.24 406.45L205.29 405.17L205.29 405.24L205.32 404.6L205.53 405.91L205.54 405.81L205.54 405.72L205.55 406.11L205.62 404.86L205.79 405.66L205.79 405.61L205.98 406.6L206.03 404.62L206.04 404.94L206.04 405.04L206.15 406.07L206.28 404.02L206.29 404.86L206.29 404.56L206.3 404.27L206.37 405.75L206.54 405.52L206.54 405.42L206.69 405.94L206.78 404.69L206.79 404.78L206.79 404.82L206.88 404.58L207.03 406.37L207.04 405.86L207.04 405.97L207.1 404.47L207.19 406.25L207.29 405.34L207.29 405.47L207.35 406.34L207.51 405.01L207.54 405.47L207.54 405.18L207.55 404.65L207.65 405.71L207.79 405.16L207.79 405.2L207.81 406.05L207.9 404.83L208.04 405.49L208.04 405.48L208.1 406.22L208.13 404.79L208.29 405.57L208.29 405.3L208.46 406.26L208.52 404.58L208.54 405.3L208.54 405.34L208.61 404.75L208.68 406.03L208.79 404.97L208.79 404.99L208.82 404.52L209 406L209.03 405.02L209.04 405.13L209.14 405.93L209.29 404.42L209.29 404.49L209.41 406.2L209.54 405.71L209.54 405.85L209.56 404.87L209.59 406.2L209.79 406.18L209.79 406.16L209.8 406.72L209.97 405.19L210.04 405.68L210.04 405.68L210.19 405.02L210.27 406.07L210.29 405.86L210.29 405.91L210.37 406.61L210.47 405.14L210.54 406.28L210.54 406.3L210.54 406.49L210.65 404.49L210.79 405.31L210.79 405.35L210.89 404.3L211.04 405.94L211.04 405.85L211.04 406.1L211.15 404.06L211.29 404.66L211.29 404.78L211.29 404.67L211.46 406.32L211.54 405.67L211.54 405.73L211.59 406.11L211.78 404.52L211.79 404.94L211.79 404.9L211.82 404.25L211.92 406.14L212.04 405.26L212.04 405.06L212.04 404.57L212.22 406.34L212.29 405.67L212.29 405.61L212.32 406.11L212.47 404.93L212.54 405.19L212.54 405.24L212.56 404.76L212.78 406.29L212.79 406.17L212.79 406.12L212.79 406.45L213.02 404.92L213.04 405.05L213.04 405.11L213.15 406.2L213.28 404.95L213.29 404.98L213.31 404.13L213.45 406.2L213.54 405.27L213.54 405.33L213.57 405.02L213.63 406.56L213.79 405.49L213.79 405.49L213.84 404.6L214 406.65L214.04 405.99L214.04 406.03L214.22 406.75L214.29 405.34L214.29 405.23L214.44 404.52L214.47 406.55L214.54 404.75L214.54 404.82L214.66 404.65L214.72 405.63L214.79 405.12L214.79 405.04L214.81 404.53L215.02 406.45L215.04 406.1L215.04 406.06L215.09 405.11L215.12 406.38L215.29 406.22L215.29 406.22L215.35 406.62L215.47 405.08L215.54 405.73L215.54 405.65L215.63 405.14L215.77 406.8L215.79 406.2L215.79 406.23L215.81 406.41L215.91 405.04L216.04 405.53L216.04 405.39L216.13 406.08L216.15 404.89L216.29 405.07L216.29 405.03L216.29 404.92L216.41 406.23L216.54 405.53L216.54 405.44L216.56 404.71L216.72 405.7L216.79 405L216.79 404.87L216.88 404.39L216.95 406L217.04 405.52L217.04 405.65L217.2 406.51L217.28 404.68L217.29 404.82L217.29 404.79L217.39 406.14L217.53 404.22L217.53 404.46L217.54 404.42L217.72 406.18L217.79 405.61L217.79 405.53L217.85 405.97L218.02 404.33L218.04 404.42L218.04 404.45L218.04 404.37L218.22 406.4L218.29 405.53L218.29 405.56L218.3 406.06L218.41 404.66L218.54 405.64L218.54 405.7L218.56 404.98L218.66 406.33L218.79 405.84L218.79 405.73L218.83 406.29L219.03 404.69L219.04 404.85L219.04 404.86L219.07 404.51L219.18 406.48L219.29 405.36L219.29 405.27L219.42 406.18L219.53 404.74L219.54 405.02L219.54 405.05L219.66 404.87L219.76 406.28L219.79 405.77L219.79 405.8L219.84 405.26L219.97 406.37L220.04 406.21L220.04 406.1L220.16 404.9L220.19 406.27L220.29 405.47L220.29 405.27L220.3 404.82L220.38 406.18L220.54 404.99L220.54 404.87L220.63 404.68L220.73 406.23L220.79 405.6L220.79 405.45L220.9 404.4L221.03 405.69L221.04 405.56L221.04 405.55L221.2 405.93L221.23 404.51L221.29 405.78L221.29 405.67L221.38 404.69L221.45 405.83L221.54 405.41L221.54 405.46L221.64 404.72L221.74 406.14L221.79 405.44L221.79 405.59L221.79 405.87L221.93 404.26L222.04 405.51L222.04 405.36L222.18 406.04L222.29 404.51L222.29 404.6L222.29 404.43L222.47 406.57L222.54 405.35L222.54 405.17L222.69 406.14L222.75 404.86L222.79 405.42L222.79 405.47L222.83 404.55L223.03 406.28L223.04 406.27L223.04 406.22L223.12 404.58L223.28 406.45L223.29 406.43L223.29 406.19L223.3 406.92L223.37 405.51L223.54 405.86L223.54 406.04L223.65 405.18L223.68 406.54L223.79 405.67L223.79 405.7L223.86 405.2L223.97 406.54L224.04 406.24L224.04 406.02L224.05 406.05L224.13 404.31L224.29 405.5L224.29 405.62L224.41 406.27L224.53 404.98L224.54 405.42L224.54 405.47L224.56 404.58L224.66 406.47L224.79 405.32L224.79 405.38L224.83 406.21L224.89 404.4L225.04 404.96L225.04 405.05L225.17 405.99L225.23 404.55L225.29 405.61L225.29 405.7L225.33 406.49L225.43 404.99L225.54 405.93L225.54 405.94L225.54 406.06L225.75 404.54L225.79 405.04L225.79 405.17L225.79 405.58L225.93 404.29L226.04 405.22L226.04 405.24L226.05 404.71L226.26 406.15L226.29 406.01L226.29 405.9L226.3 406.07L226.53 404.4L226.54 405.14L226.54 405.16L226.58 404.53L226.76 406.39L226.79 405.9L226.79 405.95L226.92 404.79L227.04 405.36L227.04 405.34L227.16 404.54L227.29 405.97L227.29 405.79L227.31 406.85L227.5 405.21L227.54 405.48L227.54 405.43L227.66 404.39L227.78 406.56L227.79 405.61L227.79 405.81L227.87 405.02L228.03 406.28L228.04 406.25L228.04 406.11L228.05 406.28L228.14 405.12L228.29 405.74L228.29 405.68L228.38 404.83L228.49 406.65L228.54 405.84L228.54 405.86L228.54 405.93L228.63 404.59L228.79 405.72L228.79 405.75L228.82 405.11L228.94 406.49L229.04 405.44L229.04 405.32L229.08 406.19L229.26 405.11L229.29 405.44L229.29 405.52L229.32 405.87L229.38 404.6L229.54 405.34L229.54 405.19L229.54 404.72L229.75 406.67L229.79 405.45L229.79 405.61L229.8 406.32L229.96 405.03L230.04 405.26L230.04 405.09L230.07 405.98L230.17 404.9L230.29 405.27L230.29 405.41L230.38 406.3L230.52 404.57L230.54 404.77L230.54 404.74L230.57 404.49L230.75 405.95L230.79 405.45L230.79 405.48L230.82 405.2L230.93 406.83L231.04 405.53L231.04 405.33L231.08 406.22L231.18 404.28L231.28 404.93L231.29 404.86L231.32 404.45L231.42 406.33L231.54 406.11L231.54 406.1L231.62 405.4L231.73 406.98L231.79 405.79L231.79 405.75L231.83 406.5L231.93 405.64L232.04 405.81L232.04 405.73L232.13 407.1L232.19 404.66L232.29 406.49L232.29 406.42L232.29 406.52L232.43 404.83L232.54 405.85L232.54 405.87L232.7 406.36L232.78 405L232.79 405.03L232.79 405.04L232.92 404.82L233 406.63L233.04 405.92L233.04 405.89L233.11 404.87L233.18 406.31L233.29 405.26L233.29 405.23L233.42 404.39L233.54 405.44L233.54 405.38L233.54 405.16L233.71 406.69L233.79 405.54L233.79 405.51L233.89 406.34L233.95 405.02L234.04 405.31L234.04 405.23L234.11 404.68L234.26 407.25L234.29 405.72L234.29 405.75L234.3 406.25L234.37 404.66L234.54 405.81L234.54 405.82L234.58 406.48L234.68 405.17L234.79 405.88L234.79 405.94L234.92 406.39L235 404.91L235.04 405.43L235.04 405.48L235.12 406.28L235.16 404.68L235.29 405.4L235.29 405.46L235.37 404.56L235.47 406.19L235.53 406.01L235.54 405.86L235.55 404.74L235.74 406.35L235.79 405.42L235.79 405.36L235.89 404.75L235.97 406.46L236.04 405.52L236.04 405.39L236.08 404.47L236.2 405.95L236.29 405.54L236.29 405.52L236.45 404.55L236.52 406L236.54 405.62L236.54 405.66L236.63 404.78L236.74 406.35L236.79 405.74L236.79 405.73L236.95 406.67L237.04 404.67L237.04 404.58L237.07 403.98L237.17 406.33L237.29 405.52L237.29 405.52L237.37 404.8L237.43 406.57L237.54 406.2L237.54 406.32L237.77 404.99L237.79 405.18L237.79 405.1L237.93 406.28L237.96 404.82L238.04 405.29L238.04 405.21L238.05 405.85L238.21 404.8L238.29 405.67L238.29 405.64L238.42 404.34L238.49 406.11L238.54 405.02L238.54 405.11L238.59 404.64L238.73 406.4L238.79 405.92L238.79 405.9L238.81 406.42L238.83 405.24L239.04 405.77L239.04 405.68L239.13 406.55L239.24 404.93L239.29 405.92L239.29 405.86L239.42 406.69L239.53 405.04L239.54 405.33L239.54 405.24L239.56 404.72L239.68 406.38L239.78 405.52L239.79 405.35L239.94 404.55L239.98 405.99L240.04 405.61L240.04 405.64L240.15 404.93L240.23 406.22L240.29 405.19L240.29 405.02L240.31 404.69L240.35 406.19L240.54 405.6L240.54 405.55L240.6 406.77L240.73 404.77L240.79 405.31L240.79 405.27L240.92 404.82L241.01 406.07L241.04 405.39L241.04 405.48L241.14 406.4L241.23 404.74L241.29 405.74L241.29 405.63L241.32 406.12L241.51 404.72L241.54 405.28L241.54 405.29L241.58 404.9L241.61 406.26L241.79 405.6L241.79 405.66L241.81 406.43L242.02 404.19L242.04 405.24L242.04 405.03L242.17 406.97L242.28 404.72L242.29 404.81L242.29 404.83L242.31 404.75L242.41 406.79L242.54 406.22L242.54 406.22L242.56 406.47L242.67 404.78L242.79 405.45L242.79 405.51L242.94 404.71L243.02 406.47L243.04 406.15L243.04 406.28L243.17 406.76L243.25 405.16L243.29 405.68L243.29 405.57L243.33 405L243.43 406.73L243.54 405.68L243.54 405.87L243.74 405.1L243.78 406.37L243.79 406.28L243.79 406.18L243.85 406.29L243.89 405L244.03 405.61L244.04 405.64L244.07 404.68L244.2 406.32L244.29 405.31L244.29 405.42L244.44 405.04L244.52 406.01L244.54 405.8L244.54 405.92L244.67 406.54L244.74 405.11L244.79 405.82L244.79 405.7L244.82 404.75L244.95 406.69L245.04 406.27L245.04 406.19L245.04 406.57L245.14 405.19L245.29 405.78L245.29 405.81L245.4 405.11L245.45 406.04L245.54 405.52L245.54 405.57L245.59 405.29L245.66 406.35L245.79 405.41L245.79 405.28L245.95 406L246.03 404.67L246.04 404.9L246.04 404.9L246.15 406.39L246.24 404.69L246.29 405.81L246.29 405.83L246.37 406.81L246.52 405.04L246.54 406.16L246.54 406.31L246.64 406.69L246.71 405.11L246.79 405.71L246.79 405.77L246.81 404.89L246.98 406.31L247.04 405.4L247.04 405.44L247.04 404.69L247.21 406L247.29 405.61L247.29 405.45L247.38 404.67L247.53 406.45L247.54 406.27L247.54 406.23L247.6 406.45L247.76 405.11L247.79 405.57L247.79 405.58L247.86 404.91L248 406.64L248.04 406.02L248.04 406.21L248.04 406.34L248.12 405.21L248.29 406.21L248.29 406.12L248.37 404.6L248.53 406.35L248.54 406.25L248.54 406.28L248.65 406.84L248.72 404.73L248.79 405.43L248.79 405.41L248.81 404.88L248.99 406.09L249.04 405.71L249.04 405.51L249.13 404.96L249.28 406.28L249.29 406.07L249.29 405.85L249.42 405L249.44 406.05L249.54 405.75L249.54 405.77L249.55 406.4L249.74 405.09L249.79 406.01L249.79 406.14L249.79 406.35L249.9 405.29L250.04 405.77L250.04 405.66L250.08 404.4L250.17 405.94L250.29 405.47L250.29 405.63L250.41 405.2L250.48 406.57L250.54 405.54L250.54 405.49L250.65 406.46L250.72 405.1L250.79 405.64L250.79 405.68L250.97 406.54L251.02 405.29L251.04 405.81L251.04 405.89L251.18 406.82L251.23 404.74L251.29 405.2L251.29 405.4L251.4 406.34L251.45 404.68L251.54 405.66L251.54 405.5L251.55 404.82L251.65 406.7L251.79 405.45L251.79 405.16L251.79 404.93L251.98 406.55L252.04 406.21L252.04 406.17L252.08 406.69L252.23 404.85L252.29 405.89L252.29 405.8L252.37 405.08L252.52 406.55L252.54 406.45L252.54 406.51L252.6 406.66L252.67 405L252.79 405.4L252.79 405.33L252.89 405.96L253.01 404.78L253.04 405.68L253.04 405.7L253.21 406.19L253.24 405L253.29 405.72L253.29 405.76L253.4 406.79L253.46 404.97L253.54 405.64L253.54 405.72L253.6 405.06L253.73 406.73L253.79 405.47L253.79 405.43L253.86 404.94L253.95 406.19L254.04 405.38L254.04 405.43L254.1 407.09L254.2 405.04L254.29 406.22L254.29 406.05L254.31 406.68L254.53 405.23L254.54 405.5L254.54 405.51L254.55 405.02L254.79 406.12L254.79 406.04L254.82 406.25L254.99 405L255.04 405.53L255.04 405.47L255.06 405.13L255.22 406.99L255.29 406.11L255.29 406.18L255.47 406.46L255.53 405.06L255.54 405.23L255.54 405.37L255.56 404.72L255.69 406.48L255.79 405.8L255.79 405.8L255.8 405.25L255.97 406.77L256.04 405.9L256.04 405.83L256.06 405.35L256.17 406.69L256.29 406.02L256.29 406.07L256.38 406.37L256.42 405.26L256.54 405.81L256.54 405.8L256.57 406.75L256.7 405.02L256.79 405.63L256.79 405.64L256.8 405.03L256.85 407.15L257.04 405.67L257.04 405.73L257.13 406.47L257.2 405.12L257.29 406.06L257.29 406.01L257.45 405.03L257.48 406.51L257.54 405.91L257.54 405.97L257.56 406.64L257.74 404.74L257.78 405.48L257.79 405.5L257.91 404.92L258.02 406.25L258.04 405.58L258.04 405.6L258.07 406.48L258.22 405.21L258.29 405.44L258.29 405.39L258.37 405.16L258.47 406.34L258.54 405.7L258.54 405.68L258.68 406.84L258.78 404.69L258.79 405.02L258.79 404.96L258.84 404.54L259 406.51L259.04 406.26L259.04 406.4L259.04 406.65L259.06 404.82L259.29 405.74L259.29 405.88L259.36 407.18L259.48 404.99L259.54 405.41L259.54 405.29L259.66 406.38L259.77 404.02L259.79 404.95L259.79 404.94L259.82 404.63L259.94 406.36L260.04 405.01L260.04 404.86L260.04 404.75L260.15 406.76L260.29 405.14L260.29 405.09L260.3 404.96L260.51 406.52L260.54 405.92L260.54 405.99L260.62 404.71L260.76 406.29L260.79 405.41L260.79 405.43L260.82 404.68L261.03 406.57L261.04 406.3L261.04 406.34L261.09 407.03L261.14 405.68L261.29 406.15L261.29 406.16L261.3 406.49L261.45 404.73L261.54 405.58L261.54 405.43L261.7 406.63L261.76 404.91L261.79 406.2L261.79 406.16L261.9 406.74L261.96 405.11L262.03 405.47L262.04 405.57L262.08 404.93L262.21 406.14L262.29 405.52L262.29 405.35L262.34 404.5L262.49 406.21L262.54 405.28L262.54 405.34L262.66 404.91L262.75 406.43L262.79 405.19L262.79 405.05L262.79 404.99L262.87 406.67L263.04 405.84L263.04 405.82L263.05 406.37L263.24 404.49L263.29 405.36L263.29 405.45L263.38 406.33L263.47 404.87L263.54 405.72L263.54 405.78L263.56 405.3L263.74 406.65L263.79 406.29L263.79 406.4L263.86 405.11L264.04 406.17L264.04 406.24L264.04 406.58L264.27 404.87L264.29 405.57L264.29 405.58L264.29 405.35L264.33 406.57L264.54 405.62L264.54 405.66L264.67 406.41L264.78 404.76L264.79 404.83L264.79 405.02L264.81 406.3L264.96 404.91L265.04 405.62L265.04 405.65L265.06 404.93L265.14 406.43L265.29 405.79L265.29 405.72L265.31 404.85L265.53 407.01L265.54 406.02L265.54 406.13L265.55 406.34L265.61 404.79L265.79 405.51L265.79 405.43L265.81 404.77L265.86 406.79L266.04 406.37L266.04 406.26L266.05 406.69L266.19 405.44L266.28 405.97L266.29 406.04L266.32 405.11L266.36 406.45L266.54 405.36L266.54 405.39L266.68 403.91L266.75 406.23L266.79 405.74L266.79 405.74L266.87 406.56L267.03 405.15L267.04 405.51L267.04 405.69L267.07 406.43L267.26 404.81L267.29 405.21L267.29 405.35L267.38 406.58L267.53 404.92L267.54 405.15L267.54 405.21L267.62 404.83L267.71 406.05L267.79 405.83L267.79 405.72L267.85 405.3L268.03 406.85L268.04 406.77L268.04 406.73L268.2 404.73L268.29 405.95L268.29 405.95L268.42 406.67L268.53 404.84L268.54 405.09L268.54 405.32L268.66 405.92L268.72 404.83L268.79 405.61L268.79 405.65L268.85 406.59L268.96 404.81L269.04 405.92L269.04 405.86L269.07 406.43L269.25 405.11L269.29 406.12L269.29 406L269.31 406.16L269.44 404.8L269.54 406.09L269.54 406.12L269.71 406.93L269.76 405.45L269.79 406.05L269.79 406.04L269.85 405.28L270 406.57L270.04 405.5L270.04 405.33L270.09 406.4L270.19 404.38L270.29 405.42L270.29 405.57L270.32 406.38L270.51 404.96L270.53 405.44L270.54 405.3L270.55 404.62L270.65 406.57L270.79 405.52L270.79 405.44L270.82 404.27L270.99 406.52L271.04 406.23L271.04 406.25L271.07 406.99L271.22 405.03L271.29 405.7L271.29 405.76L271.36 405.23L271.47 406.96L271.54 405.45L271.54 405.41L271.63 404.97L271.78 406.83L271.79 406.28L271.79 406.22L271.81 405.33L271.91 406.87L272.04 405.89L272.04 405.85L272.09 405.15L272.27 406.19L272.29 405.87L272.29 405.9L272.38 406.26L272.44 404.88L272.54 405.78L272.54 405.76L272.62 405.29L272.72 407.15L272.79 405.88L272.79 405.86L272.85 406.36L272.89 405.13L273.04 405.87L273.04 405.75L273.21 405.99L273.26 404.82L273.29 405.52L273.29 405.55L273.32 406.75L273.4 405.3L273.54 405.96L273.54 406.09L273.58 406.56L273.72 405.06L273.79 405.72L273.79 405.68L273.84 405.9L273.9 404.37L274.04 405.77L274.04 405.69L274.06 404.86L274.2 406.35L274.29 405.97L274.29 405.89L274.41 405.42L274.54 406.92L274.54 407.03L274.75 404.88L274.79 405.62L274.79 405.73L274.79 405.53L274.94 407.43L275.04 406.19L275.04 406.3L275.17 405.16L275.26 406.97L275.29 406.71L275.29 406.57L275.29 406.57L275.32 404.84L275.54 405.87L275.54 405.82L275.62 407.1L275.66 405.45L275.79 406.1L275.79 406.03L275.83 406.5L275.86 405.1L276.04 405.25L276.04 405.25L276.04 405.08L276.26 406.63L276.29 406.43L276.29 406.52L276.37 406.76L276.48 405.25L276.54 405.59L276.54 405.55L276.64 406.31L276.69 405.18L276.79 405.3L276.79 405.38L276.81 404.98L276.94 406.34L277.04 406.28L277.04 406.29L277.09 407.4L277.21 405.42L277.29 406.37L277.29 406.45L277.29 407.01L277.5 404.85L277.54 405.32L277.54 405.34L277.65 406.69L277.77 405.12L277.79 405.95L277.79 406.07L277.84 405.37L277.92 406.56L278.04 405.55L278.04 405.57L278.05 404.95L278.28 406.71L278.29 406.46L278.29 406.3L278.32 406.76L278.38 405.23L278.54 405.97L278.54 405.95L278.61 405.34L278.76 406.83L278.79 406.17L278.79 406.29L278.86 407L279 404.74L279.04 405.81L279.04 405.84L279.05 405.19L279.08 406.53L279.29 405.39L279.29 405.32L279.5 406.67L279.54 406.49L279.54 406.54L279.54 406.65L279.66 405.04L279.79 406.02L279.79 406.03L279.82 405.31L279.96 406.83L280.04 405.58L280.04 405.56L280.07 406.42L280.26 405.03L280.29 405.57L280.29 405.65L280.38 407.02L280.45 405.48L280.54 406.06L280.54 405.98L280.58 404.76L280.65 406.33L280.79 405.53L280.79 405.4L280.81 404.97L280.85 406.33L281.04 405.87L281.04 405.89L281.06 405.2L281.13 406.77L281.29 406.13L281.29 406.02L281.46 406.9L281.53 405.45L281.54 405.6L281.54 405.55L281.66 406.63L281.73 404.83L281.79 405.57L281.79 405.71L281.83 405.3L281.87 406.61L282.04 405.68L282.04 405.59L282.16 405.21L282.2 406.78L282.29 405.86L282.29 405.94L282.42 406.62L282.45 405.28L282.54 406.43L282.54 406.51L282.65 405.27L282.71 406.78L282.79 405.81L282.79 405.55L282.81 404.95L282.94 406.96L283.04 406.35L283.04 406.32L283.13 406.56L283.23 404.57L283.29 405.32L283.29 405.31L283.3 404.82L283.53 406.46L283.54 406.4L283.54 406.42L283.66 405.11L283.69 406.97L283.79 406.1L283.79 406.17L283.91 404.97L284.02 406.49L284.04 405.91L284.04 405.99L284.04 406.14L284.09 404.56L284.28 405.94L284.29 405.68L284.34 405.46L284.43 406.79L284.54 406.09L284.54 406.06L284.63 404.78L284.71 406.27L284.79 405.57L284.79 405.58L284.92 406.9L284.98 405.08L285.04 405.62L285.04 405.42L285.19 405.3L285.22 406.49L285.29 405.68L285.29 405.54L285.3 405.35L285.46 406.52L285.54 405.8L285.54 405.77L285.56 407.08L285.78 405.03L285.79 405.06L285.79 405.09L285.8 404.83L286 406.22L286.04 405.8L286.04 405.6L286.19 406.46L286.21 405.31L286.29 405.87L286.29 405.74L286.46 406.63L286.53 404.94L286.54 405.06L286.54 405.15L286.55 404.99L286.76 406.73L286.79 406.35L286.79 406.35L286.86 405.11L286.92 406.42L287.04 405.72L287.04 405.79L287.19 404.71L287.26 406.99L287.29 405.9L287.29 406.06L287.31 406.97L287.37 404.8L287.54 405.49L287.54 405.44L287.63 404.96L287.71 406.33L287.79 405.47L287.79 405.58L287.84 405.1L287.98 406.85L288.04 405.86L288.04 405.79L288.06 405.17L288.18 406.56L288.29 405.88L288.29 405.78L288.37 406.34L288.49 404.88L288.53 405.4L288.54 405.44L288.54 405.33L288.6 407.1L288.79 406.12L288.79 406.11L288.95 406.75L288.99 405.25L289.04 406.14L289.04 405.85L289.07 406.78L289.23 405.68L289.29 406.03L289.29 405.97L289.35 406.81L289.49 405.2L289.54 406.22L289.54 406.08L289.71 405.31L289.76 406.58L289.79 405.69L289.79 405.67L289.96 404.51L290.02 406.08L290.04 405.79L290.04 405.8L290.07 406.76L290.27 405.26L290.29 405.74L290.29 405.86L290.48 406.82L290.53 405.57L290.54 405.67L290.54 405.72L290.54 405.26L290.7 407.02L290.79 406.46L290.79 406.49L290.82 406.51L290.91 405.37L291.04 405.98L291.04 405.92L291.14 405.21L291.29 406.74L291.29 406.65L291.29 406.77L291.34 405.54L291.54 406.02L291.54 405.94L291.56 405.42L291.7 406.72L291.79 406.31L291.79 406.32L291.83 405.02L292.03 406.89L292.04 406.69L292.04 406.65L292.09 405.45L292.17 407.25L292.29 405.8L292.29 405.64L292.29 405.07L292.32 406.26L292.54 405.77L292.54 405.7L292.6 405.34L292.76 406.8L292.78 405.89L292.79 405.97L292.89 406.79L292.99 405.29L293.04 406.44L293.04 406.29L293.14 405.49L293.27 406.68L293.29 406.08L293.29 406.02L293.32 404.84L293.52 406.31L293.54 406.01L293.54 405.99L293.58 406.38L293.71 404.88L293.79 405.4L293.79 405.36L293.85 405.02L293.87 406.1L294.04 405.24L294.04 405.44L294.12 407.04L294.24 404.99L294.29 405.73L294.29 405.8L294.32 405.29L294.38 406.63L294.54 406.04L294.54 406.19L294.57 406.77L294.71 404.8L294.79 405.75L294.79 405.68L294.8 405.31L295.01 406.97L295.04 406.18L295.04 406.13L295.09 404.98L295.25 406.76L295.29 405.49L295.29 405.7L295.42 406.38L295.53 404.97L295.54 405.53L295.54 405.5L295.62 406.98L295.77 405.1L295.79 405.21L295.79 405.19L295.81 404.99L296.02 406.76L296.04 406.48L296.04 406.3L296.05 406.91L296.11 405.29L296.29 406.62L296.29 406.47L296.32 405.29L296.54 405.8L296.54 405.77L296.63 404.71L296.71 406.62L296.79 406.05L296.79 406.07L297 405.01L297.03 406.32L297.04 406.29L297.04 406.3L297.18 405.19L297.26 406.99L297.29 405.79L297.29 405.81L297.29 405.48L297.48 406.51L297.54 406.45L297.54 406.42L297.6 405.18L297.63 406.75L297.79 406L297.79 406.05L297.84 405.88L297.87 406.97L298.04 406.3L298.04 406.36L298.05 406.67L298.28 405.18L298.29 405.39L298.29 405.31L298.3 405.11L298.4 406.82L298.54 405.61L298.54 405.63L298.61 405.02L298.77 406.56L298.79 405.98L298.79 406.08L298.84 405.4L299.02 406.52L299.04 406.38L299.04 406.26L299.11 405.59L299.21 407.47L299.29 406.5L299.29 406.54L299.31 406.75L299.46 405.1L299.54 406.64L299.54 406.59L299.57 406.71L299.62 405.11L299.79 406.09L299.79 406.15L299.89 406.83L299.99 405.46L300.04 406.12L300.04 406.05L300.04 406.41L300.14 405.14L300.29 405.68L300.29 405.61L300.42 406.43L300.54 404.8L300.54 404.77L300.76 407.27L300.79 406.54L300.79 406.62L300.79 406.78L300.91 405.27L301.04 406.35L301.04 406.34L301.15 404.41L301.26 407.02L301.29 406.19L301.29 406.19L301.39 407.08L301.49 405.56L301.54 406.1L301.54 406.14L301.57 406.67L301.71 404.71L301.79 405.43L301.79 405.47L301.87 406.72L301.96 404.44L302.04 406.5L302.04 406.52L302.06 406.69L302.18 405.23L302.29 405.37L302.29 405.37L302.29 405.24L302.44 407.39L302.54 405.63L302.54 405.78L302.59 405.51L302.73 406.67L302.79 405.61L302.79 405.47L302.93 407.28L303.04 406.26L303.04 406.4L303.08 405.26L303.28 406.65L303.29 406.42L303.29 406.38L303.33 406.65L303.41 404.89L303.54 406.02L303.54 406.08L303.61 405.73L303.68 407.11L303.79 406.5L303.79 406.5L303.88 406.77L303.94 405.42L304.04 406.06L304.04 406.14L304.16 407.19L304.26 405.22L304.29 405.77L304.29 405.81L304.29 405.49L304.39 407.04L304.54 406.42L304.54 406.38L304.57 406.85L304.63 405.3L304.79 406.32L304.79 406.29L304.86 407.22L304.96 405.22L305.04 405.88L305.04 405.88L305.09 405.14L305.28 406.61L305.29 406.54L305.29 406.46L305.31 405.76L305.51 407.27L305.54 406.75L305.54 406.73L305.63 404.87L305.79 406.05L305.79 406.11L305.84 405.84L305.96 407.09L306.04 406.43L306.04 406.37L306.16 404.93L306.2 406.5L306.29 405.74L306.29 405.73L306.38 404.64L306.51 406.73L306.53 406.06L306.54 406.16L306.7 406.78L306.76 405.19L306.79 405.81L306.79 405.81L306.82 406.33L306.94 404.68L307.04 405.96L307.04 405.94L307.2 406.99L307.29 405.55L307.29 405.65L307.45 404.82L307.49 406.52L307.54 405.83L307.54 405.76L307.61 406.89L307.74 405.21L307.79 405.82L307.79 405.81L307.8 405.4L308.03 406.99L308.04 406.82L308.04 406.86L308.12 407.18L308.26 405.42L308.29 405.57L308.29 405.66L308.36 405.37L308.48 407.09L308.54 406.32L308.54 406.4L308.54 406.59L308.62 405.14L308.79 405.57L308.79 405.55L308.81 405.14L308.87 406.72L309.04 405.99L309.04 405.96L309.18 406.58L309.29 405.16L309.29 405.1L309.31 405.01L309.45 406.86L309.54 405.37L309.54 405.34L309.57 404.72L309.7 406.91L309.79 406.54L309.79 406.57L309.82 406.67L310.02 405.2L310.04 406L310.04 405.93L310.15 404.84L310.23 406.74L310.29 406.24L310.29 406.01L310.39 406.59L310.46 405.02L310.54 405.96L310.54 406L310.61 407.34L310.65 405.71L310.78 405.85L310.79 406.02L310.88 406.44L310.89 405.16L311.04 405.3L311.04 405.12L311.05 404.74L311.22 407.29L311.29 405.95L311.29 406.04L311.32 405.12L311.53 406.87L311.54 406.82L311.54 406.76L311.54 407.01L311.76 405.31L311.79 405.79L311.79 405.62L311.93 405.43L311.98 406.72L312.04 406.29L312.04 406.29L312.1 406.65L312.17 405.49L312.29 406.12L312.29 406.15L312.29 406.43L312.41 405.09L312.54 405.6L312.54 405.62L312.54 405.6L312.59 407.56L312.79 406.13L312.79 405.95L312.93 405.11L313.02 406.33L313.04 405.89L313.04 405.93L313.18 405.33L313.27 407.05L313.29 406.41L313.29 406.36L313.32 407.22L313.51 405.95L313.54 406.93L313.54 407.04L313.65 407.47L313.77 405.64L313.79 406.07L313.79 406.03L313.81 405.02L313.9 406.32L314.04 405.62L314.04 405.7L314.09 407.19L314.29 405.9L314.29 405.86L314.38 405.57L314.43 407.06L314.54 406.48L314.54 406.4L314.54 406.52L314.64 405.16L314.79 406.11L314.79 406.08L314.91 405.13L314.97 406.7L315.03 406.5L315.04 406.62L315.04 406.9L315.17 405.05L315.29 406.03L315.29 406.09L315.31 406.73L315.42 404.96L315.54 405.5L315.54 405.57L315.78 407.29L315.79 407.19L315.79 407.18L315.79 407.2L315.84 405.83L316.04 405.99L316.04 405.67L316.07 405.26L316.14 406.64L316.29 405.93L316.29 406.07L316.36 406.44L316.46 405.17L316.54 405.32L316.54 405.5L316.54 405.24L316.59 406.74L316.79 406.13L316.79 406.19L316.84 405.28L316.96 406.7L317.04 405.69L317.04 405.64L317.09 404.78L317.16 406.83L317.29 406.04L317.29 406.02L317.3 406.87L317.51 405.37L317.54 405.94L317.54 406.09L317.59 407L317.78 405.33L317.79 405.34L317.79 405.57L317.81 405.12L318.02 406.66L318.04 406.26L318.04 406.36L318.12 405.3L318.23 406.85L318.29 405.73L318.29 405.57L318.43 406.71L318.52 405.14L318.54 405.51L318.54 405.41L318.64 406.99L318.73 404.58L318.79 406.44L318.79 406.53L318.81 406.69L318.94 405.28L319.04 406.39L319.04 406.29L319.17 405.43L319.28 406.56L319.29 406.48L319.39 405.23L319.53 407.23L319.54 406.51L319.54 406.49L319.64 407.18L319.7 405.04L319.79 405.97L319.79 406.08L319.84 406.6L319.91 405.49L320.04 406.12L320.04 406.15L320.2 406.51L320.26 405.23L320.29 405.86L320.29 405.88L320.34 406.95L320.5 405.77L320.54 406.5L320.54 406.57L320.68 405.61L320.72 407.16L320.79 406.93L320.79 406.75L320.81 407.23L320.99 405.64L321.04 406.36L321.04 406.38L321.06 407.13L321.18 405.65L321.29 405.9L321.29 405.93L321.38 406.39L321.44 405.29L321.54 406.2L321.54 406.16L321.72 407.08L321.76 405.64L321.79 405.78L321.79 405.66L321.82 406.28L321.99 405.09L322.04 406.13L322.04 406.16L322.05 405.48L322.26 406.67L322.29 405.89L322.29 405.98L322.46 406.64L322.53 405.2L322.54 405.24L322.54 405.23L322.54 405.13L322.65 407.3L322.79 406.36L322.79 406.39L322.85 404.9L323.03 406.84L323.04 406.75L323.04 406.7L323.21 405.89L323.28 406.98L323.29 406.54L323.29 406.49L323.38 405.42L323.52 406.87L323.54 406.77L323.54 406.8L323.59 405.44L323.79 406.14L323.79 406.27L323.82 407.33L324.04 405.73L324.04 405.64L324.13 405.3L324.19 406.83L324.29 406.12L324.29 406.09L324.34 405.42L324.51 406.85L324.54 406.35L324.54 406.39L324.6 406.63L324.73 405.24L324.79 406.45L324.79 406.45L324.87 405.08L325.04 407L325.04 406.96L325.04 407.08L325.29 405.4L325.29 405.52L325.32 405.07L325.37 406.62L325.54 406.38L325.54 406.51L325.61 405.52L325.75 406.68L325.79 405.69L325.79 405.65L325.85 405.24L325.99 406.44L326.04 406.01L326.04 405.82L326.12 406.86L326.22 405.4L326.29 406.66L326.29 406.5L326.4 405.68L326.49 407.16L326.54 406.51L326.54 406.54L326.54 406.55L326.62 405.04L326.79 405.73L326.79 405.79L327.01 407.11L327.04 406.27L327.04 406.16L327.15 406.7L327.21 405.11L327.29 405.79L327.29 405.71L327.41 407.17L327.53 405.18L327.54 405.65L327.54 405.75L327.63 405.39L327.73 407.17L327.79 406.35L327.79 406.18L327.81 406.87L328.03 405.15L328.04 405.24L328.04 405.32L328.04 404.94L328.28 406.82L328.29 406.53L328.29 406.69L328.33 407.01L328.39 405.14L328.54 405.85L328.54 405.95L328.65 405.11L328.77 406.67L328.79 406.16L328.79 406.03L328.86 407.31L328.95 405.7L329.04 406.24L329.04 406.33L329.11 406.57L329.29 405.06L329.29 405.19L329.37 406.94L329.54 406.56L329.54 406.6L329.58 405.77L329.69 407.11L329.79 406.2L329.79 406.13L329.91 405.24L329.98 407.04L330.04 406.1L330.04 406.24L330.12 406.94L330.26 405.36L330.29 406.01L330.29 405.99L330.35 405.53L330.48 407.06L330.54 406.32L330.54 406.29L330.63 406.88L330.72 405.48L330.79 406.03L330.79 406.13L330.79 405.73L330.98 406.99L331.04 406.6L331.04 406.54L331.06 406.99L331.26 405.15L331.29 405.7L331.29 405.53L331.29 405.39L331.47 406.86L331.54 406.16L331.54 406.1L331.59 405.18L331.67 406.9L331.79 406.44L331.79 406.36L331.91 406.88L331.96 405.39L332.04 406.45L332.04 406.35L332.05 406.38L332.09 404.8L332.29 405.83L332.29 405.71L332.37 405.65L332.53 407.41L332.54 407.02L332.54 406.98L332.54 407.01L332.68 405.12L332.79 406.19L332.79 406.21L332.87 407.11L332.91 405.15L333.03 406.28L333.04 406.27L333.11 406.67L333.17 405.46L333.29 406.12L333.29 406.15L333.4 406.94L333.53 405.57L333.54 405.88L333.54 405.98L333.6 405.37L333.74 406.8L333.79 406.53L333.79 406.56L333.85 406.07L334 407.7L334.04 406.83L334.04 406.84L334.04 407L334.15 405.33L334.29 406.1L334.29 406.17L334.37 407.19L334.53 405.63L334.54 405.7L334.54 405.68L334.69 406.91L334.73 405.33L334.79 406.37L334.79 406.31L334.94 407.01L335.04 405.3L335.04 405.31L335.04 405.01L335.26 407.18L335.29 406.66L335.29 406.51L335.32 407.23L335.4 405.37L335.54 406.53L335.54 406.52L335.69 404.91L335.79 406.98L335.79 406.98L335.89 407.2L335.98 405.64L336.04 406.27L336.04 406.24L336.06 405.42L336.16 407.08L336.29 406.58L336.29 406.5L336.48 407.5L336.53 405.97L336.54 406.21L336.54 406.27L336.55 407.07L336.76 405.19L336.79 405.3L336.79 405.32L336.79 405.15L336.89 406.76L337.04 406.39L337.04 406.51L337.22 405.49L337.28 406.58L337.28 406.39L337.29 406.5L337.35 405.18L337.53 406.77L337.54 406.28L337.54 406.4L337.67 406.65L337.72 404.77L337.79 405.68L337.79 405.67L337.89 406.41L338.02 405.22L338.04 405.57L338.04 405.44L338.09 405.08L338.17 406.14L338.29 405.66L338.29 405.65L338.29 405.39L338.42 406.79L338.54 405.93L338.54 405.95L338.57 406.58L338.63 405.13L338.79 405.76L338.79 405.82L338.82 405.16L338.9 406.78L339.04 406.29L339.04 406.3L339.14 405.3L339.28 407.29L339.29 407.25L339.29 407.23L339.3 407.5L339.47 405L339.54 406.45L339.54 406.3L339.6 405.73L339.76 407.24L339.79 406.26L339.79 406.22L339.95 406.68L339.98 404.96L340.04 405.91L340.04 406.03L340.16 405.69L340.28 406.55L340.29 406.39L340.29 406.29L340.31 406.89L340.4 405.4L340.54 406.1L340.54 406.24L340.6 405.93L340.78 407.25L340.79 406.51L340.79 406.64L340.79 406.78L340.87 405.3L341.04 406.35L341.04 406.48L341.1 405.54L341.24 406.73L341.29 405.68L341.29 405.66L341.37 407L341.5 404.91L341.53 406.69L341.54 406.53L341.55 406.9L341.64 405.87L341.79 406.51L341.79 406.66L341.97 405.62L342.03 407.22L342.04 406.55L342.04 406.43L342.21 407.26L342.28 405.53L342.29 405.98L342.29 406.09L342.43 405.7L342.51 407.05L342.54 406.57L342.54 406.55L342.7 406.65L342.71 405.47L342.79 406.18L342.79 406.26L342.91 405.62L342.95 407.25L343.04 406.3L343.04 406.33L343.05 406.88L343.26 404.85L343.29 406.11L343.29 406.01L343.34 405.51L343.49 406.7L343.54 406.52L343.54 406.41L343.56 407.05L343.68 405.41L343.79 406.09L343.79 406.07L343.85 405.2L343.99 407.17L344.04 406.48L344.04 406.55L344.06 405.32L344.12 406.78L344.29 405.93L344.29 406.04L344.5 405.34L344.54 407.23L344.54 407.19L344.56 407.49L344.69 405.75L344.79 405.92L344.79 405.86L344.82 404.95L345.03 406.37L345.04 406.03L345.04 406.01L345.09 407.26L345.22 405.44L345.29 406.59L345.29 406.59L345.35 407.3L345.53 405.89L345.54 406.03L345.54 405.97L345.58 405.29L345.77 406.83L345.79 406.29L345.79 406.47L345.9 405.66L345.99 407.17L346.04 406.78L346.04 406.79L346.07 405.15L346.24 407.05L346.29 406.43L346.29 406.3L346.37 407.06L346.49 405.15L346.54 405.84L346.54 405.86L346.62 406.6L346.75 405.24L346.79 405.86L346.79 405.82L346.82 406.68L346.93 405.56L347.04 406.48L347.04 406.7L347.09 407.11L347.22 405.7L347.29 406.87L347.29 406.79L347.32 407.07L347.53 405.57L347.54 405.61L347.54 405.6L347.55 405.33L347.75 407.26L347.79 406.49L347.79 406.51L347.82 406.92L347.97 404.8L348.04 405.72L348.04 405.57L348.04 405.48L348.21 407.39L348.29 406.12L348.29 406.29L348.3 406.77L348.38 405.54L348.54 406.48L348.54 406.54L348.58 407.01L348.67 405.59L348.79 405.78L348.79 405.97L348.87 405.08L348.98 406.42L349.04 406.09L349.04 406.24L349.14 405.24L349.28 407.06L349.29 407.04L349.29 407.02L349.42 405.43L349.51 407.38L349.54 405.9L349.54 405.62L349.67 406.91L349.73 405.23L349.79 406.06L349.79 405.93L349.86 405.3L349.96 407.15L350.04 406.53L350.04 406.45L350.07 406.12L350.17 407.48L350.29 406.53L350.29 406.5L350.34 405.42L350.46 406.99L350.54 406.01L350.54 406.01L350.61 405.46L350.7 406.89L350.79 406.02L350.79 405.86L350.79 405.72L350.9 407.05L351.04 406.2L351.04 406.18L351.06 406.72L351.23 405.35L351.29 406.05L351.29 406.18L351.32 405.49L351.37 406.69L351.54 405.85L351.54 405.81L351.65 406.86L351.78 405.06L351.79 405.41L351.79 405.33L351.82 404.62L352.02 406.79L352.04 405.73L352.04 405.75L352.08 405.46L352.18 407.25L352.29 406.04L352.29 406.1L352.34 405.58L352.48 406.97L352.54 406.29L352.54 406.35L352.57 405.74L352.78 407.18L352.79 407.16L352.79 407.06L352.89 407.12L353.03 405.93L353.04 405.99L353.04 406.05L353.19 407.06L353.28 405.69L353.29 406.39L353.29 406.51L353.41 405.21L353.45 407.14L353.54 405.71L353.54 405.77L353.54 405.27L353.76 406.86L353.79 406.73L353.79 406.72L353.87 406.15L354.02 407.44L354.04 406.63L354.04 406.69L354.07 405.5L354.19 407.27L354.29 406.16L354.29 406.21L354.3 405.9L354.4 407.38L354.54 406.08L354.54 406.15L354.6 407.31L354.7 405.04L354.79 406.26L354.79 406.19L354.84 406.59L355.01 405.18L355.04 405.75L355.04 405.69L355.07 406.93L355.18 405.24L355.28 405.39L355.29 405.22L355.29 405.17L355.45 407.08L355.54 406.7L355.54 406.69L355.56 406.83L355.64 405.17L355.79 405.83L355.79 405.95L355.92 405.1L355.99 406.82L356.04 406.14L356.04 406.32L356.09 405.16L356.22 406.92L356.29 406.48L356.29 406.72L356.31 407.09L356.43 405.57L356.54 406.48L356.54 406.66L356.67 407.1L356.79 405.49L356.79 405.5L356.79 405.33L356.93 406.78L357.04 406.28L357.04 406.19L357.17 406.81L357.25 405.15L357.29 406.19L357.29 406.13L357.36 405.53L357.42 407.58L357.54 406.69L357.54 406.69L357.63 405.27L357.74 407.29L357.79 406.31L357.79 406.35L357.83 407.4L357.88 405.69L358.04 406.23L358.04 406.24L358.05 405.87L358.09 406.93L358.29 406.38L358.29 406.39L358.3 406.79L358.39 405.33L358.54 406.42L358.54 406.36L358.57 406.65L358.66 404.88L358.79 406.22L358.79 406.38L358.85 406.54L358.94 405.05L359.04 406L359.04 406.02L359.17 405.18L359.24 406.7L359.29 406.01L359.29 406.16L359.39 406.82L359.41 405.75L359.53 406.58L359.54 406.72L359.58 405.41L359.76 407.56L359.79 406.72L359.79 406.67L359.84 406.3L359.98 407.72L360.04 406.93L360.04 406.98L360.04 407.09L360.15 404.97L360.29 405.43L360.29 405.45L360.39 405.25L360.46 406.41L360.54 405.69L360.54 405.78L360.64 405.35L360.73 406.63L360.79 405.74L360.79 405.91L360.82 406.95L360.89 404.84L361.04 406.53L361.04 406.48L361.18 405.11L361.27 407.42L361.29 406.74L361.29 406.84L361.38 405.81L361.53 406.91L361.54 406.55L361.54 406.54L361.57 407L361.7 405.37L361.79 406.47L361.79 406.46L361.79 406.7L361.98 405.27L362.04 405.65L362.04 405.67L362.15 406.98L362.29 406.3L362.29 406.3L362.42 406.87L362.48 405.21L362.54 406.01L362.54 405.83L362.64 405.21L362.75 407.73L362.79 406.18L362.79 406.28L362.87 406.93L362.99 405.54L363.04 406.29L363.04 406.39L363.08 407.09L363.25 405.71L363.29 406.78L363.29 406.83L363.32 407.13L363.39 405.36L363.54 406.58L363.54 406.54L363.57 407.05L363.73 405.3L363.78 406.31L363.79 406.31L363.86 405.78L364.03 406.88L364.04 406.79L364.04 406.83L364.09 405.33L364.29 406.06L364.29 406.06L364.38 407.12L364.44 405.77L364.54 406.77L364.54 406.68L364.68 406.68L364.77 405.74L364.79 406.12L364.79 406.22L364.88 406.83L365 405.31L365.04 405.98L365.04 405.86L365.1 405.32L365.2 406.63L365.29 406.38L365.29 406.47L365.41 405.21L365.51 407.02L365.54 406.88L365.54 406.8L365.64 405.57L365.73 407.36L365.79 406.12L365.79 406.15L365.82 405.72L366 406.94L366.04 406.72L366.04 406.7L366.09 407.55L366.22 405.84L366.29 406.63L366.29 406.59L366.43 407.26L366.53 405.88L366.54 406.12L366.54 406.13L366.56 407.29L366.66 405.52L366.79 405.95L366.79 406.02L366.9 406.66L366.92 405.14L367.04 406.34L367.04 406.44L367.06 407.42L367.18 405.23L367.29 406.29L367.29 406.33L367.34 406.04L367.46 407.22L367.54 406.65L367.54 406.74L367.58 405.84L367.67 407.12L367.79 406.74L367.79 406.75L367.84 406.93L367.89 405.54L368.03 406.71L368.04 406.83L368.04 406.98L368.15 405.52L368.29 406.09L368.29 406.03L368.3 405.3L368.44 407.21L368.54 406.75L368.54 406.45L368.76 405.08L368.79 405.73L368.79 405.8L368.91 405.25L368.99 407.38L369.04 406.39L369.04 406.38L369.06 405.6L369.24 407.33L369.29 406.44L369.29 406.45L369.51 406.71L369.53 405.58L369.54 405.77L369.54 405.58L369.55 405.5L369.78 406.64L369.79 406.29L369.79 406.24L369.81 405.49L369.84 407.18L370.04 406.3L370.04 406.27L370.17 405.33L370.27 407.48L370.29 407.38L370.29 407.43L370.41 407.51L370.45 405.8L370.54 406.9L370.54 407.1L370.69 404.78L370.79 406.43L370.79 406.66L370.8 407.19L371 405.94L371.04 405.97L371.04 406.11L371.06 405.38L371.25 406.52L371.29 405.94L371.29 406.03L371.34 405.6L371.42 407.38L371.54 406.05L371.54 406.08L371.57 405.4L371.65 407.35L371.79 405.74L371.79 405.82L371.94 406.68L371.99 404.88L372.04 405.51L372.04 405.46L372.04 405.27L372.27 406.87L372.29 406.39L372.29 406.37L372.48 407.06L372.53 405.65L372.54 406.55L372.54 406.61L372.59 406.06L372.67 407.53L372.79 406.78L372.79 406.77L372.86 405.31L373 406.95L373.04 406.54L373.04 406.53L373.05 406.94L373.15 405.59L373.29 406.42L373.29 406.36L373.36 407.21L373.47 405.27L373.54 406.36L373.54 406.32L373.55 405.89L373.67 407.47L373.79 406.45L373.79 406.37L373.86 404.97L373.89 406.57L374.04 405.51L374.04 405.56L374.04 405.5L374.19 406.98L374.29 406.48L374.29 406.59L374.34 405.41L374.44 407.17L374.54 406.67L374.54 406.63L374.55 407.31L374.73 405.45L374.79 406.48L374.79 406.45L374.89 407.55L374.99 405.86L375.04 406.2L375.04 406.23L375.05 405.68L375.14 407.42L375.29 406.42L375.29 406.43L375.32 407.06L375.54 405.61L375.54 405.79L375.61 406.73L375.63 405.63L375.79 406.12L375.79 406.12L375.83 404.91L376.03 407.77L376.04 407.13L376.04 407.1L376.06 407.27L376.17 405.93L376.29 406.38L376.29 406.34L376.4 405.49L376.46 407.32L376.54 406.79L376.54 406.88L376.58 407.06L376.71 405.46L376.79 406.49L376.79 406.54L376.83 407.09L376.91 404.97L377.04 406.47L377.04 406.55L377.13 405.51L377.26 406.81L377.29 405.62L377.29 405.56L377.31 405.26L377.52 406.74L377.54 406.72L377.54 406.85L377.55 407.13L377.65 405.43L377.79 406.76L377.79 406.64L377.88 405.81L377.94 407.39L378.04 406.44L378.04 406.1L378.22 406.83L378.24 405.74L378.29 406.55L378.29 406.51L378.32 407.32L378.51 405.64L378.54 406.5L378.54 406.51L378.56 407.14L378.68 405.63L378.79 405.8L378.79 405.78L378.81 405.55L379.04 407.02L379.04 406.91L379.07 407.32L379.21 405.51L379.29 406.17L379.29 406.19L379.32 405.54L379.37 406.54L379.54 406.32L379.54 406.46L379.54 406.71L379.79 405.69L379.79 405.82L379.8 405.63L379.92 406.9L380.04 406.7L380.04 406.64L380.06 407.44L380.18 405.59L380.29 406.74L380.29 406.91L380.38 407.18L380.45 405.57L380.54 407.06L380.54 406.98L380.56 407.29L380.64 405.83L380.79 406.37L380.79 406.32L380.86 407.48L380.94 405.9L381.04 406.11L381.04 406.18L381.1 405.4L381.25 406.85L381.29 406.17L381.29 406.24L381.42 407.41L381.45 405.54L381.54 406.98L381.54 407.07L381.54 407.18L381.63 404.99L381.78 406.43L381.79 406.47L381.84 407.15L382.03 406.07L382.04 406.11L382.04 406.08L382.06 405.24L382.23 407.55L382.29 407.24L382.29 407.31L382.4 405.76L382.5 407.68L382.54 406.49L382.54 406.65L382.66 405.28L382.76 407.02L382.79 406.51L382.79 406.63L382.92 407.25L383.03 405.7L383.04 405.89L383.04 405.84L383.16 407.08L383.2 405.38L383.29 405.84L383.29 406.03L383.38 406.57L383.47 404.98L383.54 405.81L383.54 405.8L383.55 405.65L383.63 407.54L383.79 405.91L383.79 405.97L383.81 405.54L384.01 407.12L384.04 406.11L384.04 406.14L384.06 405.33L384.2 406.71L384.29 405.79L384.29 405.61L384.34 406.87L384.48 405.42L384.54 406.23L384.54 406.21L384.55 405.04L384.64 407.03L384.79 405.62L384.79 405.6L384.8 404.81L384.89 406.92L385.04 406.55L385.04 406.62L385.09 405.55L385.24 407.33L385.29 406.34L385.29 406.19L385.36 406.88L385.43 405.14L385.54 406.03L385.54 405.89L385.57 406.66L385.67 405.32L385.79 406.49L385.79 406.43L385.81 407.07L385.94 405.83L386.03 406.67L386.04 406.49L386.11 405.64L386.18 407.6L386.29 406.26L386.29 406.14L386.38 407.33L386.43 405.58L386.54 406.69L386.54 406.8L386.55 407.02L386.66 405.55L386.79 406.39L386.79 406.32L386.96 404.96L387.02 406.97L387.04 406.96L387.04 407.04L387.12 405.78L387.24 407.43L387.29 406.25L387.29 406.16L387.31 405.84L387.45 407.24L387.54 406.41L387.54 406.49L387.58 405.71L387.76 407.01L387.79 406.13L387.79 406.01L387.82 405.59L387.9 407.06L388.04 406.49L388.04 406.4L388.11 406.87L388.18 405.51L388.29 406.33L388.29 406.23L388.44 407.08L388.48 405.77L388.54 406.07L388.54 405.86L388.55 405.42L388.78 406.77L388.79 406.68L388.79 406.59L388.79 406.9L388.96 405.25L389.04 406.79L389.04 406.77L389.09 405.58L389.14 407.22L389.29 406.25L389.29 406.16L389.3 406.79L389.4 405.39L389.54 405.75L389.54 405.9L389.54 405.84L389.58 407.33L389.79 406.12L389.79 406.04L389.85 404.92L389.93 406.81L390.04 406.25L390.04 406.34L390.06 405.14L390.28 406.67L390.29 406.58L390.33 406.07L390.53 407.46L390.54 407.42L390.54 407.4L390.62 407.87L390.77 405.98L390.79 406.2L390.79 406.12L390.8 405.62L390.92 407.47L391.04 407.18L391.04 407.19L391.19 407.54L391.27 405.54L391.29 405.89L391.29 405.87L391.37 405.41L391.48 406.99L391.54 406.47L391.54 406.44L391.61 406.96L391.68 405.5L391.79 406.67L391.79 406.75L391.83 406.9L391.97 405.2L392.04 406.27L392.04 406.14L392.08 405.91L392.15 407.52L392.29 406.94L392.29 406.87L392.41 407.28L392.52 405.43L392.54 406.02L392.54 406.11L392.66 405.57L392.71 406.85L392.79 406.49L392.79 406.52L392.96 405.1L392.99 406.76L393.04 405.86L393.04 405.81L393.08 405.51L393.18 407.21L393.29 406.38L393.29 406.31L393.36 405.36L393.51 407.46L393.54 406.47L393.54 406.51L393.58 405.24L393.66 407.29L393.79 406.45L393.79 406.37L393.89 407.05L393.96 405.45L394.04 406.27L394.04 406.21L394.08 406.72L394.18 405.21L394.29 406.44L394.29 406.48L394.37 405.46L394.4 406.65L394.53 406.47L394.54 406.47L394.57 405.64L394.69 407.3L394.79 406.58L394.79 406.46L394.8 406.85L394.93 405.54L395.04 406.18L395.04 406.22L395.08 405.21L395.26 407.21L395.29 406.54L395.29 406.49L395.44 407.16L395.53 405.65L395.54 405.87L395.54 405.98L395.58 405.29L395.71 407.13L395.79 406.47L395.79 406.43L395.86 405.32L396.02 406.71L396.04 406.07L396.04 405.9L396.13 405.82L396.25 407.52L396.29 406.83L396.29 406.51L396.36 405.03L396.53 406.98L396.54 406.78L396.54 406.66L396.63 405.67L396.78 406.92L396.79 406.62L396.79 406.68L396.82 405.55L397.03 407.01L397.04 406.74L397.04 406.75L397.17 406.96L397.21 405.34L397.29 406.39L397.29 406.55L397.33 407.53L397.48 405.49L397.54 406.21L397.54 406.08L397.56 406.75L397.63 405.37L397.79 406.49L397.79 406.48L397.82 406.94L398.03 405.11L398.04 405.52L398.04 405.52L398.04 405.37L398.12 407.18L398.29 406.31L398.29 406.39L398.33 407.21L398.38 405.67L398.54 407.14L398.54 407.21L398.55 407.5L398.6 405.58L398.79 406.15L398.79 406.11L398.9 405.51L399.01 407.49L399.04 406.9L399.04 406.92L399.23 405.44L399.27 407.08L399.29 406.75L399.29 406.88L399.38 407.57L399.5 405.86L399.54 407.03L399.54 406.95L399.64 407.15L399.71 405.34L399.79 406.23L399.79 406.35L399.81 406.93L399.95 405.3L400.04 405.7L400.04 405.6L400.04 405.48L400.2 407.72L400.29 406.45L400.29 406.48L400.36 407.4L400.51 405.74L400.54 406.33L400.54 406.38L400.57 407.03L400.59 405.63L400.79 406.45L400.79 406.45L400.89 407.27L401.04 405.37L401.04 405.56L401.08 405.39L401.27 407.38L401.29 406.36L401.29 406.34L401.34 405.29L401.52 407.14L401.54 406.69L401.54 406.75L401.62 407.14L401.69 405.43L401.79 406.33L401.79 406.4L401.9 405.9L401.99 407.42L402.04 406.47L402.04 406.31L402.08 405.79L402.19 407.06L402.29 406.78L402.29 406.76L402.3 407.04L402.37 405.12L402.54 406.25L402.54 406.3L402.68 407.14L402.72 405.76L402.79 406.25L402.79 406.11L402.96 407.08L403.03 405.5L403.04 405.53L403.04 405.64L403.11 406.59L403.22 405.45L403.29 405.88L403.29 406L403.33 405.63L403.48 407.12L403.54 406.69L403.54 406.7L403.71 405.2L403.78 407.39L403.79 407.31L403.79 407.26L403.8 407.65L403.86 405.53L404.04 407.15L404.04 407.28L404.22 407.47L404.26 406.11L404.29 406.75L404.29 406.63L404.44 407.4L404.51 405.74L404.54 406.25L404.54 406.33L404.65 407.21L404.76 405.78L404.79 406.76L404.79 406.87L404.84 405.72L405.01 407.86L405.04 407.15L405.04 407.26L405.18 406.37L405.24 407.62L405.29 406.92L405.29 407.02L405.29 407.15L405.38 405.76L405.54 406.79L405.54 406.85L405.58 406.08L405.7 407.78L405.79 406.74L405.79 406.72L405.88 407.65L405.92 405.87L406.04 407.06L406.04 406.78L406.08 407.51L406.17 405.47L406.29 406.68L406.29 406.67L406.39 405.63L406.53 407.1L406.54 407.04L406.54 406.83L406.65 407.18L406.78 405.52L406.79 405.99L406.79 405.98L406.89 407.33L406.96 405.66L407.04 406.49L407.04 406.58L407.2 406.95L407.27 405.85L407.29 406.04L407.29 406.05L407.34 405.45L407.43 407.33L407.54 406.06L407.54 406.25L407.59 407.07L407.68 405.01L407.79 405.83L407.79 405.81L408.01 405.66L408.04 407.07L408.04 407.13L408.06 407.37L408.27 405.56L408.28 406.14L408.29 406.12L408.41 405.92L408.51 407.02L408.54 406.57L408.54 406.54L408.61 406.08L408.74 407.27L408.79 406.88L408.79 406.91L408.87 405.91L408.94 407.37L409.04 407.05L409.04 406.89L409.05 407.28L409.21 405.65L409.29 405.92L409.29 405.8L409.3 405.43L409.5 407.16L409.54 405.89L409.54 406.03L409.6 405.67L409.74 407.03L409.79 406.26L409.79 406.04L409.98 407.04L410.04 406.73L410.04 406.77L410.18 405.72L410.27 407.63L410.29 407.09L410.29 407.05L410.54 405.43L410.54 405.46L410.65 407.47L410.79 407.01L410.79 406.95L410.9 406.97L410.96 404.89L411.04 405.39L411.04 405.39L411.09 405.36L411.18 406.97L411.29 406.26L411.29 406.3L411.31 405.67L411.5 407.6L411.54 406.64L411.54 406.1L411.63 406.01L411.72 407.28L411.79 406.49L411.79 406.46L411.93 407.27L412.02 405.63L412.04 406.05L412.04 406.21L412.21 407.12L412.25 405.43L412.29 406.22L412.29 406.29L412.29 406.05L412.45 407.26L412.53 406.45L412.54 406.36L412.65 407.62L412.79 406.29L412.79 406.34L412.98 407.38L413 405.8L413.04 406.42L413.04 406.31L413.16 405.35L413.24 407.03L413.29 406.27L413.29 406.15L413.44 405.57L413.52 406.94L413.54 406.79L413.54 406.86L413.58 407.15L413.63 405.83L413.79 406.17L413.79 406.09L413.93 405.51L414.01 406.97L414.04 406.18L414.04 406.19L414.1 405.88L414.15 407.35L414.29 407.13L414.29 407.02L414.38 407.19L414.44 405.66L414.54 406.46L414.54 406.32L414.58 407.17L414.64 405.66L414.79 405.98L414.79 406.15L414.83 407.16L415 405.68L415.04 406.45L415.04 406.44L415.15 405.54L415.28 407.35L415.29 407.3L415.29 407.39L415.29 407.62L415.39 406.08L415.54 407.04L415.54 407.01L415.54 407.06L415.65 405.85L415.79 406.89L415.79 406.88L415.82 407.13L415.98 405.52L416.04 406.22L416.04 406.28L416.12 405.32L416.24 406.61L416.29 406.4L416.29 406.42L416.36 405.57L416.44 407.12L416.54 406.12L416.54 406.34L416.67 407.19L416.76 405.72L416.78 406.58L416.79 406.75L416.89 407.53L417.04 406.14L417.04 406.21L417.12 405.78L417.25 407.06L417.29 406.29L417.29 406.35L417.33 407.38L417.48 405.8L417.54 406.02L417.54 406.1L417.55 406.03L417.76 407.95L417.79 406.45L417.79 406.55L417.82 406.01L418.03 407.27L418.04 407.21L418.04 407.05L418.08 407.49L418.14 405.6L418.29 407.06L418.29 407.24L418.32 407.39L418.38 405.78L418.54 407.02L418.54 407.08L418.58 407.65L418.74 406.16L418.79 406.56L418.79 406.65L418.82 407.57L418.96 405.48L419.04 406.08L419.04 406.1L419.19 405.46L419.24 407.07L419.29 405.74L419.29 405.8L419.3 405.32L419.46 407.25L419.54 406.62L419.54 406.8L419.62 405.56L419.73 407.28L419.79 406.54L419.79 406.43L419.86 407.58L419.94 405.62L420.04 406.73L420.04 406.86L420.04 407.26L420.14 406.09L420.29 406.63L420.29 406.46L420.35 405.32L420.53 406.72L420.54 406.56L420.54 406.71L420.69 407.24L420.75 405.67L420.79 406L420.79 406.09L420.8 405.75L420.9 407.3L421.04 406.36L421.04 406.53L421.05 407.19L421.16 405.94L421.29 406.87L421.29 406.74L421.39 407.04L421.44 405.7L421.54 406.12L421.54 406.04L421.59 405.16L421.79 407.44L421.79 407.43L421.79 407.59L421.82 406.02L422.04 406.56L422.04 406.68L422.15 405.95L422.24 407.65L422.29 406.62L422.29 406.62L422.3 407L422.41 405.12L422.54 405.99L422.54 405.99L422.57 407.39L422.74 405.86L422.79 406.59L422.79 406.59L422.83 405.6L422.96 407.32L423.04 406.48L423.04 406.31L423.15 406.07L423.2 407.47L423.29 406.61L423.29 406.57L423.39 406.25L423.53 407.34L423.54 407.07L423.54 407.03L423.54 407.22L423.62 405.2L423.79 406.5L423.79 406.56L423.8 405.81L423.96 407.3L424.04 406.82L424.04 406.9L424.16 407.42L424.28 405.85L424.29 406.16L424.29 406.25L424.38 407.71L424.5 405.57L424.54 406.02L424.54 405.88L424.72 407.99L424.79 407.69L424.79 407.65L424.79 407.66L425.01 405.74L425.04 406.03L425.04 405.81L425.05 405.59L425.23 407.37L425.29 407.08L425.29 406.92L425.37 405.61L425.48 407.21L425.54 406.32L425.54 406.33L425.7 407.48L425.78 405.71L425.79 405.95L425.79 406.07L426.02 407.8L426.04 407.48L426.04 407.58L426.21 405.82L426.29 406.07L426.29 405.98L426.36 405.5L426.45 407.69L426.54 406.59L426.54 406.61L426.56 406.31L426.72 407.74L426.79 406.35L426.79 406.33L426.89 405.66L426.92 407.33L427.04 406.47L427.04 406.35L427.11 405.54L427.25 407.75L427.29 407.24L427.29 407.12L427.3 407.21L427.35 405.8L427.54 406.74L427.54 406.74L427.63 407.56L427.79 406.19L427.79 406.39L427.85 405.93L427.93 407.47L428.04 406.37L428.04 406.35L428.04 405.79L428.15 407.65L428.29 406.64L428.29 406.65L428.3 405.95L428.48 407.03L428.54 406.39L428.54 406.29L428.67 405.46L428.76 406.85L428.79 406.54L428.79 406.7L428.85 404.94L429.03 406.89L429.04 406.67L429.04 406.77L429.06 405.62L429.23 407.64L429.29 407.25L429.29 407.39L429.29 407.42L429.41 405.76L429.54 406.62L429.54 406.52L429.61 407.32L429.69 405.57L429.79 406.3L429.79 406.29L429.79 406.19L429.99 408.02L430.04 407.23L430.04 407.09L430.04 407.11L430.17 405.05L430.29 406.42L430.29 406.41L430.36 405.08L430.48 406.94L430.53 406.3L430.54 406.43L430.62 407.16L430.69 406.1L430.79 407.04L430.79 407.17L430.79 407.27L430.97 405.73L431.04 405.74L431.04 405.73L431.04 405.41L431.28 407.26L431.29 407.21L431.29 407.07L431.31 407.37L431.42 405.76L431.54 406.21L431.54 406.3L431.6 405.41L431.79 406.79L431.79 406.66L431.91 407.63L431.99 405.98L432.04 406.57L432.04 406.33L432.08 407.43L432.18 405.98L432.29 406.35L432.29 406.41L432.38 405.96L432.43 407.24L432.54 406.68L432.54 406.49L432.58 406.81L432.7 405.61L432.79 406.54L432.79 406.61L432.88 407.25L432.98 405.87L433.04 407.11L433.04 407.08L433.22 407.46L433.26 405.89L433.29 406.13L433.29 406.11L433.32 405.97L433.53 407.81L433.54 407.62L433.54 407.57L433.55 407.79L433.74 405.6L433.79 406.79L433.79 406.83L433.83 407.06L434.02 405.45L434.04 405.87L434.04 406.05L434.06 405.51L434.12 406.92L434.29 406.33L434.29 406.31L434.43 407.2L434.53 405.48L434.54 405.52L434.54 405.57L434.55 405.43L434.74 406.89L434.78 406.18L434.79 406.13L434.92 405.5L434.94 407.27L435.04 405.93L435.04 405.68L435.05 405.66L435.25 407.63L435.29 406.55L435.29 406.53L435.32 407.17L435.43 405.06L435.54 406.48L435.54 406.69L435.54 406.7L435.78 405.51L435.79 405.58L435.79 405.6L435.8 404.93L435.97 407.35L436.04 406.07L436.04 406.18L436.14 407.47L436.21 405.85L436.29 406.58L436.29 406.6L436.38 407.36L436.46 405.41L436.54 405.96L436.54 406.02L436.55 405.62L436.72 407.57L436.79 407.05L436.79 407.05L436.97 407.42L437.01 406.04L437.04 407.1L437.04 407.25L437.15 405.17L437.29 406.99L437.29 407.04L437.29 407.06L437.34 405.83L437.54 406.85L437.54 406.66L437.63 405.65L437.74 407.71L437.79 406L437.79 405.92L438 407.69L438.04 406.95L438.04 406.8L438.05 406.99L438.12 405.52L438.29 406.75L438.29 406.77L438.3 405.72L438.34 407.13L438.54 406.41L438.54 406.38L438.64 405.64L438.73 407.49L438.79 406.22L438.79 406.18L438.88 405.67L439 407.19L439.03 406.4L439.04 406.38L439.1 405.78L439.29 407.21L439.29 407.07L439.31 408.21L439.36 405.91L439.54 406.09L439.54 406.26L439.59 405.5L439.7 407.43L439.79 406.52L439.79 406.58L439.81 406.21L439.92 407.38L440.04 406.22L440.04 406.29L440.05 407.02L440.19 404.58L440.29 406.41L440.29 406.3L440.42 407.08L440.44 405.99L440.54 406.8L440.54 406.81L440.55 407.65L440.66 405.9L440.79 406.23L440.79 405.92L440.86 406.92L440.94 404.82L441.04 405.97L441.04 405.97L441.08 405.39L441.24 407.18L441.29 406.36L441.29 406.27L441.39 407.48L441.51 405.88L441.54 406.34L441.54 406.36L441.61 405.11L441.75 407.5L441.79 407.1L441.79 406.82L441.8 407.09L441.82 405.73L442.04 406.34L442.04 406.47L442.07 407.1L442.16 405.37L442.29 406.5L442.29 406.43L442.38 406.14L442.5 407.19L442.54 406.77L442.54 406.94L442.56 406.13L442.68 407.63L442.79 406.49L442.79 406.52L442.94 406.12L442.99 407.63L443.04 407.24L443.04 407.12L443.08 405.98L443.19 407.29L443.28 406.94L443.29 406.92L443.36 407.02L443.51 405.27L443.54 405.79L443.54 405.87L443.56 405.23L443.69 407.37L443.79 406.91L443.79 406.94L443.92 407.25L444.04 405.86L444.04 406.04L444.05 405.96L444.21 407.52L444.29 406.3L444.29 406.32L444.33 407.07L444.39 405.84L444.54 406.26L444.54 406.34L444.7 407.38L444.77 405.9L444.79 406.55L444.79 406.59L444.84 405.87L445.04 407.5L445.04 407.51L445.15 405.04L445.29 406.13L445.29 406.08L445.34 406L445.45 407.58L445.54 407.04L445.54 407.16L445.55 407.58L445.78 405.68L445.79 405.84L445.79 405.83L445.91 407.51L445.96 405.71L446.04 406.87L446.04 406.92L446.07 407.66L446.13 406.34L446.29 407.21L446.29 407.26L446.37 407.98L446.44 406.53L446.54 406.99L446.54 406.82L446.6 407.48L446.63 406.12L446.79 407.13L446.79 407.1L446.8 405.99L446.85 407.45L447.04 406.41L447.04 406.35L447.08 405.84L447.13 407.44L447.29 406.48L447.29 406.41L447.32 406.01L447.39 408.2L447.54 407.15L447.54 406.98L447.55 407.18L447.72 405.69L447.79 406.36L447.79 406.48L447.82 405.87L447.97 406.95L448.04 406.57L448.04 406.75L448.06 407.15L448.17 405.4L448.29 406.96L448.29 407.03L448.42 406.18L448.51 407.3L448.54 406.97L448.54 406.88L448.68 407.64L448.73 405.81L448.79 406.81L448.79 406.74L448.9 406.01L448.95 407.38L449.04 406.43L449.04 406.3L449.22 405.18L449.25 406.91L449.29 406.51L449.29 406.38L449.34 406.95L449.4 405.81L449.54 406.47L449.54 406.59L449.67 405.98L449.76 407.4L449.79 406.59L449.79 406.54L449.84 406.2L449.96 407.45L450.04 406.37L450.04 406.46L450.13 407.26L450.28 405.83L450.29 406L450.29 406.06L450.33 405.58L450.44 407.34L450.54 406.29L450.54 406.24L450.6 405.41L450.73 407.38L450.79 405.76L450.79 405.63L450.87 407.81L451.04 406.64L451.04 406.43L451.07 407.27L451.27 405.64L451.29 406.11L451.29 406.15L451.38 407.45L451.49 405.64L451.54 406.34L451.54 406.41L451.54 405.84L451.61 407.34L451.79 407.07L451.79 407.05L451.89 408.33L452.01 406.13L452.04 406.17L452.04 406.19L452.07 405.63L452.21 407.7L452.29 407.37L452.29 407.19L452.36 406.36L452.38 407.6L452.54 406.83L452.54 406.83L452.59 407.53L452.78 405.97L452.79 406.06L452.79 406.06L452.81 406.6L452.94 405.5L453.04 405.68L453.04 405.73L453.14 408.18L453.29 407.06L453.29 407.06L453.41 405.72L453.52 407.17L453.54 406.75L453.54 406.76L453.59 405.78L453.75 407.22L453.79 406.7L453.79 406.82L453.81 407.44L453.88 405.85L454.04 406.71L454.04 406.54L454.13 407.64L454.26 406.1L454.29 406.79L454.29 406.67L454.29 406.1L454.51 407.5L454.54 407.16L454.54 407.14L454.64 407.57L454.77 405.92L454.79 406.6L454.79 406.36L454.95 407.19L455.02 405.37L455.04 406.38L455.04 406.31L455.06 405.59L455.28 406.84L455.29 406.77L455.29 406.66L455.31 405.71L455.48 406.96L455.54 405.82L455.54 405.93L455.63 407.88L455.79 406.63L455.79 406.5L455.82 405.85L455.87 407.28L456.04 406.42L456.04 406.48L456.06 405.85L456.2 407.57L456.29 406.82L456.29 406.84L456.33 406.36L456.49 407.35L456.54 406.88L456.54 406.8L456.58 407.22L456.77 406.02L456.79 406.58L456.79 406.7L456.92 407.83L456.98 406.18L457.03 406.8L457.04 406.78L457.15 405.79L457.23 407.69L457.29 406.89L457.29 406.99L457.29 407.27L457.42 405.87L457.54 406.5L457.54 406.53L457.55 405.83L457.75 407.33L457.79 406.92L457.79 406.89L457.9 407.91L458.02 405.38L458.04 405.69L458.04 405.73L458.14 406.56L458.28 405.3L458.29 405.72L458.29 405.73L458.51 407.38L458.54 406.25L458.54 406.26L458.64 407.08L458.7 405.76L458.79 406.61L458.79 406.49L458.84 407.71L458.9 405.9L459.04 407.15L459.04 407.18L459.09 407.65L459.27 405.04L459.29 405.41L459.29 405.45L459.29 405.31L459.5 407.61L459.54 406.75L459.54 406.67L459.61 407.04L459.73 405.35L459.79 406.11L459.79 406.01L459.92 405.74L460.03 407.2L460.04 406.93L460.04 407.08L460.05 407.57L460.27 406.3L460.29 406.99L460.29 407.03L460.29 407.35L460.38 405.57L460.54 406.12L460.54 406.15L460.64 406.92L460.71 405.72L460.79 406.44L460.79 406.53L460.92 405.87L461.04 407.61L461.04 407.34L461.05 407.57L461.1 405.95L461.28 406.43L461.29 406.22L461.41 405.93L461.49 407.6L461.54 406.74L461.54 406.61L461.69 405.64L461.77 406.96L461.79 406.48L461.79 406.24L461.96 407.72L462.04 405.5L462.04 405.49L462.04 405.37L462.12 406.62L462.29 406.48L462.29 406.4L462.33 405.74L462.4 406.86L462.54 406.12L462.54 406.28L462.54 405.96L462.63 407.32L462.79 406.14L462.79 406.15L462.84 407.15L462.92 405.79L463.04 406.74L463.04 406.86L463.07 407.58L463.18 405.99L463.29 406.56L463.29 406.59L463.4 405.44L463.52 407.45L463.54 406.32L463.54 406.3L463.62 406.04L463.79 407.52L463.79 407.59L463.89 408.01L463.98 405.74L464.04 406.11L464.04 406.21L464.11 405.93L464.18 407.65L464.29 406.91L464.29 406.82L464.38 407.82L464.46 406.12L464.54 406.62L464.54 406.52L464.63 405.32L464.76 407.75L464.79 407.17L464.79 407.12L464.82 407.3L464.87 406.1L465.04 406.87L465.04 407.06L465.09 407.82L465.26 406.42L465.29 406.57L465.29 406.54L465.29 406.3L465.47 407.37L465.53 406.75L465.54 406.87L465.55 407.41L465.6 406.02L465.79 406.42L465.79 406.35L465.83 407.67L465.9 406.06L466.04 406.71L466.04 406.82L466.19 407.73L466.23 405.64L466.29 406.63L466.29 406.83L466.34 407.56L466.38 406.1L466.54 406.87L466.54 407.06L466.66 406.13L466.75 407.51L466.79 407.05L466.79 407.01L466.84 407.89L466.89 406.26L467.04 406.96L467.04 406.79L467.11 406.44L467.15 407.72L467.29 406.61L467.29 406.52L467.41 407.46L467.51 406.19L467.54 406.82L467.54 406.91L467.68 407.5L467.73 405.81L467.79 406.26L467.79 406.3L467.79 406.03L467.89 407.48L468.04 406.94L468.04 406.98L468.1 407.69L468.26 405.68L468.29 406.39L468.29 406.34L468.42 405.48L468.49 407.78L468.54 406.63L468.54 406.47L468.58 407.35L468.71 406.04L468.79 406.81L468.79 406.66L468.91 407.01L468.97 405.76L469.04 406.52L469.04 406.51L469.16 407.64L469.26 405.99L469.29 406.43L469.29 406.48L469.31 405.97L469.47 408.26L469.54 407.46L469.54 407.32L469.57 407.77L469.73 406.24L469.79 406.73L469.79 406.74L469.87 405.98L470 407.27L470.04 406.83L470.04 406.61L470.1 405.81L470.13 407.38L470.29 406.63L470.29 406.69L470.46 405.66L470.5 407.17L470.54 406.14L470.54 406.06L470.74 407.42L470.79 406.84L470.79 406.82L470.79 407.01L470.94 405.24L471.04 405.9L471.04 405.92L471.14 407.35L471.25 405.68L471.29 406.69L471.29 406.68L471.32 407.53L471.53 405.67L471.54 405.72L471.54 405.7L471.7 407.39L471.79 406.32L471.79 406.24L471.85 407.54L472.04 406.81L472.04 406.86L472.12 407.6L472.22 406.26L472.29 407.2L472.29 407.19L472.38 407.5L472.43 406.02L472.54 406.79L472.54 406.85L472.63 407.26L472.66 405.89L472.79 406.22L472.79 406.11L472.91 405.62L473.01 407.49L473.04 406.92L473.04 406.94L473.06 407.64L473.25 405.55L473.29 407.1L473.29 407.09L473.29 407.22L473.36 405.48L473.54 406.35L473.54 406.28L473.61 406.82L473.71 404.93L473.79 406.25L473.79 406.37L473.8 406.06L473.87 407.36L474.04 407.15L474.04 407.09L474.15 406.05L474.19 407.83L474.29 407.22L474.29 407.15L474.3 407.63L474.51 405.52L474.54 405.7L474.54 405.69L474.55 405.4L474.66 407.02L474.79 406.43L474.79 406.37L474.88 407.16L474.99 405.57L475.04 406.51L475.04 406.5L475.04 406.2L475.27 407.51L475.29 406.89L475.29 406.72L475.42 407.46L475.54 405.51L475.54 405.58L475.67 407.13L475.79 406.18L475.79 406.03L475.8 405.89L475.85 406.94L476.04 406.77L476.04 406.73L476.18 407.35L476.2 405.85L476.29 406.49L476.29 406.7L476.37 407.59L476.4 406.12L476.54 406.31L476.54 406.41L476.6 407L476.69 405.43L476.79 406.87L476.79 407.04L476.79 407.32L476.99 405.83L477.04 406.16L477.04 406.02L477.04 405.84L477.13 407.33L477.29 406.86L477.29 406.83L477.44 405.9L477.48 407.56L477.54 406.82L477.54 406.82L477.68 407.37L477.71 406.1L477.79 406.51L477.79 406.56L477.82 407.9L478 405.59L478.04 405.94L478.04 406.03L478.13 407.63L478.21 405.95L478.29 406.19L478.29 405.99L478.36 407.7L478.53 405.58L478.54 405.9L478.54 405.99L478.57 405.5L478.76 407.59L478.79 407.03L478.79 407.19L478.83 407.82L479.03 405.25L479.04 405.68L479.04 405.6L479.04 405.48L479.2 407.16L479.28 405.74L479.29 405.75L479.33 407.48L479.51 405.52L479.54 406.07L479.54 406.25L479.7 405.96L479.77 407.99L479.79 407.45L479.79 407.49L479.81 408.13L479.9 406.2L480.04 407.46L480.04 407.5L480.27 405.71L480.29 406.55L480.29 406.42L480.4 407.41L480.54 405.99L480.54 406L480.54 405.73L480.64 407.4L480.79 406.55L480.79 406.69L480.91 407.34L480.99 406.11L481.04 406.97L481.04 407.02L481.08 406L481.19 407.55L481.29 406.85L481.29 406.75L481.35 408.18L481.52 406.48L481.54 406.71L481.54 406.73L481.62 407.55L481.66 406.19L481.79 406.6L481.79 406.49L481.89 407.13L481.98 405.88L482.04 406.73L482.04 406.78L482.07 407.43L482.26 406.47L482.29 406.75L482.29 406.77L482.29 406.96L482.35 405.32L482.54 406.12L482.54 406.18L482.62 407.48L482.79 407.11L482.79 407.04L482.86 407.73L482.9 406.37L483.04 407.18L483.04 407.22L483.25 407.51L483.27 405.89L483.29 406.06L483.29 406.07L483.3 405.78L483.51 407.31L483.53 406.63L483.54 406.55L483.54 407.46L483.65 406.25L483.79 406.73L483.79 406.85L483.88 405.68L484.04 407.35L484.04 407.36L484.17 405.9L484.24 407.65L484.29 406.91L484.29 406.87L484.35 407.51L484.53 405.95L484.54 406.2L484.54 406.11L484.54 406.1L484.6 407.33L484.79 406.94L484.79 407L484.97 405.81L485.02 407.57L485.04 407.31L485.04 407.37L485.14 407.74L485.29 406.23L485.29 406.17L485.31 405.58L485.48 407.33L485.54 406.01L485.54 405.8L485.54 405.49L485.7 407.07L485.79 406.07L485.79 406.25L485.87 406.06L485.95 407.91L486.04 407.44L486.04 407.45L486.15 408.39L486.26 405.69L486.29 406.72L486.29 406.75L486.3 406.38L486.39 407.39L486.54 406.68L486.54 406.78L486.61 405.65L486.76 407.35L486.79 406.49L486.79 406.52L486.92 405.85L487.03 407.52L487.04 407L487.04 406.98L487.09 406.34L487.21 407.67L487.29 407.32L487.29 407.36L487.31 407.55L487.34 405.96L487.54 406.67L487.54 406.74L487.61 405.22L487.65 406.78L487.78 406.05L487.79 406.02L487.82 407.28L487.96 405.66L488.04 406.53L488.04 406.61L488.06 407.45L488.18 405.74L488.29 406.18L488.29 406.26L488.35 405.82L488.49 407.31L488.54 406.96L488.54 406.89L488.59 405.8L488.71 407.49L488.79 406.4L488.79 406.53L488.79 406.34L488.95 407.83L489.04 406.94L489.04 406.98L489.1 405.18L489.18 407.76L489.29 406.5L489.29 406.34L489.29 406.29L489.42 407.66L489.54 406.92L489.54 407.01L489.71 405.5L489.78 407.76L489.79 407.53L489.79 407.56L489.83 406.38L490.02 407.91L490.04 407.73L490.04 407.64L490.14 405.55L490.29 407.1L490.29 407.18L490.39 406.32L490.5 407.96L490.54 407.23L490.54 407.23L490.54 407.27L490.64 406.02L490.79 407.14L490.79 407.31L490.88 406.42L491.01 407.85L491.04 407.24L491.04 407.16L491.05 407.62L491.26 406.02L491.29 406.71L491.29 406.79L491.35 407.54L491.45 406.14L491.54 406.36L491.54 406.22L491.58 405.65L491.77 407.78L491.79 407.36L491.79 407.1L491.83 407.79L491.9 406.15L492.03 406.82L492.04 406.95L492.06 407.68L492.16 405.91L492.29 406.41L492.29 406.55L492.44 405.86L492.51 407.25L492.54 406.79L492.54 406.77L492.67 406.1L492.76 407.61L492.79 406.81L492.79 406.64L492.8 406.45L492.95 407.72L493.04 407.12L493.04 407.02L493.06 406.08L493.22 407.65L493.29 407.2L493.29 407.17L493.34 406.15L493.38 407.61L493.54 406.33L493.54 406.26L493.74 405.75L493.78 407.36L493.79 406.75L493.79 406.86L493.8 407.2L494.03 405.6L494.04 406.1L494.04 406.19L494.1 405.75L494.21 407.49L494.29 406.59L494.29 406.46L494.34 405.63L494.46 406.84L494.54 406.14L494.54 406.08L494.68 405.99L494.75 407.52L494.79 407.17L494.79 407.19L494.81 408.06L494.97 406.23L495.04 406.53L495.04 406.67L495.11 405.45L495.24 406.84L495.29 406.57L495.29 406.37L495.29 406.25L495.46 407.52L495.54 407.06L495.54 407.11L495.6 407.44L495.78 405.98L495.79 406.04L495.79 406.1L495.85 405.62L496.03 407.35L496.04 407.11L496.04 407.28L496.08 407.54L496.19 406.16L496.29 406.61L496.29 406.58L496.36 407.5L496.52 405.95L496.54 406.66L496.54 406.76L496.56 405.98L496.66 407.59L496.79 406.64L496.79 406.61L496.82 407.7L497.03 405.5L497.04 405.7L497.04 405.89L497.07 405.68L497.24 407.36L497.29 406.25L497.29 406.14L497.3 405.35L497.38 407.38L497.54 406.89L497.54 406.91L497.65 406.02L497.76 407.68L497.79 407.12L497.79 407.09L497.87 406.11L497.96 407.28L498.04 406.86L498.04 406.82L498.1 406.67L498.21 408L498.29 407.1L498.29 407.22L498.32 406.47L498.45 407.61L498.54 406.82L498.54 406.71L498.56 406.43L498.66 408.04L498.79 407.71L498.79 407.71L498.79 407.82L498.81 406.52L499.04 406.99L499.04 407.04L499.18 408.05L499.26 406.1L499.29 406.62L499.29 406.75L499.35 406.22L499.4 407.59L499.54 406.49L499.54 406.3L499.55 405.77L499.73 407.42L499.79 407.11L499.79 407.17L499.87 407.9L500.02 406.45L500.04 407.42L500.04 407.5L500.06 406.22L500.17 407.74L500.29 406.83L500.29 406.97L500.35 406.27L500.49 407.33L500.54 406.62L500.54 406.71L500.58 407.98L500.65 406.45L500.79 407.57L500.79 407.59L500.87 406.16L501.04 406.43L501.04 406.47L501.1 407.62L501.24 406.01L501.29 406.77L501.29 406.68L501.3 406.08L501.52 408L501.54 406.99L501.54 407.01L501.61 406.06L501.73 407.25L501.79 406.34L501.79 406.52L501.97 407.97L502.03 406.32L502.04 406.74L502.04 406.65L502.21 407.13L502.24 405.67L502.29 406.76L502.29 406.73L502.31 406.32L502.4 407.82L502.54 407.14L502.54 407.24L502.66 407.58L502.77 406.11L502.79 406.65L502.79 406.65L502.8 406.17L502.91 407.96L503.04 406.72L503.04 406.67L503.09 407.87L503.21 406.38L503.29 406.84L503.29 406.9L503.35 405.72L503.49 407.39L503.54 406.49L503.54 406.54L503.6 406.03L503.76 407.19L503.79 406.6L503.79 406.57L503.79 406.19L504 407.37L504.04 406.65L504.04 406.83L504.13 407.63L504.25 406.59L504.29 407.13L504.29 407.17L504.33 407.53L504.4 405.66L504.54 406.73L504.54 406.8L504.62 406.02L504.74 407.92L504.79 406.58L504.79 406.72L504.94 407.4L505.01 405.6L505.04 406.35L505.04 406.31L505.13 405.69L505.23 407.64L505.29 406.37L505.29 406.4L505.35 405.24L505.51 407.59L505.54 407.11L505.54 407.03L505.71 407.41L505.75 405.24L505.78 406.29L505.79 406.43L505.79 406.19L505.94 407.51L506.04 406.64L506.04 406.46L506.11 406.35L506.19 407.97L506.29 407.68L506.29 407.65L506.3 407.88L506.47 406.04L506.54 406.97L506.54 407.05L506.64 405.71L506.78 407.14L506.79 407.03L506.79 407.01L506.85 406.53L506.96 407.87L507.04 407.39L507.04 407.39L507.04 407.7L507.14 405.97L507.29 406.96L507.29 406.83L507.37 407.33L507.51 405.99L507.54 406.82L507.54 406.89L507.63 406.06L507.71 407.5L507.79 406.63L507.79 406.74L507.86 405.94L508.02 407.39L508.04 407.15L508.04 407.17L508.2 407.8L508.28 405.52L508.29 405.66L508.29 405.85L508.3 405.74L508.52 407.48L508.54 407.32L508.54 407.29L508.66 406.07L508.71 407.84L508.79 407.31L508.79 407.17L508.87 407.74L508.9 405.65L509.04 406.62L509.04 406.56L509.1 407.51L509.25 405.77L509.29 406.73L509.29 406.65L509.3 405.72L509.47 407.64L509.54 406.91L509.54 406.9L509.57 405.9L509.78 407.72L509.79 407.61L509.79 407.58L509.83 407.68L509.98 406.17L510.03 407L510.04 406.89L510.19 406.16L510.24 407.41L510.29 406.94L510.29 407.07L510.38 407.86L510.51 405.94L510.54 406.64L510.54 406.58L510.6 405.77L510.69 407.65L510.79 406.73L510.79 406.87L510.87 407.94L510.92 406.32L511.04 406.46L511.04 406.5L511.18 407.47L511.28 406.25L511.29 406.82L511.29 406.9L511.33 407.56L511.49 405.81L511.54 406.66L511.54 406.64L511.55 406.27L511.68 407.5L511.79 407.02L511.79 407.12L511.9 407.7L511.98 406.31L512.04 407.14L512.04 407.2L512.05 407.77L512.23 405.88L512.29 406.59L512.29 406.62L512.36 406.19L512.48 407.39L512.54 406.96L512.54 406.85L512.64 407.14L512.74 405.78L512.79 406.67L512.79 406.62L512.82 406.08L513.02 407.83L513.04 407.42L513.04 407.37L513.11 407.96L513.25 405.48L513.29 406.95L513.29 406.88L513.35 407.33L513.39 405.8L513.54 407.16L513.54 406.99L513.55 406.12L513.72 407.55L513.79 406.52L513.79 406.35L513.79 406.18L514.03 407.9L514.04 407.76L514.04 407.8L514.05 407.99L514.12 406.13L514.28 406.59L514.29 406.72L514.34 405.75L514.46 407.42L514.54 406.8L514.54 406.78L514.61 406.26L514.65 407.32L514.79 406.57L514.79 406.6L514.81 406.02L514.85 407.24L515.04 406.84L515.04 406.66L515.05 406.26L515.27 407.9L515.29 407.45L515.29 407.49L515.43 407.82L515.53 406.07L515.54 406.44L515.54 406.59L515.6 407.71L515.75 406.1L515.79 406.73L515.79 406.8L515.92 405.98L515.98 407.47L516.04 406.46L516.04 406.54L516.07 405.66L516.15 407.42L516.29 406.63L516.29 406.33L516.37 405.91L516.51 407.5L516.54 407.36L516.54 407.48L516.69 406.54L516.77 407.8L516.79 407.53L516.79 407.62L516.85 407.75L517.03 406.1L517.04 406.22L517.04 406.14L517.07 405.85L517.29 407.39L517.29 407.21L517.35 407.77L517.49 405.35L517.54 406.04L517.54 406.11L517.66 405.7L517.74 407.81L517.79 406.45L517.79 406.32L517.83 407.85L517.94 406.24L518.04 407L518.04 406.94L518.04 407.5L518.21 405.53L518.29 407.21L518.29 407.13L518.5 407.88L518.53 406.58L518.53 406.98L518.54 407.04L518.6 407.52L518.75 406.37L518.79 406.4L518.79 406.18L518.82 405.77L518.9 407.28L519.04 406.44L519.04 406.43L519.08 407.36L519.2 405.39L519.29 406.97L519.29 406.99L519.39 406.02L519.47 407.89L519.54 407.35L519.54 407.26L519.65 405.21L519.76 407.39L519.79 406.05L519.79 405.99L519.81 405.2L519.99 407.95L520.04 407.02L520.04 407.01L520.05 407.6L520.15 405.68L520.29 407.49L520.29 407.43L520.38 405.95L520.5 408.02L520.54 407.11L520.54 407.07L520.7 407.77L520.78 406.52L520.79 406.82L520.79 406.67L520.82 408.27L521.03 406.16L521.04 406.33L521.04 406.32L521.09 405.79L521.25 407.57L521.29 406.76L521.29 406.99L521.29 407.38L521.33 406.18L521.54 406.73L521.54 406.78L521.64 407.43L521.77 406.34L521.79 407.04L521.79 407.06L521.81 407.45L521.83 405.82L522.04 406.38L522.04 406.43L522.11 408.05L522.21 405.87L522.29 407.08L522.29 407.12L522.41 407.45L522.46 405.99L522.54 406.94L522.54 406.73L522.58 408.11L522.77 406.25L522.79 406.34L522.79 406.51L522.79 406.35L522.93 407.67L523.04 406.78L523.04 406.95L523.07 407.82L523.27 405.98L523.29 406.32L523.29 406.35L523.47 407.71L523.54 406.92L523.54 406.75L523.71 406.41L523.74 407.69L523.79 407.27L523.79 407.37L523.93 408.23L524 406.48L524.04 407.3L524.04 407.42L524.12 406.34L524.22 408.45L524.29 407.02L524.29 406.75L524.35 407.94L524.43 406.62L524.54 407.44L524.54 407.37L524.54 407.53L524.63 406.36L524.79 407.21L524.79 407.28L524.87 405.9L524.98 407.74L525.04 406.43L525.04 406.38L525.09 405.76L525.2 408.13L525.29 407.16L525.29 407.24L525.36 406.64L525.51 407.92L525.54 407.43L525.54 407.39L525.54 407.56L525.77 406L525.79 406.09L525.79 406.1L525.79 406.02L525.86 407.79L526.04 406.91L526.04 406.83L526.06 407.72L526.1 405.99L526.29 406.93L526.29 406.98L526.42 405.79L526.52 407.59L526.54 407.28L526.54 407.04L526.63 406.11L526.73 407.65L526.79 406.75L526.79 406.94L526.84 405.88L527 407.58L527.04 406.17L527.04 406.23L527.11 407.5L527.26 405.44L527.29 406.24L527.29 406.3L527.32 406.12L527.52 407.86L527.54 407.59L527.54 407.39L527.61 405.87L527.71 408.06L527.79 407.15L527.79 407.17L527.82 407.29L527.88 405.82L528.04 406.83L528.04 406.76L528.12 406.29L528.19 407.56L528.29 407.45L528.29 407.43L528.3 407.96L528.39 406.32L528.54 406.93L528.54 406.96L528.63 407.58L528.74 406.04L528.79 407.52L528.79 407.52L528.8 407.97L528.87 406.08L529.04 406.55L529.04 406.61L529.07 405.87L529.26 407.61L529.29 406.98L529.29 407.14L529.46 407.82L529.52 406.44L529.54 406.96L529.54 406.84L529.62 408.37L529.7 406.16L529.79 407.18L529.79 407.32L529.79 407.5L529.84 405.89L530.04 406.33L530.04 406.44L530.2 408.19L530.25 405.74L530.29 406.96L530.29 407.16L530.44 408L530.5 406.22L530.54 406.48L530.54 406.22L530.56 405.76L530.63 407.38L530.79 406.69L530.79 406.91L530.89 405.75L531.03 407.42L531.04 407.4L531.04 407.26L531.16 407.53L531.23 406.14L531.29 406.61L531.29 406.65L531.35 405.83L531.4 407.48L531.54 406.9L531.54 406.82L531.54 406.37L531.77 408.18L531.79 407.58L531.79 407.5L531.82 406.09L532.01 407.87L532.04 407.49L532.04 407.65L532.27 406.31L532.28 406.55L532.29 406.46L532.29 406.12L532.41 407.49L532.54 406.88L532.54 406.57L532.54 406.31L532.66 407.8L532.79 406.82L532.79 406.87L532.91 407.64L533.03 406.05L533.04 406.48L533.04 406.47L533.11 406.22L533.26 407.75L533.29 407.39L533.29 407.42L533.43 406.14L533.47 407.61L533.54 407.19L533.54 407.14L533.57 408.06L533.73 405.99L533.79 406.63L533.79 406.66L533.8 406.22L533.87 407.62L534.04 406.27L534.04 406.23L534.26 407.62L534.29 407.27L534.29 407.36L534.29 407.47L534.51 406.03L534.54 407.02L534.54 407.07L534.63 406.32L534.78 407.81L534.79 407.64L534.79 407.73L534.8 408.46L534.88 406.35L535.04 406.7L535.04 406.65L535.14 406.12L535.24 407.42L535.29 406.5L535.29 406.56L535.31 407.76L535.38 406.36L535.54 407.19L535.54 407.22L535.57 406.35L535.71 407.89L535.79 407.3L535.79 407.29L535.88 407.89L536 406.35L536.04 406.72L536.04 406.79L536.11 406.24L536.18 408.02L536.29 406.63L536.29 406.8L536.46 407.78L536.49 406.28L536.53 407.23L536.54 407.24L536.56 407.86L536.66 405.7L536.79 407L536.79 407.09L536.93 406.27L537 407.65L537.04 407.08L537.04 406.97L537.06 405.92L537.25 407.44L537.29 406.84L537.29 406.83L537.4 406.06L537.52 407.68L537.54 406.74L537.54 406.76L537.61 407.52L537.7 405.97L537.79 407.15L537.79 406.99L537.82 406.34L537.85 407.47L538.04 407.15L538.04 406.89L538.06 406.37L538.18 408.41L538.29 407.7L538.29 407.77L538.31 408.34L538.39 406.55L538.54 407.39L538.54 407.41L538.67 407.98L538.77 406.47L538.79 406.72L538.79 406.75L538.9 407.94L539.02 406.54L539.04 406.92L539.04 406.98L539.09 407.96L539.22 406.61L539.29 407.29L539.29 407.32L539.31 407.79L539.39 405.47L539.54 407.11L539.54 407.26L539.58 407.86L539.64 406.13L539.79 406.5L539.79 406.48L539.8 405.96L539.92 407.88L540.04 406.87L540.04 406.85L540.04 406.57L540.25 408.2L540.29 407.58L540.29 407.43L540.3 407.51L540.42 405.96L540.54 406.93L540.54 406.77L540.62 408.15L540.76 406.25L540.78 406.57L540.79 406.63L540.89 406.02L540.96 407.71L541.04 406.79L541.04 406.73L541.21 407.86L541.26 405.94L541.29 406.55L541.29 406.48L541.32 405.94L541.48 408.18L541.54 406.4L541.54 406.42L541.63 406.01L541.78 408.05L541.79 408.02L541.79 407.85L541.98 406.46L542.02 408.01L542.04 407.44L542.04 407.45L542.06 407.77L542.12 406.07L542.29 406.6L542.29 406.33L542.32 405.88L542.51 407.78L542.54 406.9L542.54 407.01L542.68 407.78L542.78 405.66L542.79 406.02L542.79 406.14L542.9 407.27L542.97 405.9L543.04 406.59L543.04 406.66L543.16 407.61L543.24 406.15L543.29 406.97L543.29 406.68L543.34 405.52L543.53 408.02L543.54 407.65L543.54 407.56L543.57 408.44L543.68 405.68L543.79 407.77L543.79 407.83L543.79 408.24L543.99 406.04L544.04 406.5L544.04 406.64L544.21 405.78L544.27 407.73L544.29 407.08L544.29 406.89L544.31 406.01L544.47 407.74L544.54 406.76L544.54 406.96L544.61 407.64L544.76 405.97L544.79 406.77L544.79 406.81L544.93 407.84L544.99 406.51L545.04 406.96L545.04 406.91L545.18 407.59L545.24 406.12L545.29 406.7L545.29 406.81L545.4 407.79L545.51 406.03L545.54 406.64L545.54 406.62L545.69 406.1L545.75 408.18L545.79 407.51L545.79 407.5L545.85 408.46L545.91 406.86L546.04 407.02L546.04 407L546.06 407.4L546.16 405.59L546.29 406.96L546.29 407.08L546.33 406.06L546.47 408L546.54 407.66L546.54 407.6L546.56 408.11L546.78 406.77L546.79 406.8L546.79 406.89L546.84 407.39L546.97 406.23L547.04 406.51L547.04 406.48L547.04 406.37L547.15 407.66L547.29 407.2L547.29 407.2L547.51 406.67L547.53 408.18L547.54 407.57L547.54 407.71L547.55 407.83L547.58 406.24L547.79 406.7L547.79 406.75L547.86 407.6L547.95 406.32L548.04 406.84L548.04 406.74L548.15 407.39L548.23 405.88L548.29 406.77L548.29 406.58L548.29 406L548.33 407.62L548.54 406.93L548.54 407.02L548.63 406.39L548.74 407.98L548.79 406.87L548.79 406.88L548.89 407.82L549.01 406.29L549.04 406.72L549.04 406.65L549.16 407.8L549.23 405.87L549.29 406.93L549.29 406.94L549.32 405.86L549.54 407.69L549.54 407.61L549.68 406.63L549.74 408.21L549.79 407.31L549.79 407.45L549.84 407.75L549.98 405.86L550.04 406.94L550.04 406.97L550.13 407.92L550.27 406.7L550.29 406.91L550.29 406.95L550.3 406.18L550.38 408.27L550.54 407.33L550.54 407.3L550.67 406.68L550.76 408.01L550.79 407.57L550.79 407.7L550.79 408.08L551.02 406.56L551.04 407.07L551.04 406.94L551.15 406.44L551.22 407.83L551.29 407.12L551.29 407.26L551.43 406.18L551.53 407.74L551.54 407.6L551.54 407.63L551.6 408.46L551.75 406.63L551.79 407.16L551.79 407.14L551.82 407.9L552.03 406.46L552.04 406.7L552.04 406.61L552.08 406.28L552.15 408.03L552.29 407L552.29 406.87L552.44 406.31L552.5 408.08L552.54 407.08L552.54 407.11L552.55 407.47L552.65 406.2L552.79 406.79L552.79 406.89L552.8 406L553.01 407.7L553.04 407.14L553.04 407L553.14 408.31L553.28 406.36L553.29 406.72L553.29 406.76L553.34 407.44L553.45 406.52L553.45 406.82"/></defs>
<g clip-path="url(#ax)">
<g opacity="0.4">
<path class="ln" d="M102.55 82.28L102.55 74.4L102.68 92.43L102.8 85.22L102.8 84.55L102.81 84.17L103.04 97.32L103.05 94.87L103.05 95.31L103.07 95.05L103.3 105.96L103.3 105.29L103.3 104.73L103.54 121.21L103.55 120.8L103.55 121.67L103.55 120.68L103.8 147.47L103.8 147.73L103.8 147.33L104.04 173.52L104.05 173.33L104.05 173.48L104.3 199.35L104.3 199.11L104.3 199.4L104.3 199.12L104.55 225.2L104.55 225.33L104.55 225.15L104.8 250.11L104.8 250.18L104.8 250.15L105.05 275.26L105.05 275.03L105.29 300.13L105.3 299.94L105.3 300.14L105.3 299.98L105.54 324.31L105.55 324.22L105.55 324.2L105.56 324.16L105.8 347.31L105.8 346.79L106.04 370.21L106.05 370.12L106.05 370.1L106.05 369.65L106.29 378.31L106.3 377.73L106.3 378.07L106.3 377.9L106.55 386.74L106.55 384.96L106.55 385.72L106.57 384.69L106.79 392.48L106.8 389.62L106.8 390.97L106.8 389.14L107.04 397.04L107.05 394.73L107.05 396.48L107.11 393.78L107.25 398.75L107.29 397.07"/>
<use href="#po" class="ln"/>
<use href="#po" class="ln cr"/>
</g>
<path class="ln" d="M102.55 82.28L102.55 81.49L102.68 87.85L102.8 84.3L102.8 84.32L103.04 95.89L103.05 95.79L103.05 95.74L103.3 104.92L103.3 104.96L103.55 120.21L103.55 120.36L103.8 146.27L103.8 146.41L104.05 172.39L104.05 172.5L104.3 198.45L104.3 198.55L104.55 224.11L104.55 224.23L104.8 249L104.8 249.12L105.05 274.16L105.05 274.25L105.3 299.18L105.3 299.28L105.55 323.38L105.55 323.47L105.8 346.15L105.8 346.21L106.05 369.29L106.05 369.37L106.29 377.86L106.3 377.83L106.3 377.85L106.55 385.49L106.55 385.44L106.55 385.47L106.79 390.63L106.8 390.46L106.8 390.51L106.8 390.37L107.04 395.67L107.05 395.28L107.05 395.4L107.07 395.27L107.28 397.43L107.29 397.02"/>
<use href="#ps" class="ln"/>
<use href="#ps" class="ln cr"/>
</g>
<path class="sp" d="M80.5 427.5V58.5M576.5 427.5V58.5M80.5 427.5H576.5M80.5 58.5H576.5"/>
<text class="h" text-anchor="middle" transform="translate(328.30 50.00) scale(1 1.0600)" x="0.00" textLength="650.25" lengthAdjust="spacing">training loss of saves/prefix-tuning/llama-3-8b-instruct/train_qqp_1754652130</text>
<rect x="450.5" y="65.5" width="119" height="46" rx="2.78" fill="#fff" fill-opacity="0.8" stroke="#ccc" stroke-opacity="0.8" stroke-width="1.389"/>
<path class="ln" stroke-opacity="0.4" d="M455 76h28"/>
<path class="ln" d="M455 97h28"/>
<g class="t"><text x="494.13" textLength="52.12" lengthAdjust="spacing" y="80.65">original</text><text x="494.13" textLength="69.25" lengthAdjust="spacing" y="102.04">smoothed</text></g>
</svg>
</body>
</html>
